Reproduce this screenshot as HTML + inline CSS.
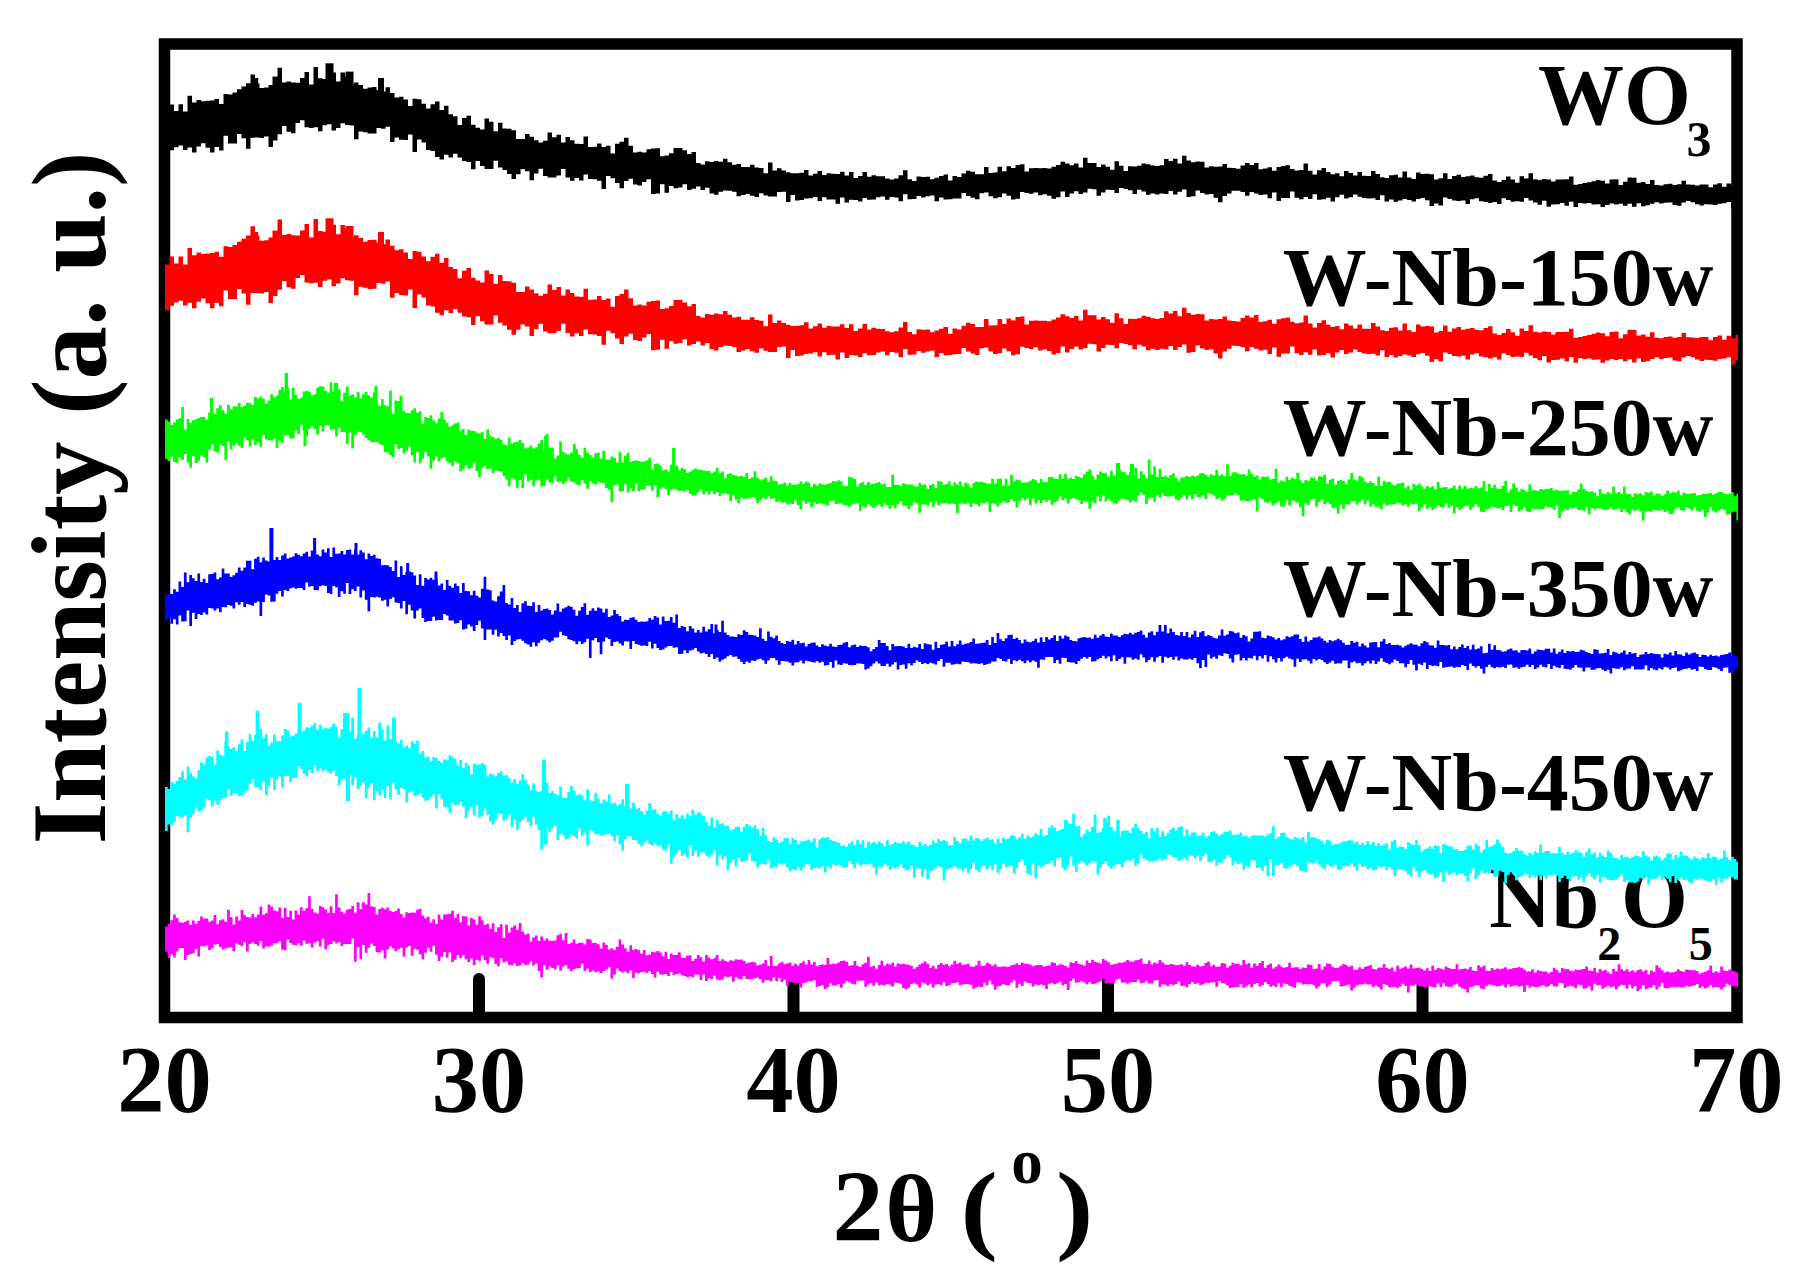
<!DOCTYPE html>
<html lang="en"><head><meta charset="utf-8"><title>XRD patterns</title>
<style>html,body{margin:0;padding:0;background:#fff}body{width:1805px;height:1286px;overflow:hidden}</style></head>
<body>
<svg width="1805" height="1286" viewBox="0 0 1805 1286" style="display:block">
<rect width="1805" height="1286" fill="#fff"/>
<rect x="164.5" y="44" width="1572.5" height="973.5" fill="none" stroke="#000" stroke-width="11.5"/>
<path d="M473.0 1012 V979 a6 6 0 0 1 12 0 V1012Z" fill="#000"/>
<path d="M787.5 1012 V979 a6 6 0 0 1 12 0 V1012Z" fill="#000"/>
<path d="M1102.0 1012 V979 a6 6 0 0 1 12 0 V1012Z" fill="#000"/>
<path d="M1416.5 1012 V979 a6 6 0 0 1 12 0 V1012Z" fill="#000"/>
<g style="font-family:'Liberation Serif',serif;font-weight:bold" fill="#000">
<text x="1538" y="124" font-size="86">WO</text>
<text x="1686.6" y="156.2" font-size="50">3</text>
<text x="1282.8" y="305.2" font-size="83.5" textLength="430.6" lengthAdjust="spacingAndGlyphs">W-Nb-150w</text>
<text x="1282.8" y="455.4" font-size="83.5" textLength="430.6" lengthAdjust="spacingAndGlyphs">W-Nb-250w</text>
<text x="1282.8" y="615.8" font-size="83.5" textLength="430.6" lengthAdjust="spacingAndGlyphs">W-Nb-350w</text>
<text x="1282.8" y="810.2" font-size="83.5" textLength="430.6" lengthAdjust="spacingAndGlyphs">W-Nb-450w</text>
<text x="1489.3" y="927" font-size="86">Nb</text>
<text x="1597.3" y="960" font-size="48">2</text>
<text x="1621" y="927" font-size="86">O</text>
<text x="1688.8" y="960" font-size="48">5</text>
<text x="164.4" y="1112.2" font-size="94.5" text-anchor="middle">20</text>
<text x="479.0" y="1112.2" font-size="94.5" text-anchor="middle">30</text>
<text x="793.5" y="1112.2" font-size="94.5" text-anchor="middle">40</text>
<text x="1108.0" y="1112.2" font-size="94.5" text-anchor="middle">50</text>
<text x="1422.5" y="1112.2" font-size="94.5" text-anchor="middle">60</text>
<text x="1736.2" y="1112.2" font-size="94.5" text-anchor="middle">70</text>
<text x="832.5" y="1240.8" font-size="102">2</text>
<text transform="translate(885.3 1240.7) scale(1.05 1)" font-size="95">θ</text>
<text transform="translate(960.5 1241) scale(1.12 1)" font-size="100">(</text>
<text x="1011.3" y="1182.8" font-size="63">o</text>
<text transform="translate(1056 1241) scale(1.12 1)" font-size="100">)</text>
<text transform="translate(104.7 844.3) rotate(-90)" font-size="106.6">Intensity (a. u.)</text>
</g>
<path fill="#000000" d="M165.0 111.9 L169.5 111.9 L169.5 104.5 L174.0 104.5 L174.0 110.9 L178.5 110.9 L178.5 104.2 L183.0 104.2 L183.0 111.5 L187.5 111.5 L187.5 95.7 L192.0 95.7 L192.0 102.6 L196.5 102.6 L196.5 100.1 L201.0 100.1 L201.0 101.2 L205.5 101.2 L205.5 100.7 L210.0 100.7 L210.0 100.4 L214.5 100.4 L214.5 99.1 L219.0 99.1 L219.0 103.9 L223.5 103.9 L223.5 93.9 L228.0 93.9 L228.0 94.4 L232.5 94.4 L232.5 92.4 L237.0 92.4 L237.0 89.3 L241.5 89.3 L241.5 86.5 L246.0 86.5 L246.0 83.3 L250.5 83.3 L250.5 74.4 L255.0 74.4 L255.0 83.5 L259.5 83.5 L259.5 88.0 L264.0 88.0 L264.0 87.5 L268.5 87.5 L268.5 85.0 L273.0 85.0 L273.0 78.8 L277.5 78.8 L277.5 67.7 L282.0 67.7 L282.0 82.4 L286.5 82.4 L286.5 81.6 L291.0 81.6 L291.0 82.6 L295.5 82.6 L295.5 82.8 L300.0 82.8 L300.0 77.9 L304.5 77.9 L304.5 71.9 L309.0 71.9 L309.0 84.4 L313.5 84.4 L313.5 67.1 L318.0 67.1 L318.0 78.3 L322.5 78.3 L322.5 78.9 L327.0 78.9 L327.0 76.9 L331.5 76.9 L331.5 72.4 L336.0 72.4 L336.0 81.4 L340.5 81.4 L340.5 72.6 L345.0 72.6 L345.0 76.4 L349.5 76.4 L349.5 84.1 L354.0 84.1 L354.0 82.6 L358.5 82.6 L358.5 84.9 L363.0 84.9 L363.0 88.8 L367.5 88.8 L367.5 87.4 L372.0 87.4 L372.0 87.0 L376.5 87.0 L376.5 89.9 L381.0 89.9 L381.0 91.5 L385.5 91.5 L385.5 87.2 L390.0 87.2 L390.0 93.0 L394.5 93.0 L394.5 97.4 L399.0 97.4 L399.0 96.7 L403.5 96.7 L403.5 99.6 L408.0 99.6 L408.0 106.0 L412.5 106.0 L412.5 98.7 L417.0 98.7 L417.0 99.3 L421.5 99.3 L421.5 103.8 L426.0 103.8 L426.0 108.5 L430.5 108.5 L430.5 104.3 L435.0 104.3 L435.0 101.5 L439.5 101.5 L439.5 110.1 L444.0 110.1 L444.0 105.8 L448.5 105.8 L448.5 114.2 L453.0 114.2 L453.0 116.3 L457.5 116.3 L457.5 125.0 L462.0 125.0 L462.0 118.1 L466.5 118.1 L466.5 115.8 L471.0 115.8 L471.0 124.8 L475.5 124.8 L475.5 127.7 L480.0 127.7 L480.0 129.5 L484.5 129.5 L484.5 118.4 L489.0 118.4 L489.0 121.8 L493.5 121.8 L493.5 131.2 L498.0 131.2 L498.0 122.8 L502.5 122.8 L502.5 128.6 L507.0 128.6 L507.0 128.7 L511.5 128.7 L511.5 130.2 L516.0 130.2 L516.0 138.9 L520.5 138.9 L520.5 139.1 L525.0 139.1 L525.0 134.0 L529.5 134.0 L529.5 136.8 L534.0 136.8 L534.0 140.3 L538.5 140.3 L538.5 142.6 L543.0 142.6 L543.0 140.8 L547.5 140.8 L547.5 132.4 L552.0 132.4 L552.0 137.3 L556.5 137.3 L556.5 134.7 L561.0 134.7 L561.0 142.6 L565.5 142.6 L565.5 137.0 L570.0 137.0 L570.0 140.3 L574.5 140.3 L574.5 143.8 L579.0 143.8 L579.0 144.1 L583.5 144.1 L583.5 136.6 L588.0 136.6 L588.0 147.0 L592.5 147.0 L592.5 146.8 L597.0 146.8 L597.0 143.5 L601.5 143.5 L601.5 147.1 L606.0 147.1 L606.0 145.8 L610.5 145.8 L610.5 153.5 L615.0 153.5 L615.0 143.7 L619.5 143.7 L619.5 141.8 L624.0 141.8 L624.0 137.7 L628.5 137.7 L628.5 145.8 L633.0 145.8 L633.0 152.6 L637.5 152.6 L637.5 151.7 L642.0 151.7 L642.0 152.6 L646.5 152.6 L646.5 149.2 L651.0 149.2 L651.0 148.6 L655.5 148.6 L655.5 148.2 L660.0 148.2 L660.0 156.2 L664.5 156.2 L664.5 155.5 L669.0 155.5 L669.0 153.3 L673.5 153.3 L673.5 148.0 L678.0 148.0 L678.0 148.0 L682.5 148.0 L682.5 150.2 L687.0 150.2 L687.0 153.9 L691.5 153.9 L691.5 151.9 L696.0 151.9 L696.0 163.1 L700.5 163.1 L700.5 164.5 L705.0 164.5 L705.0 161.2 L709.5 161.2 L709.5 162.0 L714.0 162.0 L714.0 161.0 L718.5 161.0 L718.5 161.7 L723.0 161.7 L723.0 158.7 L727.5 158.7 L727.5 162.3 L732.0 162.3 L732.0 164.7 L736.5 164.7 L736.5 164.1 L741.0 164.1 L741.0 166.9 L745.5 166.9 L745.5 167.0 L750.0 167.0 L750.0 164.8 L754.5 164.8 L754.5 167.4 L759.0 167.4 L759.0 168.0 L763.5 168.0 L763.5 173.2 L768.0 173.2 L768.0 162.5 L772.5 162.5 L772.5 170.4 L777.0 170.4 L777.0 168.2 L781.5 168.2 L781.5 170.6 L786.0 170.6 L786.0 172.2 L790.5 172.2 L790.5 173.3 L795.0 173.3 L795.0 173.2 L799.5 173.2 L799.5 172.7 L804.0 172.7 L804.0 170.1 L808.5 170.1 L808.5 175.6 L813.0 175.6 L813.0 173.7 L817.5 173.7 L817.5 171.1 L822.0 171.1 L822.0 174.9 L826.5 174.9 L826.5 173.3 L831.0 173.3 L831.0 173.7 L835.5 173.7 L835.5 173.9 L840.0 173.9 L840.0 171.8 L844.5 171.8 L844.5 175.4 L849.0 175.4 L849.0 171.9 L853.5 171.9 L853.5 178.0 L858.0 178.0 L858.0 175.9 L862.5 175.9 L862.5 171.9 L867.0 171.9 L867.0 176.8 L871.5 176.8 L871.5 175.2 L876.0 175.2 L876.0 176.2 L880.5 176.2 L880.5 176.3 L885.0 176.3 L885.0 178.5 L889.5 178.5 L889.5 179.4 L894.0 179.4 L894.0 178.4 L898.5 178.4 L898.5 175.2 L903.0 175.2 L903.0 170.2 L907.5 170.2 L907.5 179.2 L912.0 179.2 L912.0 181.0 L916.5 181.0 L916.5 176.6 L921.0 176.6 L921.0 177.1 L925.5 177.1 L925.5 176.8 L930.0 176.8 L930.0 179.2 L934.5 179.2 L934.5 177.8 L939.0 177.8 L939.0 176.1 L943.5 176.1 L943.5 174.6 L948.0 174.6 L948.0 180.4 L952.5 180.4 L952.5 175.9 L957.0 175.9 L957.0 176.9 L961.5 176.9 L961.5 173.5 L966.0 173.5 L966.0 170.7 L970.5 170.7 L970.5 171.7 L975.0 171.7 L975.0 174.3 L979.5 174.3 L979.5 174.3 L984.0 174.3 L984.0 167.1 L988.5 167.1 L988.5 172.9 L993.0 172.9 L993.0 172.5 L997.5 172.5 L997.5 166.7 L1002.0 166.7 L1002.0 171.2 L1006.5 171.2 L1006.5 166.2 L1011.0 166.2 L1011.0 168.1 L1015.5 168.1 L1015.5 165.0 L1020.0 165.0 L1020.0 164.3 L1024.5 164.3 L1024.5 171.6 L1029.0 171.6 L1029.0 168.2 L1033.5 168.2 L1033.5 168.0 L1038.0 168.0 L1038.0 168.2 L1042.5 168.2 L1042.5 168.0 L1047.0 168.0 L1047.0 168.4 L1051.5 168.4 L1051.5 166.8 L1056.0 166.8 L1056.0 164.9 L1060.5 164.9 L1060.5 161.8 L1065.0 161.8 L1065.0 163.6 L1069.5 163.6 L1069.5 165.3 L1074.0 165.3 L1074.0 163.5 L1078.5 163.5 L1078.5 167.6 L1083.0 167.6 L1083.0 157.8 L1087.5 157.8 L1087.5 163.0 L1092.0 163.0 L1092.0 163.0 L1096.5 163.0 L1096.5 166.9 L1101.0 166.9 L1101.0 164.5 L1105.5 164.5 L1105.5 166.7 L1110.0 166.7 L1110.0 169.8 L1114.5 169.8 L1114.5 161.2 L1119.0 161.2 L1119.0 165.7 L1123.5 165.7 L1123.5 171.1 L1128.0 171.1 L1128.0 166.3 L1132.5 166.3 L1132.5 166.6 L1137.0 166.6 L1137.0 165.8 L1141.5 165.8 L1141.5 163.4 L1146.0 163.4 L1146.0 164.2 L1150.5 164.2 L1150.5 165.6 L1155.0 165.6 L1155.0 166.1 L1159.5 166.1 L1159.5 165.2 L1164.0 165.2 L1164.0 159.0 L1168.5 159.0 L1168.5 160.9 L1173.0 160.9 L1173.0 158.7 L1177.5 158.7 L1177.5 163.6 L1182.0 163.6 L1182.0 155.7 L1186.5 155.7 L1186.5 160.6 L1191.0 160.6 L1191.0 162.2 L1195.5 162.2 L1195.5 161.5 L1200.0 161.5 L1200.0 161.8 L1204.5 161.8 L1204.5 167.5 L1209.0 167.5 L1209.0 166.3 L1213.5 166.3 L1213.5 166.7 L1218.0 166.7 L1218.0 166.4 L1222.5 166.4 L1222.5 163.9 L1227.0 163.9 L1227.0 167.8 L1231.5 167.8 L1231.5 168.1 L1236.0 168.1 L1236.0 168.8 L1240.5 168.8 L1240.5 165.5 L1245.0 165.5 L1245.0 163.1 L1249.5 163.1 L1249.5 165.1 L1254.0 165.1 L1254.0 162.9 L1258.5 162.9 L1258.5 169.3 L1263.0 169.3 L1263.0 168.5 L1267.5 168.5 L1267.5 167.2 L1272.0 167.2 L1272.0 170.8 L1276.5 170.8 L1276.5 166.9 L1281.0 166.9 L1281.0 165.9 L1285.5 165.9 L1285.5 165.3 L1290.0 165.3 L1290.0 169.1 L1294.5 169.1 L1294.5 170.6 L1299.0 170.6 L1299.0 169.9 L1303.5 169.9 L1303.5 163.4 L1308.0 163.4 L1308.0 170.8 L1312.5 170.8 L1312.5 174.4 L1317.0 174.4 L1317.0 170.3 L1321.5 170.3 L1321.5 168.0 L1326.0 168.0 L1326.0 172.1 L1330.5 172.1 L1330.5 174.2 L1335.0 174.2 L1335.0 173.2 L1339.5 173.2 L1339.5 176.2 L1344.0 176.2 L1344.0 171.0 L1348.5 171.0 L1348.5 172.9 L1353.0 172.9 L1353.0 175.5 L1357.5 175.5 L1357.5 171.9 L1362.0 171.9 L1362.0 175.8 L1366.5 175.8 L1366.5 175.9 L1371.0 175.9 L1371.0 170.9 L1375.5 170.9 L1375.5 174.0 L1380.0 174.0 L1380.0 177.3 L1384.5 177.3 L1384.5 177.9 L1389.0 177.9 L1389.0 175.2 L1393.5 175.2 L1393.5 174.7 L1398.0 174.7 L1398.0 177.6 L1402.5 177.6 L1402.5 171.4 L1407.0 171.4 L1407.0 177.4 L1411.5 177.4 L1411.5 179.1 L1416.0 179.1 L1416.0 172.4 L1420.5 172.4 L1420.5 174.1 L1425.0 174.1 L1425.0 173.7 L1429.5 173.7 L1429.5 174.2 L1434.0 174.2 L1434.0 179.4 L1438.5 179.4 L1438.5 178.2 L1443.0 178.2 L1443.0 173.2 L1447.5 173.2 L1447.5 178.9 L1452.0 178.9 L1452.0 175.9 L1456.5 175.9 L1456.5 174.8 L1461.0 174.8 L1461.0 177.1 L1465.5 177.1 L1465.5 176.3 L1470.0 176.3 L1470.0 175.6 L1474.5 175.6 L1474.5 177.2 L1479.0 177.2 L1479.0 177.7 L1483.5 177.7 L1483.5 175.8 L1488.0 175.8 L1488.0 174.1 L1492.5 174.1 L1492.5 180.6 L1497.0 180.6 L1497.0 182.1 L1501.5 182.1 L1501.5 180.1 L1506.0 180.1 L1506.0 176.5 L1510.5 176.5 L1510.5 179.6 L1515.0 179.6 L1515.0 182.7 L1519.5 182.7 L1519.5 176.3 L1524.0 176.3 L1524.0 178.4 L1528.5 178.4 L1528.5 173.3 L1533.0 173.3 L1533.0 179.2 L1537.5 179.2 L1537.5 180.0 L1542.0 180.0 L1542.0 179.0 L1546.5 179.0 L1546.5 179.5 L1551.0 179.5 L1551.0 181.6 L1555.5 181.6 L1555.5 179.5 L1560.0 179.5 L1560.0 179.4 L1564.5 179.4 L1564.5 179.2 L1569.0 179.2 L1569.0 176.5 L1573.5 176.5 L1573.5 184.7 L1578.0 184.7 L1578.0 184.1 L1582.5 184.1 L1582.5 183.0 L1587.0 183.0 L1587.0 182.3 L1591.5 182.3 L1591.5 181.2 L1596.0 181.2 L1596.0 180.1 L1600.5 180.1 L1600.5 180.8 L1605.0 180.8 L1605.0 183.4 L1609.5 183.4 L1609.5 179.6 L1614.0 179.6 L1614.0 179.3 L1618.5 179.3 L1618.5 185.1 L1623.0 185.1 L1623.0 181.7 L1627.5 181.7 L1627.5 177.6 L1632.0 177.6 L1632.0 177.8 L1636.5 177.8 L1636.5 182.7 L1641.0 182.7 L1641.0 182.0 L1645.5 182.0 L1645.5 183.9 L1650.0 183.9 L1650.0 180.1 L1654.5 180.1 L1654.5 185.0 L1659.0 185.0 L1659.0 185.4 L1663.5 185.4 L1663.5 184.2 L1668.0 184.2 L1668.0 183.8 L1672.5 183.8 L1672.5 184.9 L1677.0 184.9 L1677.0 184.3 L1681.5 184.3 L1681.5 180.7 L1686.0 180.7 L1686.0 184.6 L1690.5 184.6 L1690.5 184.7 L1695.0 184.7 L1695.0 185.4 L1699.5 185.4 L1699.5 184.5 L1704.0 184.5 L1704.0 184.6 L1708.5 184.6 L1708.5 187.2 L1713.0 187.2 L1713.0 184.5 L1717.5 184.5 L1717.5 183.2 L1722.0 183.2 L1722.0 186.8 L1726.5 186.8 L1726.5 183.4 L1731.0 183.4 L1731.0 185.5 L1735.5 185.5 L1735.5 182.5 L1738.0 182.5 L1738.0 204.6 L1735.5 204.6 L1735.5 208.6 L1731.0 208.6 L1731.0 202.1 L1726.5 202.1 L1726.5 203.2 L1722.0 203.2 L1722.0 203.7 L1717.5 203.7 L1717.5 205.1 L1713.0 205.1 L1713.0 204.6 L1708.5 204.6 L1708.5 204.3 L1704.0 204.3 L1704.0 205.6 L1699.5 205.6 L1699.5 204.2 L1695.0 204.2 L1695.0 202.2 L1690.5 202.2 L1690.5 201.0 L1686.0 201.0 L1686.0 202.4 L1681.5 202.4 L1681.5 205.7 L1677.0 205.7 L1677.0 205.0 L1672.5 205.0 L1672.5 202.4 L1668.0 202.4 L1668.0 202.8 L1663.5 202.8 L1663.5 203.6 L1659.0 203.6 L1659.0 202.2 L1654.5 202.2 L1654.5 203.7 L1650.0 203.7 L1650.0 205.3 L1645.5 205.3 L1645.5 206.2 L1641.0 206.2 L1641.0 203.2 L1636.5 203.2 L1636.5 206.7 L1632.0 206.7 L1632.0 203.8 L1627.5 203.8 L1627.5 205.7 L1623.0 205.7 L1623.0 203.7 L1618.5 203.7 L1618.5 204.6 L1614.0 204.6 L1614.0 203.6 L1609.5 203.6 L1609.5 204.9 L1605.0 204.9 L1605.0 207.1 L1600.5 207.1 L1600.5 204.2 L1596.0 204.2 L1596.0 204.4 L1591.5 204.4 L1591.5 202.9 L1587.0 202.9 L1587.0 203.6 L1582.5 203.6 L1582.5 203.0 L1578.0 203.0 L1578.0 206.9 L1573.5 206.9 L1573.5 201.8 L1569.0 201.8 L1569.0 205.7 L1564.5 205.7 L1564.5 203.0 L1560.0 203.0 L1560.0 204.2 L1555.5 204.2 L1555.5 204.6 L1551.0 204.6 L1551.0 206.7 L1546.5 206.7 L1546.5 200.8 L1542.0 200.8 L1542.0 204.8 L1537.5 204.8 L1537.5 202.6 L1533.0 202.6 L1533.0 200.4 L1528.5 200.4 L1528.5 198.0 L1524.0 198.0 L1524.0 201.7 L1519.5 201.7 L1519.5 201.3 L1515.0 201.3 L1515.0 201.7 L1510.5 201.7 L1510.5 200.0 L1506.0 200.0 L1506.0 198.3 L1501.5 198.3 L1501.5 204.0 L1497.0 204.0 L1497.0 202.0 L1492.5 202.0 L1492.5 203.0 L1488.0 203.0 L1488.0 201.9 L1483.5 201.9 L1483.5 201.2 L1479.0 201.2 L1479.0 198.3 L1474.5 198.3 L1474.5 199.3 L1470.0 199.3 L1470.0 204.0 L1465.5 204.0 L1465.5 200.5 L1461.0 200.5 L1461.0 201.1 L1456.5 201.1 L1456.5 200.6 L1452.0 200.6 L1452.0 199.0 L1447.5 199.0 L1447.5 197.6 L1443.0 197.6 L1443.0 205.4 L1438.5 205.4 L1438.5 203.5 L1434.0 203.5 L1434.0 205.9 L1429.5 205.9 L1429.5 200.3 L1425.0 200.3 L1425.0 197.9 L1420.5 197.9 L1420.5 199.0 L1416.0 199.0 L1416.0 201.4 L1411.5 201.4 L1411.5 200.0 L1407.0 200.0 L1407.0 199.1 L1402.5 199.1 L1402.5 200.6 L1398.0 200.6 L1398.0 201.8 L1393.5 201.8 L1393.5 199.5 L1389.0 199.5 L1389.0 201.4 L1384.5 201.4 L1384.5 195.2 L1380.0 195.2 L1380.0 199.9 L1375.5 199.9 L1375.5 198.3 L1371.0 198.3 L1371.0 198.4 L1366.5 198.4 L1366.5 198.0 L1362.0 198.0 L1362.0 196.7 L1357.5 196.7 L1357.5 194.5 L1353.0 194.5 L1353.0 197.2 L1348.5 197.2 L1348.5 198.6 L1344.0 198.6 L1344.0 194.8 L1339.5 194.8 L1339.5 197.2 L1335.0 197.2 L1335.0 201.5 L1330.5 201.5 L1330.5 197.7 L1326.0 197.7 L1326.0 199.3 L1321.5 199.3 L1321.5 199.7 L1317.0 199.7 L1317.0 194.3 L1312.5 194.3 L1312.5 199.1 L1308.0 199.1 L1308.0 196.9 L1303.5 196.9 L1303.5 199.3 L1299.0 199.3 L1299.0 197.8 L1294.5 197.8 L1294.5 191.5 L1290.0 191.5 L1290.0 198.0 L1285.5 198.0 L1285.5 197.9 L1281.0 197.9 L1281.0 200.9 L1276.5 200.9 L1276.5 192.4 L1272.0 192.4 L1272.0 198.2 L1267.5 198.2 L1267.5 194.5 L1263.0 194.5 L1263.0 195.0 L1258.5 195.0 L1258.5 193.5 L1254.0 193.5 L1254.0 191.9 L1249.5 191.9 L1249.5 195.7 L1245.0 195.7 L1245.0 192.0 L1240.5 192.0 L1240.5 190.8 L1236.0 190.8 L1236.0 190.7 L1231.5 190.7 L1231.5 193.4 L1227.0 193.4 L1227.0 196.0 L1222.5 196.0 L1222.5 202.2 L1218.0 202.2 L1218.0 197.8 L1213.5 197.8 L1213.5 193.9 L1209.0 193.9 L1209.0 194.4 L1204.5 194.4 L1204.5 192.9 L1200.0 192.9 L1200.0 190.5 L1195.5 190.5 L1195.5 196.2 L1191.0 196.2 L1191.0 197.1 L1186.5 197.1 L1186.5 189.5 L1182.0 189.5 L1182.0 191.7 L1177.5 191.7 L1177.5 194.6 L1173.0 194.6 L1173.0 190.9 L1168.5 190.9 L1168.5 193.9 L1164.0 193.9 L1164.0 193.4 L1159.5 193.4 L1159.5 194.5 L1155.0 194.5 L1155.0 193.4 L1150.5 193.4 L1150.5 194.8 L1146.0 194.8 L1146.0 191.5 L1141.5 191.5 L1141.5 189.8 L1137.0 189.8 L1137.0 193.9 L1132.5 193.9 L1132.5 190.3 L1128.0 190.3 L1128.0 189.0 L1123.5 189.0 L1123.5 188.1 L1119.0 188.1 L1119.0 192.9 L1114.5 192.9 L1114.5 190.0 L1110.0 190.0 L1110.0 189.7 L1105.5 189.7 L1105.5 192.6 L1101.0 192.6 L1101.0 195.8 L1096.5 195.8 L1096.5 189.2 L1092.0 189.2 L1092.0 188.8 L1087.5 188.8 L1087.5 192.5 L1083.0 192.5 L1083.0 193.9 L1078.5 193.9 L1078.5 191.2 L1074.0 191.2 L1074.0 193.5 L1069.5 193.5 L1069.5 196.9 L1065.0 196.9 L1065.0 191.5 L1060.5 191.5 L1060.5 197.3 L1056.0 197.3 L1056.0 198.7 L1051.5 198.7 L1051.5 195.7 L1047.0 195.7 L1047.0 194.2 L1042.5 194.2 L1042.5 195.3 L1038.0 195.3 L1038.0 192.4 L1033.5 192.4 L1033.5 193.8 L1029.0 193.8 L1029.0 192.9 L1024.5 192.9 L1024.5 191.9 L1020.0 191.9 L1020.0 198.7 L1015.5 198.7 L1015.5 199.6 L1011.0 199.6 L1011.0 195.8 L1006.5 195.8 L1006.5 193.4 L1002.0 193.4 L1002.0 197.3 L997.5 197.3 L997.5 198.2 L993.0 198.2 L993.0 196.2 L988.5 196.2 L988.5 192.5 L984.0 192.5 L984.0 193.3 L979.5 193.3 L979.5 199.3 L975.0 199.3 L975.0 197.8 L970.5 197.8 L970.5 196.0 L966.0 196.0 L966.0 193.1 L961.5 193.1 L961.5 198.4 L957.0 198.4 L957.0 198.6 L952.5 198.6 L952.5 199.3 L948.0 199.3 L948.0 199.5 L943.5 199.5 L943.5 197.4 L939.0 197.4 L939.0 201.2 L934.5 201.2 L934.5 195.5 L930.0 195.5 L930.0 196.3 L925.5 196.3 L925.5 197.4 L921.0 197.4 L921.0 195.9 L916.5 195.9 L916.5 199.0 L912.0 199.0 L912.0 199.2 L907.5 199.2 L907.5 194.2 L903.0 194.2 L903.0 201.3 L898.5 201.3 L898.5 197.5 L894.0 197.5 L894.0 197.0 L889.5 197.0 L889.5 199.8 L885.0 199.8 L885.0 196.5 L880.5 196.5 L880.5 197.3 L876.0 197.3 L876.0 199.5 L871.5 199.5 L871.5 199.8 L867.0 199.8 L867.0 197.9 L862.5 197.9 L862.5 201.4 L858.0 201.4 L858.0 199.9 L853.5 199.9 L853.5 199.7 L849.0 199.7 L849.0 202.4 L844.5 202.4 L844.5 197.4 L840.0 197.4 L840.0 203.7 L835.5 203.7 L835.5 199.5 L831.0 199.5 L831.0 199.5 L826.5 199.5 L826.5 197.2 L822.0 197.2 L822.0 201.1 L817.5 201.1 L817.5 197.0 L813.0 197.0 L813.0 198.2 L808.5 198.2 L808.5 198.6 L804.0 198.6 L804.0 200.1 L799.5 200.1 L799.5 200.5 L795.0 200.5 L795.0 195.0 L790.5 195.0 L790.5 202.1 L786.0 202.1 L786.0 191.7 L781.5 191.7 L781.5 192.0 L777.0 192.0 L777.0 196.5 L772.5 196.5 L772.5 196.6 L768.0 196.6 L768.0 195.4 L763.5 195.4 L763.5 193.3 L759.0 193.3 L759.0 197.1 L754.5 197.1 L754.5 195.7 L750.0 195.7 L750.0 193.9 L745.5 193.9 L745.5 195.1 L741.0 195.1 L741.0 196.3 L736.5 196.3 L736.5 191.8 L732.0 191.8 L732.0 190.8 L727.5 190.8 L727.5 190.5 L723.0 190.5 L723.0 191.7 L718.5 191.7 L718.5 194.8 L714.0 194.8 L714.0 193.6 L709.5 193.6 L709.5 187.7 L705.0 187.7 L705.0 190.1 L700.5 190.1 L700.5 186.4 L696.0 186.4 L696.0 188.8 L691.5 188.8 L691.5 190.0 L687.0 190.0 L687.0 184.3 L682.5 184.3 L682.5 187.6 L678.0 187.6 L678.0 188.3 L673.5 188.3 L673.5 185.9 L669.0 185.9 L669.0 192.8 L664.5 192.8 L664.5 184.3 L660.0 184.3 L660.0 193.6 L655.5 193.6 L655.5 194.0 L651.0 194.0 L651.0 179.2 L646.5 179.2 L646.5 182.1 L642.0 182.1 L642.0 185.5 L637.5 185.5 L637.5 184.6 L633.0 184.6 L633.0 178.8 L628.5 178.8 L628.5 181.1 L624.0 181.1 L624.0 188.3 L619.5 188.3 L619.5 183.0 L615.0 183.0 L615.0 178.2 L610.5 178.2 L610.5 175.9 L606.0 175.9 L606.0 188.9 L601.5 188.9 L601.5 180.7 L597.0 180.7 L597.0 179.2 L592.5 179.2 L592.5 179.1 L588.0 179.1 L588.0 174.6 L583.5 174.6 L583.5 180.6 L579.0 180.6 L579.0 177.9 L574.5 177.9 L574.5 180.7 L570.0 180.7 L570.0 177.5 L565.5 177.5 L565.5 168.9 L561.0 168.9 L561.0 175.4 L556.5 175.4 L556.5 177.6 L552.0 177.6 L552.0 177.5 L547.5 177.5 L547.5 176.0 L543.0 176.0 L543.0 168.8 L538.5 168.8 L538.5 173.6 L534.0 173.6 L534.0 180.2 L529.5 180.2 L529.5 171.2 L525.0 171.2 L525.0 169.3 L520.5 169.3 L520.5 174.2 L516.0 174.2 L516.0 178.9 L511.5 178.9 L511.5 174.1 L507.0 174.1 L507.0 170.0 L502.5 170.0 L502.5 167.6 L498.0 167.6 L498.0 160.8 L493.5 160.8 L493.5 169.1 L489.0 169.1 L489.0 169.0 L484.5 169.0 L484.5 166.0 L480.0 166.0 L480.0 160.9 L475.5 160.9 L475.5 169.3 L471.0 169.3 L471.0 161.9 L466.5 161.9 L466.5 161.0 L462.0 161.0 L462.0 157.4 L457.5 157.4 L457.5 153.7 L453.0 153.7 L453.0 157.5 L448.5 157.5 L448.5 154.8 L444.0 154.8 L444.0 159.5 L439.5 159.5 L439.5 157.1 L435.0 157.1 L435.0 151.0 L430.5 151.0 L430.5 149.9 L426.0 149.9 L426.0 142.6 L421.5 142.6 L421.5 139.5 L417.0 139.5 L417.0 152.0 L412.5 152.0 L412.5 134.6 L408.0 134.6 L408.0 140.1 L403.5 140.1 L403.5 139.7 L399.0 139.7 L399.0 137.6 L394.5 137.6 L394.5 142.0 L390.0 142.0 L390.0 126.7 L385.5 126.7 L385.5 128.8 L381.0 128.8 L381.0 128.0 L376.5 128.0 L376.5 133.4 L372.0 133.4 L372.0 133.6 L367.5 133.6 L367.5 132.2 L363.0 132.2 L363.0 131.4 L358.5 131.4 L358.5 139.2 L354.0 139.2 L354.0 125.5 L349.5 125.5 L349.5 125.0 L345.0 125.0 L345.0 123.2 L340.5 123.2 L340.5 128.0 L336.0 128.0 L336.0 130.6 L331.5 130.6 L331.5 124.2 L327.0 124.2 L327.0 125.3 L322.5 125.3 L322.5 131.2 L318.0 131.2 L318.0 127.3 L313.5 127.3 L313.5 127.9 L309.0 127.9 L309.0 127.3 L304.5 127.3 L304.5 120.2 L300.0 120.2 L300.0 123.0 L295.5 123.0 L295.5 133.3 L291.0 133.3 L291.0 131.8 L286.5 131.8 L286.5 126.0 L282.0 126.0 L282.0 134.2 L277.5 134.2 L277.5 140.4 L273.0 140.4 L273.0 146.9 L268.5 146.9 L268.5 136.5 L264.0 136.5 L264.0 137.9 L259.5 137.9 L259.5 137.5 L255.0 137.5 L255.0 137.7 L250.5 137.7 L250.5 148.8 L246.0 148.8 L246.0 138.2 L241.5 138.2 L241.5 133.9 L237.0 133.9 L237.0 143.6 L232.5 143.6 L232.5 143.5 L228.0 143.5 L228.0 135.7 L223.5 135.7 L223.5 150.5 L219.0 150.5 L219.0 147.1 L214.5 147.1 L214.5 152.4 L210.0 152.4 L210.0 147.8 L205.5 147.8 L205.5 143.3 L201.0 143.3 L201.0 146.4 L196.5 146.4 L196.5 152.5 L192.0 152.5 L192.0 147.4 L187.5 147.4 L187.5 150.0 L183.0 150.0 L183.0 145.6 L178.5 145.6 L178.5 147.3 L174.0 147.3 L174.0 150.3 L169.5 150.3 L169.5 154.6 L165.0 154.6Z"/>
<path fill="#ff0000" d="M165.0 264.4 L169.5 264.4 L169.5 256.6 L174.0 256.6 L174.0 263.6 L178.5 263.6 L178.5 256.6 L183.0 256.6 L183.0 264.5 L187.5 264.5 L187.5 247.9 L192.0 247.9 L192.0 255.3 L196.5 255.3 L196.5 252.6 L201.0 252.6 L201.0 253.9 L205.5 253.9 L205.5 253.4 L210.0 253.4 L210.0 253.1 L214.5 253.1 L214.5 251.7 L219.0 251.7 L219.0 256.8 L223.5 256.8 L223.5 246.3 L228.0 246.3 L228.0 246.9 L232.5 246.9 L232.5 245.0 L237.0 245.0 L237.0 241.7 L241.5 241.7 L241.5 238.8 L246.0 238.8 L246.0 235.6 L250.5 235.6 L250.5 226.3 L255.0 226.3 L255.0 235.9 L259.5 235.9 L259.5 240.8 L264.0 240.8 L264.0 240.2 L268.5 240.2 L268.5 237.6 L273.0 237.6 L273.0 231.1 L277.5 231.1 L277.5 219.4 L282.0 219.4 L282.0 234.9 L286.5 234.9 L286.5 234.1 L291.0 234.1 L291.0 235.2 L295.5 235.2 L295.5 235.4 L300.0 235.4 L300.0 230.4 L304.5 230.4 L304.5 224.1 L309.0 224.1 L309.0 237.4 L313.5 237.4 L313.5 219.1 L318.0 219.1 L318.0 231.0 L322.5 231.0 L322.5 231.7 L327.0 231.7 L327.0 229.6 L331.5 229.6 L331.5 224.8 L336.0 224.8 L336.0 234.2 L340.5 234.2 L340.5 224.9 L345.0 224.9 L345.0 228.8 L349.5 228.8 L349.5 236.9 L354.0 236.9 L354.0 235.3 L358.5 235.3 L358.5 237.7 L363.0 237.7 L363.0 241.7 L367.5 241.7 L367.5 240.1 L372.0 240.1 L372.0 239.7 L376.5 239.7 L376.5 242.6 L381.0 242.6 L381.0 244.2 L385.5 244.2 L385.5 239.6 L390.0 239.6 L390.0 245.7 L394.5 245.7 L394.5 250.2 L399.0 250.2 L399.0 249.3 L403.5 249.3 L403.5 252.4 L408.0 252.4 L408.0 259.0 L412.5 259.0 L412.5 251.1 L417.0 251.1 L417.0 251.7 L421.5 251.7 L421.5 256.4 L426.0 256.4 L426.0 261.3 L430.5 261.3 L430.5 256.8 L435.0 256.8 L435.0 253.7 L439.5 253.7 L439.5 262.7 L444.0 262.7 L444.0 258.0 L448.5 258.0 L448.5 266.9 L453.0 266.9 L453.0 268.9 L457.5 268.9 L457.5 278.2 L462.0 278.2 L462.0 270.7 L466.5 270.7 L466.5 268.1 L471.0 268.1 L471.0 277.7 L475.5 277.7 L475.5 280.6 L480.0 280.6 L480.0 282.5 L484.5 282.5 L484.5 270.6 L489.0 270.6 L489.0 274.1 L493.5 274.1 L493.5 284.1 L498.0 284.1 L498.0 275.0 L502.5 275.0 L502.5 281.1 L507.0 281.1 L507.0 281.2 L511.5 281.2 L511.5 282.7 L516.0 282.7 L516.0 291.9 L520.5 291.9 L520.5 292.1 L525.0 292.1 L525.0 286.6 L529.5 286.6 L529.5 289.6 L534.0 289.6 L534.0 293.3 L538.5 293.3 L538.5 295.7 L543.0 295.7 L543.0 293.7 L547.5 293.7 L547.5 284.6 L552.0 284.6 L552.0 289.9 L556.5 289.9 L556.5 287.1 L561.0 287.1 L561.0 295.5 L565.5 295.5 L565.5 289.4 L570.0 289.4 L570.0 292.9 L574.5 292.9 L574.5 296.6 L579.0 296.6 L579.0 296.8 L583.5 296.8 L583.5 288.7 L588.0 288.7 L588.0 299.8 L592.5 299.8 L592.5 299.6 L597.0 299.6 L597.0 296.0 L601.5 296.0 L601.5 299.9 L606.0 299.9 L606.0 298.5 L610.5 298.5 L610.5 306.7 L615.0 306.7 L615.0 296.1 L619.5 296.1 L619.5 294.1 L624.0 294.1 L624.0 289.6 L628.5 289.6 L628.5 298.3 L633.0 298.3 L633.0 305.6 L637.5 305.6 L637.5 304.6 L642.0 304.6 L642.0 305.5 L646.5 305.5 L646.5 301.8 L651.0 301.8 L651.0 301.1 L655.5 301.1 L655.5 300.6 L660.0 300.6 L660.0 309.1 L664.5 309.1 L664.5 308.3 L669.0 308.3 L669.0 305.9 L673.5 305.9 L673.5 300.0 L678.0 300.0 L678.0 300.0 L682.5 300.0 L682.5 302.4 L687.0 302.4 L687.0 306.2 L691.5 306.2 L691.5 304.0 L696.0 304.0 L696.0 316.1 L700.5 316.1 L700.5 317.6 L705.0 317.6 L705.0 314.0 L709.5 314.0 L709.5 314.8 L714.0 314.8 L714.0 313.6 L718.5 313.6 L718.5 314.3 L723.0 314.3 L723.0 311.0 L727.5 311.0 L727.5 314.8 L732.0 314.8 L732.0 317.4 L736.5 317.4 L736.5 316.7 L741.0 316.7 L741.0 319.8 L745.5 319.8 L745.5 319.8 L750.0 319.8 L750.0 317.3 L754.5 317.3 L754.5 320.1 L759.0 320.1 L759.0 320.7 L763.5 320.7 L763.5 326.3 L768.0 326.3 L768.0 314.5 L772.5 314.5 L772.5 323.0 L777.0 323.0 L777.0 320.6 L781.5 320.6 L781.5 323.1 L786.0 323.1 L786.0 324.8 L790.5 324.8 L790.5 325.9 L795.0 325.9 L795.0 325.7 L799.5 325.7 L799.5 325.2 L804.0 325.2 L804.0 322.3 L808.5 322.3 L808.5 328.4 L813.0 328.4 L813.0 326.3 L817.5 326.3 L817.5 323.5 L822.0 323.5 L822.0 327.7 L826.5 327.7 L826.5 325.9 L831.0 325.9 L831.0 326.4 L835.5 326.4 L835.5 326.6 L840.0 326.6 L840.0 324.2 L844.5 324.2 L844.5 328.1 L849.0 328.1 L849.0 324.2 L853.5 324.2 L853.5 331.0 L858.0 331.0 L858.0 328.6 L862.5 328.6 L862.5 324.1 L867.0 324.1 L867.0 329.5 L871.5 329.5 L871.5 327.7 L876.0 327.7 L876.0 328.7 L880.5 328.7 L880.5 328.9 L885.0 328.9 L885.0 331.3 L889.5 331.3 L889.5 332.3 L894.0 332.3 L894.0 331.2 L898.5 331.2 L898.5 327.6 L903.0 327.6 L903.0 322.0 L907.5 322.0 L907.5 332.1 L912.0 332.1 L912.0 334.2 L916.5 334.2 L916.5 329.2 L921.0 329.2 L921.0 329.8 L925.5 329.8 L925.5 329.5 L930.0 329.5 L930.0 332.3 L934.5 332.3 L934.5 330.6 L939.0 330.6 L939.0 328.7 L943.5 328.7 L943.5 327.1 L948.0 327.1 L948.0 333.7 L952.5 333.7 L952.5 328.5 L957.0 328.5 L957.0 329.6 L961.5 329.6 L961.5 325.8 L966.0 325.8 L966.0 322.7 L970.5 322.7 L970.5 323.9 L975.0 323.9 L975.0 326.9 L979.5 326.9 L979.5 327.0 L984.0 327.0 L984.0 319.0 L988.5 319.0 L988.5 325.6 L993.0 325.6 L993.0 325.3 L997.5 325.3 L997.5 318.9 L1002.0 318.9 L1002.0 323.9 L1006.5 323.9 L1006.5 318.4 L1011.0 318.4 L1011.0 320.5 L1015.5 320.5 L1015.5 317.1 L1020.0 317.1 L1020.0 316.4 L1024.5 316.4 L1024.5 324.4 L1029.0 324.4 L1029.0 320.7 L1033.5 320.7 L1033.5 320.5 L1038.0 320.5 L1038.0 320.8 L1042.5 320.8 L1042.5 320.7 L1047.0 320.7 L1047.0 321.2 L1051.5 321.2 L1051.5 319.5 L1056.0 319.5 L1056.0 317.4 L1060.5 317.4 L1060.5 314.2 L1065.0 314.2 L1065.0 316.2 L1069.5 316.2 L1069.5 318.0 L1074.0 318.0 L1074.0 316.0 L1078.5 316.0 L1078.5 320.5 L1083.0 320.5 L1083.0 309.7 L1087.5 309.7 L1087.5 315.3 L1092.0 315.3 L1092.0 315.3 L1096.5 315.3 L1096.5 319.6 L1101.0 319.6 L1101.0 316.9 L1105.5 316.9 L1105.5 319.3 L1110.0 319.3 L1110.0 322.8 L1114.5 322.8 L1114.5 313.2 L1119.0 313.2 L1119.0 318.2 L1123.5 318.2 L1123.5 324.1 L1128.0 324.1 L1128.0 318.8 L1132.5 318.8 L1132.5 319.1 L1137.0 319.1 L1137.0 318.3 L1141.5 318.3 L1141.5 315.8 L1146.0 315.8 L1146.0 316.8 L1150.5 316.8 L1150.5 318.3 L1155.0 318.3 L1155.0 318.9 L1159.5 318.9 L1159.5 318.0 L1164.0 318.0 L1164.0 311.2 L1168.5 311.2 L1168.5 313.4 L1173.0 313.4 L1173.0 310.9 L1177.5 310.9 L1177.5 316.3 L1182.0 316.3 L1182.0 307.7 L1186.5 307.7 L1186.5 313.1 L1191.0 313.1 L1191.0 314.7 L1195.5 314.7 L1195.5 314.0 L1200.0 314.0 L1200.0 314.3 L1204.5 314.3 L1204.5 320.5 L1209.0 320.5 L1209.0 319.1 L1213.5 319.1 L1213.5 319.5 L1218.0 319.5 L1218.0 319.1 L1222.5 319.1 L1222.5 316.4 L1227.0 316.4 L1227.0 320.6 L1231.5 320.6 L1231.5 320.9 L1236.0 320.9 L1236.0 321.6 L1240.5 321.6 L1240.5 318.0 L1245.0 318.0 L1245.0 315.4 L1249.5 315.4 L1249.5 317.5 L1254.0 317.5 L1254.0 315.0 L1258.5 315.0 L1258.5 322.1 L1263.0 322.1 L1263.0 321.2 L1267.5 321.2 L1267.5 319.7 L1272.0 319.7 L1272.0 323.7 L1276.5 323.7 L1276.5 319.3 L1281.0 319.3 L1281.0 318.3 L1285.5 318.3 L1285.5 317.5 L1290.0 317.5 L1290.0 321.7 L1294.5 321.7 L1294.5 323.3 L1299.0 323.3 L1299.0 322.5 L1303.5 322.5 L1303.5 315.4 L1308.0 315.4 L1308.0 323.5 L1312.5 323.5 L1312.5 327.5 L1317.0 327.5 L1317.0 322.9 L1321.5 322.9 L1321.5 320.3 L1326.0 320.3 L1326.0 324.8 L1330.5 324.8 L1330.5 327.1 L1335.0 327.1 L1335.0 326.0 L1339.5 326.0 L1339.5 329.2 L1344.0 329.2 L1344.0 323.5 L1348.5 323.5 L1348.5 325.5 L1353.0 325.5 L1353.0 328.5 L1357.5 328.5 L1357.5 324.4 L1362.0 324.4 L1362.0 328.7 L1366.5 328.7 L1366.5 328.7 L1371.0 328.7 L1371.0 323.1 L1375.5 323.1 L1375.5 326.6 L1380.0 326.6 L1380.0 330.2 L1384.5 330.2 L1384.5 330.9 L1389.0 330.9 L1389.0 327.8 L1393.5 327.8 L1393.5 327.3 L1398.0 327.3 L1398.0 330.5 L1402.5 330.5 L1402.5 323.5 L1407.0 323.5 L1407.0 330.2 L1411.5 330.2 L1411.5 332.1 L1416.0 332.1 L1416.0 324.6 L1420.5 324.6 L1420.5 326.5 L1425.0 326.5 L1425.0 326.0 L1429.5 326.0 L1429.5 326.6 L1434.0 326.6 L1434.0 332.4 L1438.5 332.4 L1438.5 331.0 L1443.0 331.0 L1443.0 325.5 L1447.5 325.5 L1447.5 331.7 L1452.0 331.7 L1452.0 328.4 L1456.5 328.4 L1456.5 327.1 L1461.0 327.1 L1461.0 329.7 L1465.5 329.7 L1465.5 328.7 L1470.0 328.7 L1470.0 328.0 L1474.5 328.0 L1474.5 329.8 L1479.0 329.8 L1479.0 330.3 L1483.5 330.3 L1483.5 328.1 L1488.0 328.1 L1488.0 326.2 L1492.5 326.2 L1492.5 333.5 L1497.0 333.5 L1497.0 335.1 L1501.5 335.1 L1501.5 332.9 L1506.0 332.9 L1506.0 328.9 L1510.5 328.9 L1510.5 332.3 L1515.0 332.3 L1515.0 335.7 L1519.5 335.7 L1519.5 328.6 L1524.0 328.6 L1524.0 330.9 L1528.5 330.9 L1528.5 325.2 L1533.0 325.2 L1533.0 331.7 L1537.5 331.7 L1537.5 332.6 L1542.0 332.6 L1542.0 331.6 L1546.5 331.6 L1546.5 332.1 L1551.0 332.1 L1551.0 334.4 L1555.5 334.4 L1555.5 332.0 L1560.0 332.0 L1560.0 331.9 L1564.5 331.9 L1564.5 331.7 L1569.0 331.7 L1569.0 328.7 L1573.5 328.7 L1573.5 337.8 L1578.0 337.8 L1578.0 337.1 L1582.5 337.1 L1582.5 335.9 L1587.0 335.9 L1587.0 335.0 L1591.5 335.0 L1591.5 333.8 L1596.0 333.8 L1596.0 332.6 L1600.5 332.6 L1600.5 333.3 L1605.0 333.3 L1605.0 336.3 L1609.5 336.3 L1609.5 331.9 L1614.0 331.9 L1614.0 331.6 L1618.5 331.6 L1618.5 338.2 L1623.0 338.2 L1623.0 334.2 L1627.5 334.2 L1627.5 329.7 L1632.0 329.7 L1632.0 329.9 L1636.5 329.9 L1636.5 335.4 L1641.0 335.4 L1641.0 334.5 L1645.5 334.5 L1645.5 336.7 L1650.0 336.7 L1650.0 332.3 L1654.5 332.3 L1654.5 337.8 L1659.0 337.8 L1659.0 338.3 L1663.5 338.3 L1663.5 336.9 L1668.0 336.9 L1668.0 336.4 L1672.5 336.4 L1672.5 337.7 L1677.0 337.7 L1677.0 337.0 L1681.5 337.0 L1681.5 332.9 L1686.0 332.9 L1686.0 337.2 L1690.5 337.2 L1690.5 337.4 L1695.0 337.4 L1695.0 338.1 L1699.5 338.1 L1699.5 337.0 L1704.0 337.0 L1704.0 337.1 L1708.5 337.1 L1708.5 340.2 L1713.0 340.2 L1713.0 337.1 L1717.5 337.1 L1717.5 335.6 L1722.0 335.6 L1722.0 339.7 L1726.5 339.7 L1726.5 335.8 L1731.0 335.8 L1731.0 338.2 L1735.5 338.2 L1735.5 334.8 L1738.0 334.8 L1738.0 360.1 L1735.5 360.1 L1735.5 364.6 L1731.0 364.6 L1731.0 357.2 L1726.5 357.2 L1726.5 358.4 L1722.0 358.4 L1722.0 359.1 L1717.5 359.1 L1717.5 360.7 L1713.0 360.7 L1713.0 360.1 L1708.5 360.1 L1708.5 359.7 L1704.0 359.7 L1704.0 361.1 L1699.5 361.1 L1699.5 359.6 L1695.0 359.6 L1695.0 357.3 L1690.5 357.3 L1690.5 356.0 L1686.0 356.0 L1686.0 357.5 L1681.5 357.5 L1681.5 361.3 L1677.0 361.3 L1677.0 360.5 L1672.5 360.5 L1672.5 357.6 L1668.0 357.6 L1668.0 358.0 L1663.5 358.0 L1663.5 358.9 L1659.0 358.9 L1659.0 357.3 L1654.5 357.3 L1654.5 359.0 L1650.0 359.0 L1650.0 360.9 L1645.5 360.9 L1645.5 361.9 L1641.0 361.9 L1641.0 358.5 L1636.5 358.5 L1636.5 362.4 L1632.0 362.4 L1632.0 359.2 L1627.5 359.2 L1627.5 361.3 L1623.0 361.3 L1623.0 359.1 L1618.5 359.1 L1618.5 360.0 L1614.0 360.0 L1614.0 358.9 L1609.5 358.9 L1609.5 360.4 L1605.0 360.4 L1605.0 362.8 L1600.5 362.8 L1600.5 359.6 L1596.0 359.6 L1596.0 359.8 L1591.5 359.8 L1591.5 358.2 L1587.0 358.2 L1587.0 359.0 L1582.5 359.0 L1582.5 358.3 L1578.0 358.3 L1578.0 362.7 L1573.5 362.7 L1573.5 357.0 L1569.0 357.0 L1569.0 361.3 L1564.5 361.3 L1564.5 358.4 L1560.0 358.4 L1560.0 359.7 L1555.5 359.7 L1555.5 360.1 L1551.0 360.1 L1551.0 362.5 L1546.5 362.5 L1546.5 355.9 L1542.0 355.9 L1542.0 360.3 L1537.5 360.3 L1537.5 357.9 L1533.0 357.9 L1533.0 355.5 L1528.5 355.5 L1528.5 352.8 L1524.0 352.8 L1524.0 356.9 L1519.5 356.9 L1519.5 356.4 L1515.0 356.4 L1515.0 356.9 L1510.5 356.9 L1510.5 355.0 L1506.0 355.0 L1506.0 353.2 L1501.5 353.2 L1501.5 359.6 L1497.0 359.6 L1497.0 357.3 L1492.5 357.3 L1492.5 358.5 L1488.0 358.5 L1488.0 357.2 L1483.5 357.2 L1483.5 356.4 L1479.0 356.4 L1479.0 353.3 L1474.5 353.3 L1474.5 354.4 L1470.0 354.4 L1470.0 359.6 L1465.5 359.6 L1465.5 355.8 L1461.0 355.8 L1461.0 356.5 L1456.5 356.5 L1456.5 355.9 L1452.0 355.9 L1452.0 354.1 L1447.5 354.1 L1447.5 352.6 L1443.0 352.6 L1443.0 361.3 L1438.5 361.3 L1438.5 359.3 L1434.0 359.3 L1434.0 361.9 L1429.5 361.9 L1429.5 355.7 L1425.0 355.7 L1425.0 353.0 L1420.5 353.0 L1420.5 354.3 L1416.0 354.3 L1416.0 357.0 L1411.5 357.0 L1411.5 355.5 L1407.0 355.5 L1407.0 354.5 L1402.5 354.5 L1402.5 356.1 L1398.0 356.1 L1398.0 357.6 L1393.5 357.6 L1393.5 355.0 L1389.0 355.0 L1389.0 357.1 L1384.5 357.1 L1384.5 350.2 L1380.0 350.2 L1380.0 355.5 L1375.5 355.5 L1375.5 353.7 L1371.0 353.7 L1371.0 353.9 L1366.5 353.9 L1366.5 353.4 L1362.0 353.4 L1362.0 351.9 L1357.5 351.9 L1357.5 349.5 L1353.0 349.5 L1353.0 352.5 L1348.5 352.5 L1348.5 354.1 L1344.0 354.1 L1344.0 350.0 L1339.5 350.0 L1339.5 352.6 L1335.0 352.6 L1335.0 357.4 L1330.5 357.4 L1330.5 353.2 L1326.0 353.2 L1326.0 354.9 L1321.5 354.9 L1321.5 355.4 L1317.0 355.4 L1317.0 349.5 L1312.5 349.5 L1312.5 354.7 L1308.0 354.7 L1308.0 352.3 L1303.5 352.3 L1303.5 355.0 L1299.0 355.0 L1299.0 353.3 L1294.5 353.3 L1294.5 346.4 L1290.0 346.4 L1290.0 353.6 L1285.5 353.6 L1285.5 353.5 L1281.0 353.5 L1281.0 356.8 L1276.5 356.8 L1276.5 347.5 L1272.0 347.5 L1272.0 353.9 L1267.5 353.9 L1267.5 349.8 L1263.0 349.8 L1263.0 350.4 L1258.5 350.4 L1258.5 348.7 L1254.0 348.7 L1254.0 347.0 L1249.5 347.0 L1249.5 351.2 L1245.0 351.2 L1245.0 347.2 L1240.5 347.2 L1240.5 345.9 L1236.0 345.9 L1236.0 345.8 L1231.5 345.8 L1231.5 348.8 L1227.0 348.8 L1227.0 351.6 L1222.5 351.6 L1222.5 358.4 L1218.0 358.4 L1218.0 353.6 L1213.5 353.6 L1213.5 349.3 L1209.0 349.3 L1209.0 349.9 L1204.5 349.9 L1204.5 348.2 L1200.0 348.2 L1200.0 345.6 L1195.5 345.6 L1195.5 351.9 L1191.0 351.9 L1191.0 352.8 L1186.5 352.8 L1186.5 344.6 L1182.0 344.6 L1182.0 347.0 L1177.5 347.0 L1177.5 350.1 L1173.0 350.1 L1173.0 346.0 L1168.5 346.0 L1168.5 349.3 L1164.0 349.3 L1164.0 348.7 L1159.5 348.7 L1159.5 350.0 L1155.0 350.0 L1155.0 348.8 L1150.5 348.8 L1150.5 350.3 L1146.0 350.3 L1146.0 346.6 L1141.5 346.6 L1141.5 344.8 L1137.0 344.8 L1137.0 349.3 L1132.5 349.3 L1132.5 345.3 L1128.0 345.3 L1128.0 343.9 L1123.5 343.9 L1123.5 342.9 L1119.0 342.9 L1119.0 348.3 L1114.5 348.3 L1114.5 345.1 L1110.0 345.1 L1110.0 344.8 L1105.5 344.8 L1105.5 348.0 L1101.0 348.0 L1101.0 351.6 L1096.5 351.6 L1096.5 344.3 L1092.0 344.3 L1092.0 343.8 L1087.5 343.8 L1087.5 347.9 L1083.0 347.9 L1083.0 349.4 L1078.5 349.4 L1078.5 346.4 L1074.0 346.4 L1074.0 348.9 L1069.5 348.9 L1069.5 352.6 L1065.0 352.6 L1065.0 346.6 L1060.5 346.6 L1060.5 353.0 L1056.0 353.0 L1056.0 354.5 L1051.5 354.5 L1051.5 351.1 L1047.0 351.1 L1047.0 349.4 L1042.5 349.4 L1042.5 350.6 L1038.0 350.6 L1038.0 347.3 L1033.5 347.3 L1033.5 348.9 L1029.0 348.9 L1029.0 347.9 L1024.5 347.9 L1024.5 346.8 L1020.0 346.8 L1020.0 354.3 L1015.5 354.3 L1015.5 355.3 L1011.0 355.3 L1011.0 351.2 L1006.5 351.2 L1006.5 348.5 L1002.0 348.5 L1002.0 352.9 L997.5 352.9 L997.5 353.9 L993.0 353.9 L993.0 351.6 L988.5 351.6 L988.5 347.5 L984.0 347.5 L984.0 348.3 L979.5 348.3 L979.5 355.1 L975.0 355.1 L975.0 353.4 L970.5 353.4 L970.5 351.4 L966.0 351.4 L966.0 348.0 L961.5 348.0 L961.5 354.0 L957.0 354.0 L957.0 354.2 L952.5 354.2 L952.5 355.0 L948.0 355.0 L948.0 355.2 L943.5 355.2 L943.5 352.9 L939.0 352.9 L939.0 357.1 L934.5 357.1 L934.5 350.6 L930.0 350.6 L930.0 351.5 L925.5 351.5 L925.5 352.8 L921.0 352.8 L921.0 351.0 L916.5 351.0 L916.5 354.5 L912.0 354.5 L912.0 354.7 L907.5 354.7 L907.5 349.0 L903.0 349.0 L903.0 357.0 L898.5 357.0 L898.5 352.7 L894.0 352.7 L894.0 352.1 L889.5 352.1 L889.5 355.3 L885.0 355.3 L885.0 351.6 L880.5 351.6 L880.5 352.5 L876.0 352.5 L876.0 354.9 L871.5 354.9 L871.5 355.3 L867.0 355.3 L867.0 353.2 L862.5 353.2 L862.5 357.1 L858.0 357.1 L858.0 355.4 L853.5 355.4 L853.5 355.1 L849.0 355.1 L849.0 358.0 L844.5 358.0 L844.5 352.6 L840.0 352.6 L840.0 359.5 L835.5 359.5 L835.5 354.8 L831.0 354.8 L831.0 354.9 L826.5 354.9 L826.5 352.3 L822.0 352.3 L822.0 356.6 L817.5 356.6 L817.5 352.2 L813.0 352.2 L813.0 353.5 L808.5 353.5 L808.5 353.9 L804.0 353.9 L804.0 355.6 L799.5 355.6 L799.5 356.1 L795.0 356.1 L795.0 350.1 L790.5 350.1 L790.5 358.0 L786.0 358.0 L786.0 346.5 L781.5 346.5 L781.5 346.9 L777.0 346.9 L777.0 351.9 L772.5 351.9 L772.5 352.0 L768.0 352.0 L768.0 350.8 L763.5 350.8 L763.5 348.5 L759.0 348.5 L759.0 352.7 L754.5 352.7 L754.5 351.2 L750.0 351.2 L750.0 349.2 L745.5 349.2 L745.5 350.6 L741.0 350.6 L741.0 352.0 L736.5 352.0 L736.5 347.1 L732.0 347.1 L732.0 346.0 L727.5 346.0 L727.5 345.7 L723.0 345.7 L723.0 347.1 L718.5 347.1 L718.5 350.5 L714.0 350.5 L714.0 349.3 L709.5 349.3 L709.5 342.9 L705.0 342.9 L705.0 345.5 L700.5 345.5 L700.5 341.4 L696.0 341.4 L696.0 344.1 L691.5 344.1 L691.5 345.4 L687.0 345.4 L687.0 339.3 L682.5 339.3 L682.5 343.0 L678.0 343.0 L678.0 343.7 L673.5 343.7 L673.5 341.2 L669.0 341.2 L669.0 348.8 L664.5 348.8 L664.5 339.7 L660.0 339.7 L660.0 349.7 L655.5 349.7 L655.5 350.2 L651.0 350.2 L651.0 334.1 L646.5 334.1 L646.5 337.4 L642.0 337.4 L642.0 341.0 L637.5 341.0 L637.5 340.1 L633.0 340.1 L633.0 333.8 L628.5 333.8 L628.5 336.4 L624.0 336.4 L624.0 344.1 L619.5 344.1 L619.5 338.4 L615.0 338.4 L615.0 333.3 L610.5 333.3 L610.5 330.8 L606.0 330.8 L606.0 344.8 L601.5 344.8 L601.5 336.0 L597.0 336.0 L597.0 334.4 L592.5 334.4 L592.5 334.3 L588.0 334.3 L588.0 329.6 L583.5 329.6 L583.5 336.0 L579.0 336.0 L579.0 333.3 L574.5 333.3 L574.5 336.4 L570.0 336.4 L570.0 333.0 L565.5 333.0 L565.5 323.8 L561.0 323.8 L561.0 330.8 L556.5 330.8 L556.5 333.3 L552.0 333.3 L552.0 333.2 L547.5 333.2 L547.5 331.6 L543.0 331.6 L543.0 323.8 L538.5 323.8 L538.5 328.9 L534.0 328.9 L534.0 336.1 L529.5 336.1 L529.5 326.5 L525.0 326.5 L525.0 324.4 L520.5 324.4 L520.5 329.7 L516.0 329.7 L516.0 334.7 L511.5 334.7 L511.5 329.7 L507.0 329.7 L507.0 325.4 L502.5 325.4 L502.5 322.8 L498.0 322.8 L498.0 315.6 L493.5 315.6 L493.5 324.5 L489.0 324.5 L489.0 324.5 L484.5 324.5 L484.5 321.3 L480.0 321.3 L480.0 316.1 L475.5 316.1 L475.5 325.1 L471.0 325.1 L471.0 317.3 L466.5 317.3 L466.5 316.5 L462.0 316.5 L462.0 312.7 L457.5 312.7 L457.5 308.9 L453.0 308.9 L453.0 313.0 L448.5 313.0 L448.5 310.2 L444.0 310.2 L444.0 315.3 L439.5 315.3 L439.5 312.8 L435.0 312.8 L435.0 306.4 L430.5 306.4 L430.5 305.4 L426.0 305.4 L426.0 297.6 L421.5 297.6 L421.5 294.5 L417.0 294.5 L417.0 307.9 L412.5 307.9 L412.5 289.5 L408.0 289.5 L408.0 295.5 L403.5 295.5 L403.5 295.1 L399.0 295.1 L399.0 293.0 L394.5 293.0 L394.5 297.7 L390.0 297.7 L390.0 281.5 L385.5 281.5 L385.5 283.8 L381.0 283.8 L381.0 283.1 L376.5 283.1 L376.5 288.8 L372.0 288.8 L372.0 289.1 L367.5 289.1 L367.5 287.7 L363.0 287.7 L363.0 286.8 L358.5 286.8 L358.5 295.2 L354.0 295.2 L354.0 280.7 L349.5 280.7 L349.5 280.2 L345.0 280.2 L345.0 278.3 L340.5 278.3 L340.5 283.5 L336.0 283.5 L336.0 286.3 L331.5 286.3 L331.5 279.6 L327.0 279.6 L327.0 280.7 L322.5 280.7 L322.5 286.9 L318.0 286.9 L318.0 282.8 L313.5 282.8 L313.5 283.3 L309.0 283.3 L309.0 282.6 L304.5 282.6 L304.5 275.1 L300.0 275.1 L300.0 278.0 L295.5 278.0 L295.5 288.8 L291.0 288.8 L291.0 287.2 L286.5 287.2 L286.5 281.0 L282.0 281.0 L282.0 289.7 L277.5 289.7 L277.5 296.1 L273.0 296.1 L273.0 303.0 L268.5 303.0 L268.5 292.0 L264.0 292.0 L264.0 293.5 L259.5 293.5 L259.5 293.0 L255.0 293.0 L255.0 293.1 L250.5 293.1 L250.5 304.8 L246.0 304.8 L246.0 293.5 L241.5 293.5 L241.5 288.9 L237.0 288.9 L237.0 299.1 L232.5 299.1 L232.5 298.9 L228.0 298.9 L228.0 290.6 L223.5 290.6 L223.5 306.3 L219.0 306.3 L219.0 302.7 L214.5 302.7 L214.5 308.2 L210.0 308.2 L210.0 303.3 L205.5 303.3 L205.5 298.5 L201.0 298.5 L201.0 301.7 L196.5 301.7 L196.5 308.2 L192.0 308.2 L192.0 302.7 L187.5 302.7 L187.5 305.4 L183.0 305.4 L183.0 300.7 L178.5 300.7 L178.5 302.5 L174.0 302.5 L174.0 305.7 L169.5 305.7 L169.5 310.3 L165.0 310.3Z"/>
<path fill="#00ff00" d="M165.0 419.5 L167.7 419.5 L167.7 421.5 L170.4 421.5 L170.4 425.0 L173.1 425.0 L173.1 422.6 L175.8 422.6 L175.8 419.6 L178.5 419.6 L178.5 418.3 L181.2 418.3 L181.2 406.9 L183.9 406.9 L183.9 429.7 L186.6 429.7 L186.6 419.1 L189.3 419.1 L189.3 422.9 L192.0 422.9 L192.0 420.2 L194.7 420.2 L194.7 419.3 L197.4 419.3 L197.4 417.9 L200.1 417.9 L200.1 417.1 L202.8 417.1 L202.8 416.9 L205.5 416.9 L205.5 420.0 L208.2 420.0 L208.2 412.6 L210.9 412.6 L210.9 412.4 L213.6 412.4 L213.6 413.9 L216.3 413.9 L216.3 408.2 L219.0 408.2 L219.0 405.3 L221.7 405.3 L221.7 410.2 L224.4 410.2 L224.4 414.1 L227.1 414.1 L227.1 404.8 L229.8 404.8 L229.8 409.5 L232.5 409.5 L232.5 406.4 L235.2 406.4 L235.2 406.5 L237.9 406.5 L237.9 402.9 L240.6 402.9 L240.6 407.1 L243.3 407.1 L243.3 405.4 L246.0 405.4 L246.0 402.7 L248.7 402.7 L248.7 403.2 L251.4 403.2 L251.4 404.9 L254.1 404.9 L254.1 397.1 L256.8 397.1 L256.8 398.5 L259.5 398.5 L259.5 396.4 L262.2 396.4 L262.2 398.8 L264.9 398.8 L264.9 403.8 L267.6 403.8 L267.6 400.6 L270.3 400.6 L270.3 394.2 L273.0 394.2 L273.0 397.6 L275.7 397.6 L275.7 395.8 L278.4 395.8 L278.4 389.9 L281.1 389.9 L281.1 387.0 L283.8 387.0 L283.8 392.7 L286.5 392.7 L286.5 388.0 L289.2 388.0 L289.2 399.4 L291.9 399.4 L291.9 387.6 L294.6 387.6 L294.6 394.9 L297.3 394.9 L297.3 399.1 L300.0 399.1 L300.0 398.1 L302.7 398.1 L302.7 391.4 L305.4 391.4 L305.4 390.8 L308.1 390.8 L308.1 392.0 L310.8 392.0 L310.8 395.5 L313.5 395.5 L313.5 394.3 L316.2 394.3 L316.2 387.8 L318.9 387.8 L318.9 386.3 L321.6 386.3 L321.6 386.5 L324.3 386.5 L324.3 390.8 L327.0 390.8 L327.0 392.5 L329.7 392.5 L329.7 382.3 L332.4 382.3 L332.4 391.7 L335.1 391.7 L335.1 384.1 L337.8 384.1 L337.8 389.2 L340.5 389.2 L340.5 401.2 L343.2 401.2 L343.2 392.8 L345.9 392.8 L345.9 386.5 L348.6 386.5 L348.6 395.4 L351.3 395.4 L351.3 394.3 L354.0 394.3 L354.0 397.5 L356.7 397.5 L356.7 391.8 L359.4 391.8 L359.4 398.3 L362.1 398.3 L362.1 394.3 L364.8 394.3 L364.8 392.0 L367.5 392.0 L367.5 395.3 L370.2 395.3 L370.2 397.6 L372.9 397.6 L372.9 392.2 L375.6 392.2 L375.6 402.8 L378.3 402.8 L378.3 405.7 L381.0 405.7 L381.0 398.9 L383.7 398.9 L383.7 405.3 L386.4 405.3 L386.4 406.2 L389.1 406.2 L389.1 390.4 L391.8 390.4 L391.8 413.8 L394.5 413.8 L394.5 400.6 L397.2 400.6 L397.2 400.9 L399.9 400.9 L399.9 412.3 L402.6 412.3 L402.6 410.8 L405.3 410.8 L405.3 413.0 L408.0 413.0 L408.0 413.3 L410.7 413.3 L410.7 410.2 L413.4 410.2 L413.4 408.3 L416.1 408.3 L416.1 412.7 L418.8 412.7 L418.8 411.2 L421.5 411.2 L421.5 423.5 L424.2 423.5 L424.2 417.0 L426.9 417.0 L426.9 417.9 L429.6 417.9 L429.6 415.2 L432.3 415.2 L432.3 420.5 L435.0 420.5 L435.0 423.2 L437.7 423.2 L437.7 418.4 L440.4 418.4 L440.4 411.9 L443.1 411.9 L443.1 419.4 L445.8 419.4 L445.8 422.8 L448.5 422.8 L448.5 426.8 L451.2 426.8 L451.2 425.3 L453.9 425.3 L453.9 423.6 L456.6 423.6 L456.6 422.5 L459.3 422.5 L459.3 430.4 L462.0 430.4 L462.0 429.1 L464.7 429.1 L464.7 435.0 L467.4 435.0 L467.4 429.5 L470.1 429.5 L470.1 430.9 L472.8 430.9 L472.8 431.0 L475.5 431.0 L475.5 432.4 L478.2 432.4 L478.2 433.5 L480.9 433.5 L480.9 432.0 L483.6 432.0 L483.6 439.0 L486.3 439.0 L486.3 429.6 L489.0 429.6 L489.0 436.0 L491.7 436.0 L491.7 437.2 L494.4 437.2 L494.4 438.7 L497.1 438.7 L497.1 437.8 L499.8 437.8 L499.8 439.7 L502.5 439.7 L502.5 444.3 L505.2 444.3 L505.2 445.3 L507.9 445.3 L507.9 437.5 L510.6 437.5 L510.6 443.6 L513.3 443.6 L513.3 442.3 L516.0 442.3 L516.0 441.9 L518.7 441.9 L518.7 440.1 L521.4 440.1 L521.4 442.9 L524.1 442.9 L524.1 448.4 L526.8 448.4 L526.8 447.4 L529.5 447.4 L529.5 445.5 L532.2 445.5 L532.2 448.4 L534.9 448.4 L534.9 447.2 L537.6 447.2 L537.6 443.8 L540.3 443.8 L540.3 439.8 L543.0 439.8 L543.0 450.4 L545.7 450.4 L545.7 434.0 L548.4 434.0 L548.4 447.4 L551.1 447.4 L551.1 447.5 L553.8 447.5 L553.8 458.6 L556.5 458.6 L556.5 455.5 L559.2 455.5 L559.2 441.5 L561.9 441.5 L561.9 451.9 L564.6 451.9 L564.6 454.1 L567.3 454.1 L567.3 454.8 L570.0 454.8 L570.0 452.7 L572.7 452.7 L572.7 443.9 L575.4 443.9 L575.4 449.3 L578.1 449.3 L578.1 455.1 L580.8 455.1 L580.8 457.7 L583.5 457.7 L583.5 447.8 L586.2 447.8 L586.2 452.8 L588.9 452.8 L588.9 454.9 L591.6 454.9 L591.6 457.7 L594.3 457.7 L594.3 453.3 L597.0 453.3 L597.0 452.5 L599.7 452.5 L599.7 458.7 L602.4 458.7 L602.4 450.8 L605.1 450.8 L605.1 459.6 L607.8 459.6 L607.8 459.7 L610.5 459.7 L610.5 456.4 L613.2 456.4 L613.2 457.9 L615.9 457.9 L615.9 462.4 L618.6 462.4 L618.6 452.0 L621.3 452.0 L621.3 462.2 L624.0 462.2 L624.0 455.8 L626.7 455.8 L626.7 452.8 L629.4 452.8 L629.4 461.9 L632.1 461.9 L632.1 461.0 L634.8 461.0 L634.8 460.3 L637.5 460.3 L637.5 461.0 L640.2 461.0 L640.2 462.0 L642.9 462.0 L642.9 461.3 L645.6 461.3 L645.6 460.5 L648.3 460.5 L648.3 457.7 L651.0 457.7 L651.0 469.4 L653.7 469.4 L653.7 464.1 L656.4 464.1 L656.4 463.4 L659.1 463.4 L659.1 465.5 L661.8 465.5 L661.8 470.5 L664.5 470.5 L664.5 469.2 L667.2 469.2 L667.2 471.6 L669.9 471.6 L669.9 464.8 L672.6 464.8 L672.6 468.4 L675.3 468.4 L675.3 465.4 L678.0 465.4 L678.0 470.3 L680.7 470.3 L680.7 467.7 L683.4 467.7 L683.4 469.3 L686.1 469.3 L686.1 472.7 L688.8 472.7 L688.8 471.7 L691.5 471.7 L691.5 469.7 L694.2 469.7 L694.2 468.4 L696.9 468.4 L696.9 469.5 L699.6 469.5 L699.6 469.9 L702.3 469.9 L702.3 470.4 L705.0 470.4 L705.0 470.9 L707.7 470.9 L707.7 470.8 L710.4 470.8 L710.4 473.2 L713.1 473.2 L713.1 471.5 L715.8 471.5 L715.8 467.8 L718.5 467.8 L718.5 473.2 L721.2 473.2 L721.2 471.6 L723.9 471.6 L723.9 478.2 L726.6 478.2 L726.6 473.9 L729.3 473.9 L729.3 473.2 L732.0 473.2 L732.0 474.9 L734.7 474.9 L734.7 475.6 L737.4 475.6 L737.4 476.4 L740.1 476.4 L740.1 476.1 L742.8 476.1 L742.8 477.1 L745.5 477.1 L745.5 473.1 L748.2 473.1 L748.2 479.1 L750.9 479.1 L750.9 477.3 L753.6 477.3 L753.6 471.2 L756.3 471.2 L756.3 477.7 L759.0 477.7 L759.0 480.5 L761.7 480.5 L761.7 479.2 L764.4 479.2 L764.4 477.5 L767.1 477.5 L767.1 482.1 L769.8 482.1 L769.8 476.2 L772.5 476.2 L772.5 480.7 L775.2 480.7 L775.2 481.3 L777.9 481.3 L777.9 484.6 L780.6 484.6 L780.6 484.1 L783.3 484.1 L783.3 482.4 L786.0 482.4 L786.0 485.4 L788.7 485.4 L788.7 482.7 L791.4 482.7 L791.4 484.7 L794.1 484.7 L794.1 484.6 L796.8 484.6 L796.8 484.3 L799.5 484.3 L799.5 481.3 L802.2 481.3 L802.2 483.6 L804.9 483.6 L804.9 481.6 L807.6 481.6 L807.6 482.5 L810.3 482.5 L810.3 487.3 L813.0 487.3 L813.0 483.9 L815.7 483.9 L815.7 485.7 L818.4 485.7 L818.4 483.3 L821.1 483.3 L821.1 484.2 L823.8 484.2 L823.8 484.8 L826.5 484.8 L826.5 483.7 L829.2 483.7 L829.2 483.1 L831.9 483.1 L831.9 481.0 L834.6 481.0 L834.6 481.5 L837.3 481.5 L837.3 480.3 L840.0 480.3 L840.0 481.3 L842.7 481.3 L842.7 485.8 L845.4 485.8 L845.4 485.9 L848.1 485.9 L848.1 476.7 L850.8 476.7 L850.8 477.5 L853.5 477.5 L853.5 479.1 L856.2 479.1 L856.2 486.5 L858.9 486.5 L858.9 483.2 L861.6 483.2 L861.6 482.1 L864.3 482.1 L864.3 485.0 L867.0 485.0 L867.0 482.1 L869.7 482.1 L869.7 484.3 L872.4 484.3 L872.4 483.8 L875.1 483.8 L875.1 483.0 L877.8 483.0 L877.8 482.0 L880.5 482.0 L880.5 484.4 L883.2 484.4 L883.2 483.5 L885.9 483.5 L885.9 487.1 L888.6 487.1 L888.6 487.1 L891.3 487.1 L891.3 474.7 L894.0 474.7 L894.0 484.7 L896.7 484.7 L896.7 484.8 L899.4 484.8 L899.4 485.7 L902.1 485.7 L902.1 483.3 L904.8 483.3 L904.8 484.3 L907.5 484.3 L907.5 484.5 L910.2 484.5 L910.2 484.5 L912.9 484.5 L912.9 485.8 L915.6 485.8 L915.6 486.7 L918.3 486.7 L918.3 483.0 L921.0 483.0 L921.0 484.8 L923.7 484.8 L923.7 484.6 L926.4 484.6 L926.4 489.0 L929.1 489.0 L929.1 485.1 L931.8 485.1 L931.8 483.9 L934.5 483.9 L934.5 487.9 L937.2 487.9 L937.2 480.9 L939.9 480.9 L939.9 481.5 L942.6 481.5 L942.6 484.9 L945.3 484.9 L945.3 483.9 L948.0 483.9 L948.0 481.6 L950.7 481.6 L950.7 485.8 L953.4 485.8 L953.4 482.2 L956.1 482.2 L956.1 484.7 L958.8 484.7 L958.8 481.5 L961.5 481.5 L961.5 486.4 L964.2 486.4 L964.2 482.4 L966.9 482.4 L966.9 484.2 L969.6 484.2 L969.6 487.7 L972.3 487.7 L972.3 483.0 L975.0 483.0 L975.0 481.4 L977.7 481.4 L977.7 482.3 L980.4 482.3 L980.4 481.7 L983.1 481.7 L983.1 482.4 L985.8 482.4 L985.8 483.4 L988.5 483.4 L988.5 483.8 L991.2 483.8 L991.2 478.8 L993.9 478.8 L993.9 483.9 L996.6 483.9 L996.6 479.0 L999.3 479.0 L999.3 478.5 L1002.0 478.5 L1002.0 485.4 L1004.7 485.4 L1004.7 478.7 L1007.4 478.7 L1007.4 485.4 L1010.1 485.4 L1010.1 474.7 L1012.8 474.7 L1012.8 481.5 L1015.5 481.5 L1015.5 479.5 L1018.2 479.5 L1018.2 480.3 L1020.9 480.3 L1020.9 482.5 L1023.6 482.5 L1023.6 482.4 L1026.3 482.4 L1026.3 482.3 L1029.0 482.3 L1029.0 480.8 L1031.7 480.8 L1031.7 479.1 L1034.4 479.1 L1034.4 480.3 L1037.1 480.3 L1037.1 482.9 L1039.8 482.9 L1039.8 478.7 L1042.5 478.7 L1042.5 481.9 L1045.2 481.9 L1045.2 482.2 L1047.9 482.2 L1047.9 477.1 L1050.6 477.1 L1050.6 477.0 L1053.3 477.0 L1053.3 478.6 L1056.0 478.6 L1056.0 478.8 L1058.7 478.8 L1058.7 474.2 L1061.4 474.2 L1061.4 478.7 L1064.1 478.7 L1064.1 473.7 L1066.8 473.7 L1066.8 479.1 L1069.5 479.1 L1069.5 477.7 L1072.2 477.7 L1072.2 479.1 L1074.9 479.1 L1074.9 476.0 L1077.6 476.0 L1077.6 476.9 L1080.3 476.9 L1080.3 477.9 L1083.0 477.9 L1083.0 474.3 L1085.7 474.3 L1085.7 471.5 L1088.4 471.5 L1088.4 469.3 L1091.1 469.3 L1091.1 475.6 L1093.8 475.6 L1093.8 479.6 L1096.5 479.6 L1096.5 474.6 L1099.2 474.6 L1099.2 471.5 L1101.9 471.5 L1101.9 472.9 L1104.6 472.9 L1104.6 473.2 L1107.3 473.2 L1107.3 476.5 L1110.0 476.5 L1110.0 470.7 L1112.7 470.7 L1112.7 475.5 L1115.4 475.5 L1115.4 474.7 L1118.1 474.7 L1118.1 469.0 L1120.8 469.0 L1120.8 471.9 L1123.5 471.9 L1123.5 472.3 L1126.2 472.3 L1126.2 475.2 L1128.9 475.2 L1128.9 472.3 L1131.6 472.3 L1131.6 475.2 L1134.3 475.2 L1134.3 468.0 L1137.0 468.0 L1137.0 478.4 L1139.7 478.4 L1139.7 471.3 L1142.4 471.3 L1142.4 474.2 L1145.1 474.2 L1145.1 478.5 L1147.8 478.5 L1147.8 459.5 L1150.5 459.5 L1150.5 474.6 L1153.2 474.6 L1153.2 466.3 L1155.9 466.3 L1155.9 477.0 L1158.6 477.0 L1158.6 468.7 L1161.3 468.7 L1161.3 476.9 L1164.0 476.9 L1164.0 476.1 L1166.7 476.1 L1166.7 477.9 L1169.4 477.9 L1169.4 475.0 L1172.1 475.0 L1172.1 473.3 L1174.8 473.3 L1174.8 477.9 L1177.5 477.9 L1177.5 481.5 L1180.2 481.5 L1180.2 477.6 L1182.9 477.6 L1182.9 477.3 L1185.6 477.3 L1185.6 476.0 L1188.3 476.0 L1188.3 477.0 L1191.0 477.0 L1191.0 475.6 L1193.7 475.6 L1193.7 476.5 L1196.4 476.5 L1196.4 475.7 L1199.1 475.7 L1199.1 473.5 L1201.8 473.5 L1201.8 473.1 L1204.5 473.1 L1204.5 474.7 L1207.2 474.7 L1207.2 476.7 L1209.9 476.7 L1209.9 474.3 L1212.6 474.3 L1212.6 475.5 L1215.3 475.5 L1215.3 470.0 L1218.0 470.0 L1218.0 476.0 L1220.7 476.0 L1220.7 474.2 L1223.4 474.2 L1223.4 476.3 L1226.1 476.3 L1226.1 464.3 L1228.8 464.3 L1228.8 475.7 L1231.5 475.7 L1231.5 472.5 L1234.2 472.5 L1234.2 472.3 L1236.9 472.3 L1236.9 473.4 L1239.6 473.4 L1239.6 475.1 L1242.3 475.1 L1242.3 474.1 L1245.0 474.1 L1245.0 476.1 L1247.7 476.1 L1247.7 469.4 L1250.4 469.4 L1250.4 473.8 L1253.1 473.8 L1253.1 476.6 L1255.8 476.6 L1255.8 475.4 L1258.5 475.4 L1258.5 479.4 L1261.2 479.4 L1261.2 476.6 L1263.9 476.6 L1263.9 476.7 L1266.6 476.7 L1266.6 476.7 L1269.3 476.7 L1269.3 479.6 L1272.0 479.6 L1272.0 478.8 L1274.7 478.8 L1274.7 468.6 L1277.4 468.6 L1277.4 482.6 L1280.1 482.6 L1280.1 480.4 L1282.8 480.4 L1282.8 481.4 L1285.5 481.4 L1285.5 476.7 L1288.2 476.7 L1288.2 480.1 L1290.9 480.1 L1290.9 477.5 L1293.6 477.5 L1293.6 479.0 L1296.3 479.0 L1296.3 472.7 L1299.0 472.7 L1299.0 480.2 L1301.7 480.2 L1301.7 483.1 L1304.4 483.1 L1304.4 480.0 L1307.1 480.0 L1307.1 481.1 L1309.8 481.1 L1309.8 477.4 L1312.5 477.4 L1312.5 477.8 L1315.2 477.8 L1315.2 480.4 L1317.9 480.4 L1317.9 476.2 L1320.6 476.2 L1320.6 476.7 L1323.3 476.7 L1323.3 474.4 L1326.0 474.4 L1326.0 483.7 L1328.7 483.7 L1328.7 479.7 L1331.4 479.7 L1331.4 478.5 L1334.1 478.5 L1334.1 484.7 L1336.8 484.7 L1336.8 481.0 L1339.5 481.0 L1339.5 480.0 L1342.2 480.0 L1342.2 481.1 L1344.9 481.1 L1344.9 484.2 L1347.6 484.2 L1347.6 479.5 L1350.3 479.5 L1350.3 473.0 L1353.0 473.0 L1353.0 479.8 L1355.7 479.8 L1355.7 480.5 L1358.4 480.5 L1358.4 475.9 L1361.1 475.9 L1361.1 477.2 L1363.8 477.2 L1363.8 481.5 L1366.5 481.5 L1366.5 482.9 L1369.2 482.9 L1369.2 481.3 L1371.9 481.3 L1371.9 483.1 L1374.6 483.1 L1374.6 485.8 L1377.3 485.8 L1377.3 476.6 L1380.0 476.6 L1380.0 486.1 L1382.7 486.1 L1382.7 480.9 L1385.4 480.9 L1385.4 482.3 L1388.1 482.3 L1388.1 481.7 L1390.8 481.7 L1390.8 484.4 L1393.5 484.4 L1393.5 485.6 L1396.2 485.6 L1396.2 483.7 L1398.9 483.7 L1398.9 483.3 L1401.6 483.3 L1401.6 482.4 L1404.3 482.4 L1404.3 488.2 L1407.0 488.2 L1407.0 485.9 L1409.7 485.9 L1409.7 489.9 L1412.4 489.9 L1412.4 483.9 L1415.1 483.9 L1415.1 485.4 L1417.8 485.4 L1417.8 483.4 L1420.5 483.4 L1420.5 486.3 L1423.2 486.3 L1423.2 488.8 L1425.9 488.8 L1425.9 486.0 L1428.6 486.0 L1428.6 487.4 L1431.3 487.4 L1431.3 486.2 L1434.0 486.2 L1434.0 489.3 L1436.7 489.3 L1436.7 482.1 L1439.4 482.1 L1439.4 487.9 L1442.1 487.9 L1442.1 487.2 L1444.8 487.2 L1444.8 486.7 L1447.5 486.7 L1447.5 489.0 L1450.2 489.0 L1450.2 488.1 L1452.9 488.1 L1452.9 485.6 L1455.6 485.6 L1455.6 489.6 L1458.3 489.6 L1458.3 485.6 L1461.0 485.6 L1461.0 488.6 L1463.7 488.6 L1463.7 485.7 L1466.4 485.7 L1466.4 488.5 L1469.1 488.5 L1469.1 487.8 L1471.8 487.8 L1471.8 488.2 L1474.5 488.2 L1474.5 486.0 L1477.2 486.0 L1477.2 488.2 L1479.9 488.2 L1479.9 487.4 L1482.6 487.4 L1482.6 480.7 L1485.3 480.7 L1485.3 491.2 L1488.0 491.2 L1488.0 484.1 L1490.7 484.1 L1490.7 488.1 L1493.4 488.1 L1493.4 484.8 L1496.1 484.8 L1496.1 488.4 L1498.8 488.4 L1498.8 489.0 L1501.5 489.0 L1501.5 486.1 L1504.2 486.1 L1504.2 480.8 L1506.9 480.8 L1506.9 492.5 L1509.6 492.5 L1509.6 489.6 L1512.3 489.6 L1512.3 483.2 L1515.0 483.2 L1515.0 488.1 L1517.7 488.1 L1517.7 491.6 L1520.4 491.6 L1520.4 488.8 L1523.1 488.8 L1523.1 489.9 L1525.8 489.9 L1525.8 491.8 L1528.5 491.8 L1528.5 484.3 L1531.2 484.3 L1531.2 490.3 L1533.9 490.3 L1533.9 490.3 L1536.6 490.3 L1536.6 491.1 L1539.3 491.1 L1539.3 488.9 L1542.0 488.9 L1542.0 489.5 L1544.7 489.5 L1544.7 489.3 L1547.4 489.3 L1547.4 488.9 L1550.1 488.9 L1550.1 487.9 L1552.8 487.9 L1552.8 490.6 L1555.5 490.6 L1555.5 489.7 L1558.2 489.7 L1558.2 490.8 L1560.9 490.8 L1560.9 490.7 L1563.6 490.7 L1563.6 490.4 L1566.3 490.4 L1566.3 490.3 L1569.0 490.3 L1569.0 494.5 L1571.7 494.5 L1571.7 492.1 L1574.4 492.1 L1574.4 491.9 L1577.1 491.9 L1577.1 489.4 L1579.8 489.4 L1579.8 483.4 L1582.5 483.4 L1582.5 488.9 L1585.2 488.9 L1585.2 491.1 L1587.9 491.1 L1587.9 492.1 L1590.6 492.1 L1590.6 491.3 L1593.3 491.3 L1593.3 492.8 L1596.0 492.8 L1596.0 496.2 L1598.7 496.2 L1598.7 489.2 L1601.4 489.2 L1601.4 493.9 L1604.1 493.9 L1604.1 493.9 L1606.8 493.9 L1606.8 491.8 L1609.5 491.8 L1609.5 493.5 L1612.2 493.5 L1612.2 486.5 L1614.9 486.5 L1614.9 493.3 L1617.6 493.3 L1617.6 491.8 L1620.3 491.8 L1620.3 493.8 L1623.0 493.8 L1623.0 486.6 L1625.7 486.6 L1625.7 494.0 L1628.4 494.0 L1628.4 493.9 L1631.1 493.9 L1631.1 497.1 L1633.8 497.1 L1633.8 493.2 L1636.5 493.2 L1636.5 494.3 L1639.2 494.3 L1639.2 493.3 L1641.9 493.3 L1641.9 495.3 L1644.6 495.3 L1644.6 492.1 L1647.3 492.1 L1647.3 492.8 L1650.0 492.8 L1650.0 491.6 L1652.7 491.6 L1652.7 495.4 L1655.4 495.4 L1655.4 493.5 L1658.1 493.5 L1658.1 493.9 L1660.8 493.9 L1660.8 495.9 L1663.5 495.9 L1663.5 494.3 L1666.2 494.3 L1666.2 490.5 L1668.9 490.5 L1668.9 493.6 L1671.6 493.6 L1671.6 492.1 L1674.3 492.1 L1674.3 492.5 L1677.0 492.5 L1677.0 490.5 L1679.7 490.5 L1679.7 495.2 L1682.4 495.2 L1682.4 492.6 L1685.1 492.6 L1685.1 494.0 L1687.8 494.0 L1687.8 493.8 L1690.5 493.8 L1690.5 493.3 L1693.2 493.3 L1693.2 493.1 L1695.9 493.1 L1695.9 495.5 L1698.6 495.5 L1698.6 494.9 L1701.3 494.9 L1701.3 493.7 L1704.0 493.7 L1704.0 493.8 L1706.7 493.8 L1706.7 493.4 L1709.4 493.4 L1709.4 493.0 L1712.1 493.0 L1712.1 494.4 L1714.8 494.4 L1714.8 493.2 L1717.5 493.2 L1717.5 492.1 L1720.2 492.1 L1720.2 492.1 L1722.9 492.1 L1722.9 493.4 L1725.6 493.4 L1725.6 494.2 L1728.3 494.2 L1728.3 493.7 L1731.0 493.7 L1731.0 492.0 L1733.7 492.0 L1733.7 496.2 L1736.4 496.2 L1736.4 494.0 L1738.0 494.0 L1738.0 520.6 L1736.4 520.6 L1736.4 511.6 L1733.7 511.6 L1733.7 512.1 L1731.0 512.1 L1731.0 514.0 L1728.3 514.0 L1728.3 514.5 L1725.6 514.5 L1725.6 510.1 L1722.9 510.1 L1722.9 509.1 L1720.2 509.1 L1720.2 510.5 L1717.5 510.5 L1717.5 512.4 L1714.8 512.4 L1714.8 510.9 L1712.1 510.9 L1712.1 507.0 L1709.4 507.0 L1709.4 512.4 L1706.7 512.4 L1706.7 517.1 L1704.0 517.1 L1704.0 509.8 L1701.3 509.8 L1701.3 511.7 L1698.6 511.7 L1698.6 510.8 L1695.9 510.8 L1695.9 507.2 L1693.2 507.2 L1693.2 510.4 L1690.5 510.4 L1690.5 508.2 L1687.8 508.2 L1687.8 507.0 L1685.1 507.0 L1685.1 510.7 L1682.4 510.7 L1682.4 510.1 L1679.7 510.1 L1679.7 507.1 L1677.0 507.1 L1677.0 508.8 L1674.3 508.8 L1674.3 513.6 L1671.6 513.6 L1671.6 514.0 L1668.9 514.0 L1668.9 510.8 L1666.2 510.8 L1666.2 512.0 L1663.5 512.0 L1663.5 509.7 L1660.8 509.7 L1660.8 510.8 L1658.1 510.8 L1658.1 510.2 L1655.4 510.2 L1655.4 509.7 L1652.7 509.7 L1652.7 511.8 L1650.0 511.8 L1650.0 511.0 L1647.3 511.0 L1647.3 511.5 L1644.6 511.5 L1644.6 520.6 L1641.9 520.6 L1641.9 511.6 L1639.2 511.6 L1639.2 509.5 L1636.5 509.5 L1636.5 510.7 L1633.8 510.7 L1633.8 509.3 L1631.1 509.3 L1631.1 514.3 L1628.4 514.3 L1628.4 512.2 L1625.7 512.2 L1625.7 508.9 L1623.0 508.9 L1623.0 512.0 L1620.3 512.0 L1620.3 508.4 L1617.6 508.4 L1617.6 509.2 L1614.9 509.2 L1614.9 509.8 L1612.2 509.8 L1612.2 507.0 L1609.5 507.0 L1609.5 509.4 L1606.8 509.4 L1606.8 510.1 L1604.1 510.1 L1604.1 509.3 L1601.4 509.3 L1601.4 508.4 L1598.7 508.4 L1598.7 508.5 L1596.0 508.5 L1596.0 509.5 L1593.3 509.5 L1593.3 507.9 L1590.6 507.9 L1590.6 514.3 L1587.9 514.3 L1587.9 507.1 L1585.2 507.1 L1585.2 510.7 L1582.5 510.7 L1582.5 509.7 L1579.8 509.7 L1579.8 510.1 L1577.1 510.1 L1577.1 507.2 L1574.4 507.2 L1574.4 508.3 L1571.7 508.3 L1571.7 507.8 L1569.0 507.8 L1569.0 509.9 L1566.3 509.9 L1566.3 509.0 L1563.6 509.0 L1563.6 510.9 L1560.9 510.9 L1560.9 517.9 L1558.2 517.9 L1558.2 504.9 L1555.5 504.9 L1555.5 509.8 L1552.8 509.8 L1552.8 507.3 L1550.1 507.3 L1550.1 507.4 L1547.4 507.4 L1547.4 506.0 L1544.7 506.0 L1544.7 509.0 L1542.0 509.0 L1542.0 509.3 L1539.3 509.3 L1539.3 508.8 L1536.6 508.8 L1536.6 509.4 L1533.9 509.4 L1533.9 508.6 L1531.2 508.6 L1531.2 512.1 L1528.5 512.1 L1528.5 511.4 L1525.8 511.4 L1525.8 507.4 L1523.1 507.4 L1523.1 509.7 L1520.4 509.7 L1520.4 511.1 L1517.7 511.1 L1517.7 506.3 L1515.0 506.3 L1515.0 504.5 L1512.3 504.5 L1512.3 512.0 L1509.6 512.0 L1509.6 505.8 L1506.9 505.8 L1506.9 506.3 L1504.2 506.3 L1504.2 510.0 L1501.5 510.0 L1501.5 507.8 L1498.8 507.8 L1498.8 508.3 L1496.1 508.3 L1496.1 507.1 L1493.4 507.1 L1493.4 506.6 L1490.7 506.6 L1490.7 508.7 L1488.0 508.7 L1488.0 509.6 L1485.3 509.6 L1485.3 511.9 L1482.6 511.9 L1482.6 511.8 L1479.9 511.8 L1479.9 506.8 L1477.2 506.8 L1477.2 504.0 L1474.5 504.0 L1474.5 507.1 L1471.8 507.1 L1471.8 509.7 L1469.1 509.7 L1469.1 505.7 L1466.4 505.7 L1466.4 506.3 L1463.7 506.3 L1463.7 507.9 L1461.0 507.9 L1461.0 509.9 L1458.3 509.9 L1458.3 507.1 L1455.6 507.1 L1455.6 513.6 L1452.9 513.6 L1452.9 505.8 L1450.2 505.8 L1450.2 507.8 L1447.5 507.8 L1447.5 503.3 L1444.8 503.3 L1444.8 506.9 L1442.1 506.9 L1442.1 507.0 L1439.4 507.0 L1439.4 505.3 L1436.7 505.3 L1436.7 508.3 L1434.0 508.3 L1434.0 509.9 L1431.3 509.9 L1431.3 506.5 L1428.6 506.5 L1428.6 508.7 L1425.9 508.7 L1425.9 504.2 L1423.2 504.2 L1423.2 507.4 L1420.5 507.4 L1420.5 511.2 L1417.8 511.2 L1417.8 503.6 L1415.1 503.6 L1415.1 504.4 L1412.4 504.4 L1412.4 503.7 L1409.7 503.7 L1409.7 506.8 L1407.0 506.8 L1407.0 504.3 L1404.3 504.3 L1404.3 505.5 L1401.6 505.5 L1401.6 503.0 L1398.9 503.0 L1398.9 502.7 L1396.2 502.7 L1396.2 504.2 L1393.5 504.2 L1393.5 504.5 L1390.8 504.5 L1390.8 504.8 L1388.1 504.8 L1388.1 505.7 L1385.4 505.7 L1385.4 503.3 L1382.7 503.3 L1382.7 509.1 L1380.0 509.1 L1380.0 506.4 L1377.3 506.4 L1377.3 506.7 L1374.6 506.7 L1374.6 504.6 L1371.9 504.6 L1371.9 506.4 L1369.2 506.4 L1369.2 500.3 L1366.5 500.3 L1366.5 504.6 L1363.8 504.6 L1363.8 499.4 L1361.1 499.4 L1361.1 502.1 L1358.4 502.1 L1358.4 504.7 L1355.7 504.7 L1355.7 501.1 L1353.0 501.1 L1353.0 501.8 L1350.3 501.8 L1350.3 504.5 L1347.6 504.5 L1347.6 504.1 L1344.9 504.1 L1344.9 509.0 L1342.2 509.0 L1342.2 504.5 L1339.5 504.5 L1339.5 513.6 L1336.8 513.6 L1336.8 507.6 L1334.1 507.6 L1334.1 508.1 L1331.4 508.1 L1331.4 504.2 L1328.7 504.2 L1328.7 502.3 L1326.0 502.3 L1326.0 504.3 L1323.3 504.3 L1323.3 499.3 L1320.6 499.3 L1320.6 501.9 L1317.9 501.9 L1317.9 506.8 L1315.2 506.8 L1315.2 499.0 L1312.5 499.0 L1312.5 499.7 L1309.8 499.7 L1309.8 505.2 L1307.1 505.2 L1307.1 503.4 L1304.4 503.4 L1304.4 516.2 L1301.7 516.2 L1301.7 507.3 L1299.0 507.3 L1299.0 502.7 L1296.3 502.7 L1296.3 501.3 L1293.6 501.3 L1293.6 500.3 L1290.9 500.3 L1290.9 505.4 L1288.2 505.4 L1288.2 500.0 L1285.5 500.0 L1285.5 506.6 L1282.8 506.6 L1282.8 506.4 L1280.1 506.4 L1280.1 501.1 L1277.4 501.1 L1277.4 502.9 L1274.7 502.9 L1274.7 505.5 L1272.0 505.5 L1272.0 501.6 L1269.3 501.6 L1269.3 502.9 L1266.6 502.9 L1266.6 502.1 L1263.9 502.1 L1263.9 499.0 L1261.2 499.0 L1261.2 497.8 L1258.5 497.8 L1258.5 511.5 L1255.8 511.5 L1255.8 499.2 L1253.1 499.2 L1253.1 499.7 L1250.4 499.7 L1250.4 501.3 L1247.7 501.3 L1247.7 500.9 L1245.0 500.9 L1245.0 500.3 L1242.3 500.3 L1242.3 500.7 L1239.6 500.7 L1239.6 494.9 L1236.9 494.9 L1236.9 493.5 L1234.2 493.5 L1234.2 495.4 L1231.5 495.4 L1231.5 495.2 L1228.8 495.2 L1228.8 495.3 L1226.1 495.3 L1226.1 499.1 L1223.4 499.1 L1223.4 500.7 L1220.7 500.7 L1220.7 497.8 L1218.0 497.8 L1218.0 499.1 L1215.3 499.1 L1215.3 495.4 L1212.6 495.4 L1212.6 494.2 L1209.9 494.2 L1209.9 493.1 L1207.2 493.1 L1207.2 498.9 L1204.5 498.9 L1204.5 495.0 L1201.8 495.0 L1201.8 497.1 L1199.1 497.1 L1199.1 497.3 L1196.4 497.3 L1196.4 493.9 L1193.7 493.9 L1193.7 499.4 L1191.0 499.4 L1191.0 495.5 L1188.3 495.5 L1188.3 499.3 L1185.6 499.3 L1185.6 494.9 L1182.9 494.9 L1182.9 497.8 L1180.2 497.8 L1180.2 500.5 L1177.5 500.5 L1177.5 499.4 L1174.8 499.4 L1174.8 495.4 L1172.1 495.4 L1172.1 496.5 L1169.4 496.5 L1169.4 496.6 L1166.7 496.6 L1166.7 496.2 L1164.0 496.2 L1164.0 492.9 L1161.3 492.9 L1161.3 497.7 L1158.6 497.7 L1158.6 494.9 L1155.9 494.9 L1155.9 501.7 L1153.2 501.7 L1153.2 497.7 L1150.5 497.7 L1150.5 498.5 L1147.8 498.5 L1147.8 504.1 L1145.1 504.1 L1145.1 494.7 L1142.4 494.7 L1142.4 492.7 L1139.7 492.7 L1139.7 495.8 L1137.0 495.8 L1137.0 501.8 L1134.3 501.8 L1134.3 500.3 L1131.6 500.3 L1131.6 502.4 L1128.9 502.4 L1128.9 499.9 L1126.2 499.9 L1126.2 499.4 L1123.5 499.4 L1123.5 498.4 L1120.8 498.4 L1120.8 500.5 L1118.1 500.5 L1118.1 503.6 L1115.4 503.6 L1115.4 503.6 L1112.7 503.6 L1112.7 501.0 L1110.0 501.0 L1110.0 498.9 L1107.3 498.9 L1107.3 501.6 L1104.6 501.6 L1104.6 495.4 L1101.9 495.4 L1101.9 501.4 L1099.2 501.4 L1099.2 496.6 L1096.5 496.6 L1096.5 503.5 L1093.8 503.5 L1093.8 501.7 L1091.1 501.7 L1091.1 508.7 L1088.4 508.7 L1088.4 501.3 L1085.7 501.3 L1085.7 500.8 L1083.0 500.8 L1083.0 504.0 L1080.3 504.0 L1080.3 500.6 L1077.6 500.6 L1077.6 499.1 L1074.9 499.1 L1074.9 498.1 L1072.2 498.1 L1072.2 498.8 L1069.5 498.8 L1069.5 503.4 L1066.8 503.4 L1066.8 498.4 L1064.1 498.4 L1064.1 500.1 L1061.4 500.1 L1061.4 496.6 L1058.7 496.6 L1058.7 501.1 L1056.0 501.1 L1056.0 502.2 L1053.3 502.2 L1053.3 504.8 L1050.6 504.8 L1050.6 499.9 L1047.9 499.9 L1047.9 501.8 L1045.2 501.8 L1045.2 499.9 L1042.5 499.9 L1042.5 502.9 L1039.8 502.9 L1039.8 500.0 L1037.1 500.0 L1037.1 503.6 L1034.4 503.6 L1034.4 498.6 L1031.7 498.6 L1031.7 504.9 L1029.0 504.9 L1029.0 498.3 L1026.3 498.3 L1026.3 500.4 L1023.6 500.4 L1023.6 498.1 L1020.9 498.1 L1020.9 501.1 L1018.2 501.1 L1018.2 507.6 L1015.5 507.6 L1015.5 501.2 L1012.8 501.2 L1012.8 499.0 L1010.1 499.0 L1010.1 502.3 L1007.4 502.3 L1007.4 502.7 L1004.7 502.7 L1004.7 501.1 L1002.0 501.1 L1002.0 503.1 L999.3 503.1 L999.3 506.6 L996.6 506.6 L996.6 503.7 L993.9 503.7 L993.9 503.6 L991.2 503.6 L991.2 511.7 L988.5 511.7 L988.5 501.9 L985.8 501.9 L985.8 503.6 L983.1 503.6 L983.1 502.8 L980.4 502.8 L980.4 506.4 L977.7 506.4 L977.7 504.0 L975.0 504.0 L975.0 502.9 L972.3 502.9 L972.3 506.9 L969.6 506.9 L969.6 502.5 L966.9 502.5 L966.9 504.3 L964.2 504.3 L964.2 503.4 L961.5 503.4 L961.5 503.3 L958.8 503.3 L958.8 513.0 L956.1 513.0 L956.1 504.1 L953.4 504.1 L953.4 503.3 L950.7 503.3 L950.7 504.2 L948.0 504.2 L948.0 502.7 L945.3 502.7 L945.3 502.9 L942.6 502.9 L942.6 503.2 L939.9 503.2 L939.9 504.9 L937.2 504.9 L937.2 501.2 L934.5 501.2 L934.5 506.9 L931.8 506.9 L931.8 502.0 L929.1 502.0 L929.1 504.9 L926.4 504.9 L926.4 504.6 L923.7 504.6 L923.7 504.2 L921.0 504.2 L921.0 512.7 L918.3 512.7 L918.3 503.5 L915.6 503.5 L915.6 501.9 L912.9 501.9 L912.9 506.1 L910.2 506.1 L910.2 508.9 L907.5 508.9 L907.5 506.1 L904.8 506.1 L904.8 505.6 L902.1 505.6 L902.1 501.3 L899.4 501.3 L899.4 503.9 L896.7 503.9 L896.7 508.2 L894.0 508.2 L894.0 505.3 L891.3 505.3 L891.3 508.7 L888.6 508.7 L888.6 505.2 L885.9 505.2 L885.9 503.3 L883.2 503.3 L883.2 507.0 L880.5 507.0 L880.5 504.6 L877.8 504.6 L877.8 505.8 L875.1 505.8 L875.1 508.1 L872.4 508.1 L872.4 506.4 L869.7 506.4 L869.7 503.8 L867.0 503.8 L867.0 507.5 L864.3 507.5 L864.3 506.4 L861.6 506.4 L861.6 510.7 L858.9 510.7 L858.9 503.2 L856.2 503.2 L856.2 503.4 L853.5 503.4 L853.5 504.8 L850.8 504.8 L850.8 506.4 L848.1 506.4 L848.1 505.1 L845.4 505.1 L845.4 505.1 L842.7 505.1 L842.7 502.9 L840.0 502.9 L840.0 503.5 L837.3 503.5 L837.3 503.9 L834.6 503.9 L834.6 500.4 L831.9 500.4 L831.9 501.0 L829.2 501.0 L829.2 505.1 L826.5 505.1 L826.5 504.6 L823.8 504.6 L823.8 503.8 L821.1 503.8 L821.1 503.0 L818.4 503.0 L818.4 504.1 L815.7 504.1 L815.7 502.5 L813.0 502.5 L813.0 507.1 L810.3 507.1 L810.3 502.3 L807.6 502.3 L807.6 503.7 L804.9 503.7 L804.9 500.8 L802.2 500.8 L802.2 509.4 L799.5 509.4 L799.5 505.2 L796.8 505.2 L796.8 500.2 L794.1 500.2 L794.1 503.9 L791.4 503.9 L791.4 503.6 L788.7 503.6 L788.7 504.5 L786.0 504.5 L786.0 502.2 L783.3 502.2 L783.3 502.7 L780.6 502.7 L780.6 501.1 L777.9 501.1 L777.9 502.1 L775.2 502.1 L775.2 498.0 L772.5 498.0 L772.5 499.0 L769.8 499.0 L769.8 496.0 L767.1 496.0 L767.1 498.9 L764.4 498.9 L764.4 497.8 L761.7 497.8 L761.7 500.5 L759.0 500.5 L759.0 503.3 L756.3 503.3 L756.3 497.7 L753.6 497.7 L753.6 496.9 L750.9 496.9 L750.9 498.2 L748.2 498.2 L748.2 498.7 L745.5 498.7 L745.5 498.8 L742.8 498.8 L742.8 497.7 L740.1 497.7 L740.1 503.5 L737.4 503.5 L737.4 499.7 L734.7 499.7 L734.7 495.0 L732.0 495.0 L732.0 501.2 L729.3 501.2 L729.3 494.2 L726.6 494.2 L726.6 493.6 L723.9 493.6 L723.9 493.6 L721.2 493.6 L721.2 496.1 L718.5 496.1 L718.5 491.9 L715.8 491.9 L715.8 494.1 L713.1 494.1 L713.1 491.0 L710.4 491.0 L710.4 494.5 L707.7 494.5 L707.7 491.5 L705.0 491.5 L705.0 494.3 L702.3 494.3 L702.3 489.4 L699.6 489.4 L699.6 492.0 L696.9 492.0 L696.9 494.9 L694.2 494.9 L694.2 495.6 L691.5 495.6 L691.5 493.7 L688.8 493.7 L688.8 489.7 L686.1 489.7 L686.1 491.8 L683.4 491.8 L683.4 490.7 L680.7 490.7 L680.7 490.9 L678.0 490.9 L678.0 489.8 L675.3 489.8 L675.3 488.8 L672.6 488.8 L672.6 490.5 L669.9 490.5 L669.9 495.2 L667.2 495.2 L667.2 489.1 L664.5 489.1 L664.5 487.2 L661.8 487.2 L661.8 489.1 L659.1 489.1 L659.1 497.3 L656.4 497.3 L656.4 485.1 L653.7 485.1 L653.7 490.7 L651.0 490.7 L651.0 485.8 L648.3 485.8 L648.3 485.8 L645.6 485.8 L645.6 489.3 L642.9 489.3 L642.9 489.4 L640.2 489.4 L640.2 491.0 L637.5 491.0 L637.5 483.6 L634.8 483.6 L634.8 491.3 L632.1 491.3 L632.1 488.2 L629.4 488.2 L629.4 492.6 L626.7 492.6 L626.7 484.2 L624.0 484.2 L624.0 491.3 L621.3 491.3 L621.3 491.1 L618.6 491.1 L618.6 484.6 L615.9 484.6 L615.9 484.9 L613.2 484.9 L613.2 501.9 L610.5 501.9 L610.5 489.7 L607.8 489.7 L607.8 488.1 L605.1 488.1 L605.1 483.3 L602.4 483.3 L602.4 482.7 L599.7 482.7 L599.7 481.8 L597.0 481.8 L597.0 484.4 L594.3 484.4 L594.3 483.2 L591.6 483.2 L591.6 480.9 L588.9 480.9 L588.9 488.7 L586.2 488.7 L586.2 483.4 L583.5 483.4 L583.5 480.0 L580.8 480.0 L580.8 485.0 L578.1 485.0 L578.1 484.2 L575.4 484.2 L575.4 482.5 L572.7 482.5 L572.7 481.6 L570.0 481.6 L570.0 477.6 L567.3 477.6 L567.3 481.4 L564.6 481.4 L564.6 484.2 L561.9 484.2 L561.9 481.5 L559.2 481.5 L559.2 482.1 L556.5 482.1 L556.5 476.6 L553.8 476.6 L553.8 483.3 L551.1 483.3 L551.1 482.6 L548.4 482.6 L548.4 479.3 L545.7 479.3 L545.7 486.0 L543.0 486.0 L543.0 486.4 L540.3 486.4 L540.3 479.6 L537.6 479.6 L537.6 480.4 L534.9 480.4 L534.9 486.1 L532.2 486.1 L532.2 479.8 L529.5 479.8 L529.5 481.5 L526.8 481.5 L526.8 474.4 L524.1 474.4 L524.1 487.9 L521.4 487.9 L521.4 480.1 L518.7 480.1 L518.7 487.8 L516.0 487.8 L516.0 479.4 L513.3 479.4 L513.3 478.3 L510.6 478.3 L510.6 486.2 L507.9 486.2 L507.9 479.6 L505.2 479.6 L505.2 476.1 L502.5 476.1 L502.5 471.5 L499.8 471.5 L499.8 471.1 L497.1 471.1 L497.1 470.3 L494.4 470.3 L494.4 473.2 L491.7 473.2 L491.7 468.6 L489.0 468.6 L489.0 468.9 L486.3 468.9 L486.3 466.6 L483.6 466.6 L483.6 468.3 L480.9 468.3 L480.9 476.9 L478.2 476.9 L478.2 470.9 L475.5 470.9 L475.5 462.3 L472.8 462.3 L472.8 468.1 L470.1 468.1 L470.1 468.8 L467.4 468.8 L467.4 465.3 L464.7 465.3 L464.7 469.6 L462.0 469.6 L462.0 471.2 L459.3 471.2 L459.3 463.3 L456.6 463.3 L456.6 461.5 L453.9 461.5 L453.9 466.3 L451.2 466.3 L451.2 463.3 L448.5 463.3 L448.5 461.2 L445.8 461.2 L445.8 457.2 L443.1 457.2 L443.1 458.1 L440.4 458.1 L440.4 461.5 L437.7 461.5 L437.7 456.6 L435.0 456.6 L435.0 460.4 L432.3 460.4 L432.3 468.7 L429.6 468.7 L429.6 456.6 L426.9 456.6 L426.9 451.9 L424.2 451.9 L424.2 458.6 L421.5 458.6 L421.5 463.2 L418.8 463.2 L418.8 452.0 L416.1 452.0 L416.1 462.4 L413.4 462.4 L413.4 455.2 L410.7 455.2 L410.7 446.5 L408.0 446.5 L408.0 450.8 L405.3 450.8 L405.3 453.4 L402.6 453.4 L402.6 447.9 L399.9 447.9 L399.9 448.9 L397.2 448.9 L397.2 444.3 L394.5 444.3 L394.5 457.0 L391.8 457.0 L391.8 454.9 L389.1 454.9 L389.1 452.8 L386.4 452.8 L386.4 452.0 L383.7 452.0 L383.7 445.2 L381.0 445.2 L381.0 444.1 L378.3 444.1 L378.3 442.0 L375.6 442.0 L375.6 442.3 L372.9 442.3 L372.9 441.9 L370.2 441.9 L370.2 440.3 L367.5 440.3 L367.5 437.9 L364.8 437.9 L364.8 434.5 L362.1 434.5 L362.1 432.2 L359.4 432.2 L359.4 431.8 L356.7 431.8 L356.7 434.9 L354.0 434.9 L354.0 448.4 L351.3 448.4 L351.3 432.6 L348.6 432.6 L348.6 443.9 L345.9 443.9 L345.9 432.0 L343.2 432.0 L343.2 432.1 L340.5 432.1 L340.5 428.1 L337.8 428.1 L337.8 436.4 L335.1 436.4 L335.1 429.0 L332.4 429.0 L332.4 429.8 L329.7 429.8 L329.7 424.9 L327.0 424.9 L327.0 424.9 L324.3 424.9 L324.3 431.6 L321.6 431.6 L321.6 426.0 L318.9 426.0 L318.9 434.4 L316.2 434.4 L316.2 428.9 L313.5 428.9 L313.5 426.2 L310.8 426.2 L310.8 428.7 L308.1 428.7 L308.1 436.3 L305.4 436.3 L305.4 431.0 L302.7 431.0 L302.7 424.8 L300.0 424.8 L300.0 434.3 L297.3 434.3 L297.3 430.4 L294.6 430.4 L294.6 438.4 L291.9 438.4 L291.9 438.5 L289.2 438.5 L289.2 435.2 L286.5 435.2 L286.5 435.5 L283.8 435.5 L283.8 442.8 L281.1 442.8 L281.1 440.8 L278.4 440.8 L278.4 448.0 L275.7 448.0 L275.7 438.8 L273.0 438.8 L273.0 440.5 L270.3 440.5 L270.3 440.2 L267.6 440.2 L267.6 439.5 L264.9 439.5 L264.9 435.1 L262.2 435.1 L262.2 446.7 L259.5 446.7 L259.5 442.0 L256.8 442.0 L256.8 445.3 L254.1 445.3 L254.1 439.6 L251.4 439.6 L251.4 446.6 L248.7 446.6 L248.7 440.2 L246.0 440.2 L246.0 437.6 L243.3 437.6 L243.3 448.0 L240.6 448.0 L240.6 445.8 L237.9 445.8 L237.9 442.8 L235.2 442.8 L235.2 445.3 L232.5 445.3 L232.5 449.4 L229.8 449.4 L229.8 441.4 L227.1 441.4 L227.1 460.1 L224.4 460.1 L224.4 446.0 L221.7 446.0 L221.7 444.3 L219.0 444.3 L219.0 452.6 L216.3 452.6 L216.3 451.2 L213.6 451.2 L213.6 444.5 L210.9 444.5 L210.9 449.8 L208.2 449.8 L208.2 462.6 L205.5 462.6 L205.5 457.4 L202.8 457.4 L202.8 455.3 L200.1 455.3 L200.1 460.7 L197.4 460.7 L197.4 463.0 L194.7 463.0 L194.7 455.9 L192.0 455.9 L192.0 467.8 L189.3 467.8 L189.3 462.5 L186.6 462.5 L186.6 454.1 L183.9 454.1 L183.9 459.9 L181.2 459.9 L181.2 457.3 L178.5 457.3 L178.5 462.7 L175.8 462.7 L175.8 462.0 L173.1 462.0 L173.1 456.4 L170.4 456.4 L170.4 461.0 L167.7 461.0 L167.7 459.0 L165.0 459.0Z"/>
<path fill="#0000ff" d="M165.0 594.7 L167.7 594.7 L167.7 593.2 L170.4 593.2 L170.4 593.9 L173.1 593.9 L173.1 589.3 L175.8 589.3 L175.8 591.7 L178.5 591.7 L178.5 581.6 L181.2 581.6 L181.2 586.9 L183.9 586.9 L183.9 572.5 L186.6 572.5 L186.6 582.2 L189.3 582.2 L189.3 575.0 L192.0 575.0 L192.0 578.3 L194.7 578.3 L194.7 581.1 L197.4 581.1 L197.4 573.6 L200.1 573.6 L200.1 582.0 L202.8 582.0 L202.8 578.7 L205.5 578.7 L205.5 583.0 L208.2 583.0 L208.2 574.3 L210.9 574.3 L210.9 573.9 L213.6 573.9 L213.6 572.4 L216.3 572.4 L216.3 579.2 L219.0 579.2 L219.0 577.4 L221.7 577.4 L221.7 568.4 L224.4 568.4 L224.4 573.6 L227.1 573.6 L227.1 573.6 L229.8 573.6 L229.8 577.0 L232.5 577.0 L232.5 575.2 L235.2 575.2 L235.2 572.8 L237.9 572.8 L237.9 567.5 L240.6 567.5 L240.6 570.8 L243.3 570.8 L243.3 567.4 L246.0 567.4 L246.0 560.8 L248.7 560.8 L248.7 560.7 L251.4 560.7 L251.4 569.2 L254.1 569.2 L254.1 558.8 L256.8 558.8 L256.8 556.8 L259.5 556.8 L259.5 562.3 L262.2 562.3 L262.2 557.6 L264.9 557.6 L264.9 560.6 L267.6 560.6 L267.6 561.4 L270.3 561.4 L270.3 561.3 L273.0 561.3 L273.0 560.1 L275.7 560.1 L275.7 556.9 L278.4 556.9 L278.4 560.0 L281.1 560.0 L281.1 555.6 L283.8 555.6 L283.8 553.4 L286.5 553.4 L286.5 558.4 L289.2 558.4 L289.2 557.5 L291.9 557.5 L291.9 556.4 L294.6 556.4 L294.6 553.3 L297.3 553.3 L297.3 554.7 L300.0 554.7 L300.0 556.3 L302.7 556.3 L302.7 553.5 L305.4 553.5 L305.4 551.8 L308.1 551.8 L308.1 556.5 L310.8 556.5 L310.8 550.4 L313.5 550.4 L313.5 550.1 L316.2 550.1 L316.2 554.4 L318.9 554.4 L318.9 556.2 L321.6 556.2 L321.6 549.6 L324.3 549.6 L324.3 552.6 L327.0 552.6 L327.0 548.2 L329.7 548.2 L329.7 557.1 L332.4 557.1 L332.4 547.5 L335.1 547.5 L335.1 553.8 L337.8 553.8 L337.8 553.4 L340.5 553.4 L340.5 550.9 L343.2 550.9 L343.2 554.4 L345.9 554.4 L345.9 550.1 L348.6 550.1 L348.6 549.6 L351.3 549.6 L351.3 554.5 L354.0 554.5 L354.0 549.5 L356.7 549.5 L356.7 554.4 L359.4 554.4 L359.4 550.2 L362.1 550.2 L362.1 552.5 L364.8 552.5 L364.8 559.2 L367.5 559.2 L367.5 553.5 L370.2 553.5 L370.2 555.9 L372.9 555.9 L372.9 554.8 L375.6 554.8 L375.6 558.3 L378.3 558.3 L378.3 558.8 L381.0 558.8 L381.0 565.3 L383.7 565.3 L383.7 565.1 L386.4 565.1 L386.4 565.2 L389.1 565.2 L389.1 567.0 L391.8 567.0 L391.8 571.1 L394.5 571.1 L394.5 560.6 L397.2 560.6 L397.2 577.1 L399.9 577.1 L399.9 566.3 L402.6 566.3 L402.6 574.9 L405.3 574.9 L405.3 571.7 L408.0 571.7 L408.0 571.5 L410.7 571.5 L410.7 572.3 L413.4 572.3 L413.4 575.6 L416.1 575.6 L416.1 584.9 L418.8 584.9 L418.8 574.3 L421.5 574.3 L421.5 585.8 L424.2 585.8 L424.2 578.1 L426.9 578.1 L426.9 579.6 L429.6 579.6 L429.6 577.8 L432.3 577.8 L432.3 579.8 L435.0 579.8 L435.0 578.0 L437.7 578.0 L437.7 585.4 L440.4 585.4 L440.4 583.6 L443.1 583.6 L443.1 589.9 L445.8 589.9 L445.8 580.1 L448.5 580.1 L448.5 585.7 L451.2 585.7 L451.2 587.8 L453.9 587.8 L453.9 583.5 L456.6 583.5 L456.6 585.9 L459.3 585.9 L459.3 592.9 L462.0 592.9 L462.0 582.9 L464.7 582.9 L464.7 591.1 L467.4 591.1 L467.4 591.2 L470.1 591.2 L470.1 595.2 L472.8 595.2 L472.8 590.7 L475.5 590.7 L475.5 595.7 L478.2 595.7 L478.2 597.4 L480.9 597.4 L480.9 588.8 L483.6 588.8 L483.6 576.8 L486.3 576.8 L486.3 589.4 L489.0 589.4 L489.0 590.3 L491.7 590.3 L491.7 600.6 L494.4 600.6 L494.4 601.6 L497.1 601.6 L497.1 596.2 L499.8 596.2 L499.8 591.6 L502.5 591.6 L502.5 585.1 L505.2 585.1 L505.2 602.9 L507.9 602.9 L507.9 604.6 L510.6 604.6 L510.6 598.1 L513.3 598.1 L513.3 607.9 L516.0 607.9 L516.0 604.9 L518.7 604.9 L518.7 611.9 L521.4 611.9 L521.4 603.3 L524.1 603.3 L524.1 601.2 L526.8 601.2 L526.8 605.8 L529.5 605.8 L529.5 606.0 L532.2 606.0 L532.2 602.2 L534.9 602.2 L534.9 612.1 L537.6 612.1 L537.6 605.0 L540.3 605.0 L540.3 610.4 L543.0 610.4 L543.0 609.0 L545.7 609.0 L545.7 608.6 L548.4 608.6 L548.4 610.0 L551.1 610.0 L551.1 614.5 L553.8 614.5 L553.8 610.4 L556.5 610.4 L556.5 603.5 L559.2 603.5 L559.2 611.7 L561.9 611.7 L561.9 608.5 L564.6 608.5 L564.6 607.2 L567.3 607.2 L567.3 605.7 L570.0 605.7 L570.0 606.7 L572.7 606.7 L572.7 609.8 L575.4 609.8 L575.4 615.7 L578.1 615.7 L578.1 610.7 L580.8 610.7 L580.8 607.0 L583.5 607.0 L583.5 603.2 L586.2 603.2 L586.2 614.7 L588.9 614.7 L588.9 610.7 L591.6 610.7 L591.6 608.2 L594.3 608.2 L594.3 610.7 L597.0 610.7 L597.0 607.6 L599.7 607.6 L599.7 608.6 L602.4 608.6 L602.4 612.4 L605.1 612.4 L605.1 608.7 L607.8 608.7 L607.8 617.0 L610.5 617.0 L610.5 615.5 L613.2 615.5 L613.2 610.1 L615.9 610.1 L615.9 613.9 L618.6 613.9 L618.6 615.9 L621.3 615.9 L621.3 621.6 L624.0 621.6 L624.0 619.8 L626.7 619.8 L626.7 620.1 L629.4 620.1 L629.4 617.7 L632.1 617.7 L632.1 617.3 L634.8 617.3 L634.8 619.7 L637.5 619.7 L637.5 621.9 L640.2 621.9 L640.2 621.6 L642.9 621.6 L642.9 621.8 L645.6 621.8 L645.6 621.2 L648.3 621.2 L648.3 617.9 L651.0 617.9 L651.0 619.8 L653.7 619.8 L653.7 616.1 L656.4 616.1 L656.4 617.6 L659.1 617.6 L659.1 624.4 L661.8 624.4 L661.8 616.5 L664.5 616.5 L664.5 621.1 L667.2 621.1 L667.2 620.7 L669.9 620.7 L669.9 617.0 L672.6 617.0 L672.6 622.7 L675.3 622.7 L675.3 614.6 L678.0 614.6 L678.0 627.9 L680.7 627.9 L680.7 626.0 L683.4 626.0 L683.4 627.0 L686.1 627.0 L686.1 631.3 L688.8 631.3 L688.8 625.9 L691.5 625.9 L691.5 628.5 L694.2 628.5 L694.2 632.4 L696.9 632.4 L696.9 630.0 L699.6 630.0 L699.6 632.4 L702.3 632.4 L702.3 626.7 L705.0 626.7 L705.0 631.4 L707.7 631.4 L707.7 629.2 L710.4 629.2 L710.4 624.1 L713.1 624.1 L713.1 633.2 L715.8 633.2 L715.8 629.9 L718.5 629.9 L718.5 631.9 L721.2 631.9 L721.2 620.8 L723.9 620.8 L723.9 632.4 L726.6 632.4 L726.6 634.9 L729.3 634.9 L729.3 636.4 L732.0 636.4 L732.0 636.6 L734.7 636.6 L734.7 637.0 L737.4 637.0 L737.4 634.2 L740.1 634.2 L740.1 635.1 L742.8 635.1 L742.8 630.2 L745.5 630.2 L745.5 632.1 L748.2 632.1 L748.2 634.7 L750.9 634.7 L750.9 634.9 L753.6 634.9 L753.6 635.6 L756.3 635.6 L756.3 636.9 L759.0 636.9 L759.0 628.2 L761.7 628.2 L761.7 638.8 L764.4 638.8 L764.4 641.1 L767.1 641.1 L767.1 631.4 L769.8 631.4 L769.8 636.8 L772.5 636.8 L772.5 638.3 L775.2 638.3 L775.2 635.4 L777.9 635.4 L777.9 640.9 L780.6 640.9 L780.6 643.0 L783.3 643.0 L783.3 643.9 L786.0 643.9 L786.0 641.0 L788.7 641.0 L788.7 641.7 L791.4 641.7 L791.4 639.8 L794.1 639.8 L794.1 644.6 L796.8 644.6 L796.8 641.1 L799.5 641.1 L799.5 643.2 L802.2 643.2 L802.2 642.8 L804.9 642.8 L804.9 646.5 L807.6 646.5 L807.6 643.9 L810.3 643.9 L810.3 642.7 L813.0 642.7 L813.0 642.4 L815.7 642.4 L815.7 645.5 L818.4 645.5 L818.4 647.1 L821.1 647.1 L821.1 644.2 L823.8 644.2 L823.8 645.4 L826.5 645.4 L826.5 646.3 L829.2 646.3 L829.2 643.8 L831.9 643.8 L831.9 646.4 L834.6 646.4 L834.6 647.0 L837.3 647.0 L837.3 644.9 L840.0 644.9 L840.0 644.8 L842.7 644.8 L842.7 642.8 L845.4 642.8 L845.4 641.9 L848.1 641.9 L848.1 647.2 L850.8 647.2 L850.8 645.3 L853.5 645.3 L853.5 644.6 L856.2 644.6 L856.2 646.9 L858.9 646.9 L858.9 645.5 L861.6 645.5 L861.6 646.0 L864.3 646.0 L864.3 646.0 L867.0 646.0 L867.0 647.2 L869.7 647.2 L869.7 651.2 L872.4 651.2 L872.4 649.1 L875.1 649.1 L875.1 647.0 L877.8 647.0 L877.8 640.0 L880.5 640.0 L880.5 643.0 L883.2 643.0 L883.2 643.1 L885.9 643.1 L885.9 646.0 L888.6 646.0 L888.6 650.3 L891.3 650.3 L891.3 644.1 L894.0 644.1 L894.0 646.2 L896.7 646.2 L896.7 645.9 L899.4 645.9 L899.4 646.0 L902.1 646.0 L902.1 646.5 L904.8 646.5 L904.8 648.0 L907.5 648.0 L907.5 643.7 L910.2 643.7 L910.2 648.1 L912.9 648.1 L912.9 646.7 L915.6 646.7 L915.6 647.5 L918.3 647.5 L918.3 643.9 L921.0 643.9 L921.0 648.9 L923.7 648.9 L923.7 643.2 L926.4 643.2 L926.4 644.3 L929.1 644.3 L929.1 644.5 L931.8 644.5 L931.8 649.8 L934.5 649.8 L934.5 641.8 L937.2 641.8 L937.2 648.0 L939.9 648.0 L939.9 644.8 L942.6 644.8 L942.6 644.3 L945.3 644.3 L945.3 641.8 L948.0 641.8 L948.0 646.5 L950.7 646.5 L950.7 640.9 L953.4 640.9 L953.4 646.3 L956.1 646.3 L956.1 644.3 L958.8 644.3 L958.8 640.4 L961.5 640.4 L961.5 644.7 L964.2 644.7 L964.2 643.7 L966.9 643.7 L966.9 643.2 L969.6 643.2 L969.6 642.0 L972.3 642.0 L972.3 638.6 L975.0 638.6 L975.0 643.8 L977.7 643.8 L977.7 643.5 L980.4 643.5 L980.4 643.0 L983.1 643.0 L983.1 642.4 L985.8 642.4 L985.8 640.1 L988.5 640.1 L988.5 645.1 L991.2 645.1 L991.2 637.0 L993.9 637.0 L993.9 643.1 L996.6 643.1 L996.6 633.1 L999.3 633.1 L999.3 639.2 L1002.0 639.2 L1002.0 641.0 L1004.7 641.0 L1004.7 638.3 L1007.4 638.3 L1007.4 635.0 L1010.1 635.0 L1010.1 634.8 L1012.8 634.8 L1012.8 639.1 L1015.5 639.1 L1015.5 637.8 L1018.2 637.8 L1018.2 640.0 L1020.9 640.0 L1020.9 643.2 L1023.6 643.2 L1023.6 639.4 L1026.3 639.4 L1026.3 641.7 L1029.0 641.7 L1029.0 642.3 L1031.7 642.3 L1031.7 641.1 L1034.4 641.1 L1034.4 638.8 L1037.1 638.8 L1037.1 642.6 L1039.8 642.6 L1039.8 637.3 L1042.5 637.3 L1042.5 642.1 L1045.2 642.1 L1045.2 637.1 L1047.9 637.1 L1047.9 639.5 L1050.6 639.5 L1050.6 638.0 L1053.3 638.0 L1053.3 635.2 L1056.0 635.2 L1056.0 641.0 L1058.7 641.0 L1058.7 635.7 L1061.4 635.7 L1061.4 638.5 L1064.1 638.5 L1064.1 635.5 L1066.8 635.5 L1066.8 636.8 L1069.5 636.8 L1069.5 640.1 L1072.2 640.1 L1072.2 641.1 L1074.9 641.1 L1074.9 641.2 L1077.6 641.2 L1077.6 638.2 L1080.3 638.2 L1080.3 637.6 L1083.0 637.6 L1083.0 637.0 L1085.7 637.0 L1085.7 637.8 L1088.4 637.8 L1088.4 637.5 L1091.1 637.5 L1091.1 638.7 L1093.8 638.7 L1093.8 634.8 L1096.5 634.8 L1096.5 637.8 L1099.2 637.8 L1099.2 635.5 L1101.9 635.5 L1101.9 634.0 L1104.6 634.0 L1104.6 636.6 L1107.3 636.6 L1107.3 637.0 L1110.0 637.0 L1110.0 633.4 L1112.7 633.4 L1112.7 635.6 L1115.4 635.6 L1115.4 635.6 L1118.1 635.6 L1118.1 637.0 L1120.8 637.0 L1120.8 635.2 L1123.5 635.2 L1123.5 633.7 L1126.2 633.7 L1126.2 634.3 L1128.9 634.3 L1128.9 632.8 L1131.6 632.8 L1131.6 634.6 L1134.3 634.6 L1134.3 632.8 L1137.0 632.8 L1137.0 632.0 L1139.7 632.0 L1139.7 630.6 L1142.4 630.6 L1142.4 634.7 L1145.1 634.7 L1145.1 637.8 L1147.8 637.8 L1147.8 632.4 L1150.5 632.4 L1150.5 631.3 L1153.2 631.3 L1153.2 635.2 L1155.9 635.2 L1155.9 631.7 L1158.6 631.7 L1158.6 624.9 L1161.3 624.9 L1161.3 631.4 L1164.0 631.4 L1164.0 625.1 L1166.7 625.1 L1166.7 633.3 L1169.4 633.3 L1169.4 628.6 L1172.1 628.6 L1172.1 631.9 L1174.8 631.9 L1174.8 634.9 L1177.5 634.9 L1177.5 635.6 L1180.2 635.6 L1180.2 632.0 L1182.9 632.0 L1182.9 636.0 L1185.6 636.0 L1185.6 631.9 L1188.3 631.9 L1188.3 637.4 L1191.0 637.4 L1191.0 634.5 L1193.7 634.5 L1193.7 630.8 L1196.4 630.8 L1196.4 637.0 L1199.1 637.0 L1199.1 632.3 L1201.8 632.3 L1201.8 630.9 L1204.5 630.9 L1204.5 636.2 L1207.2 636.2 L1207.2 635.1 L1209.9 635.1 L1209.9 635.9 L1212.6 635.9 L1212.6 637.7 L1215.3 637.7 L1215.3 638.6 L1218.0 638.6 L1218.0 635.5 L1220.7 635.5 L1220.7 629.5 L1223.4 629.5 L1223.4 635.8 L1226.1 635.8 L1226.1 634.4 L1228.8 634.4 L1228.8 631.0 L1231.5 631.0 L1231.5 631.4 L1234.2 631.4 L1234.2 633.2 L1236.9 633.2 L1236.9 632.4 L1239.6 632.4 L1239.6 637.8 L1242.3 637.8 L1242.3 635.1 L1245.0 635.1 L1245.0 636.2 L1247.7 636.2 L1247.7 641.6 L1250.4 641.6 L1250.4 638.4 L1253.1 638.4 L1253.1 631.7 L1255.8 631.7 L1255.8 631.7 L1258.5 631.7 L1258.5 631.3 L1261.2 631.3 L1261.2 637.8 L1263.9 637.8 L1263.9 638.2 L1266.6 638.2 L1266.6 635.4 L1269.3 635.4 L1269.3 636.3 L1272.0 636.3 L1272.0 637.3 L1274.7 637.3 L1274.7 639.5 L1277.4 639.5 L1277.4 638.1 L1280.1 638.1 L1280.1 640.2 L1282.8 640.2 L1282.8 639.3 L1285.5 639.3 L1285.5 636.2 L1288.2 636.2 L1288.2 637.2 L1290.9 637.2 L1290.9 636.3 L1293.6 636.3 L1293.6 634.4 L1296.3 634.4 L1296.3 634.6 L1299.0 634.6 L1299.0 639.1 L1301.7 639.1 L1301.7 642.0 L1304.4 642.0 L1304.4 636.5 L1307.1 636.5 L1307.1 641.6 L1309.8 641.6 L1309.8 640.0 L1312.5 640.0 L1312.5 637.6 L1315.2 637.6 L1315.2 637.4 L1317.9 637.4 L1317.9 636.6 L1320.6 636.6 L1320.6 638.5 L1323.3 638.5 L1323.3 640.7 L1326.0 640.7 L1326.0 642.5 L1328.7 642.5 L1328.7 639.9 L1331.4 639.9 L1331.4 641.2 L1334.1 641.2 L1334.1 640.2 L1336.8 640.2 L1336.8 638.7 L1339.5 638.7 L1339.5 640.2 L1342.2 640.2 L1342.2 642.7 L1344.9 642.7 L1344.9 645.1 L1347.6 645.1 L1347.6 644.8 L1350.3 644.8 L1350.3 640.9 L1353.0 640.9 L1353.0 642.8 L1355.7 642.8 L1355.7 641.8 L1358.4 641.8 L1358.4 646.5 L1361.1 646.5 L1361.1 643.4 L1363.8 643.4 L1363.8 645.4 L1366.5 645.4 L1366.5 647.5 L1369.2 647.5 L1369.2 642.6 L1371.9 642.6 L1371.9 642.2 L1374.6 642.2 L1374.6 641.9 L1377.3 641.9 L1377.3 647.3 L1380.0 647.3 L1380.0 641.6 L1382.7 641.6 L1382.7 639.0 L1385.4 639.0 L1385.4 643.9 L1388.1 643.9 L1388.1 643.1 L1390.8 643.1 L1390.8 644.9 L1393.5 644.9 L1393.5 645.1 L1396.2 645.1 L1396.2 644.7 L1398.9 644.7 L1398.9 645.4 L1401.6 645.4 L1401.6 647.5 L1404.3 647.5 L1404.3 645.8 L1407.0 645.8 L1407.0 644.4 L1409.7 644.4 L1409.7 643.3 L1412.4 643.3 L1412.4 644.4 L1415.1 644.4 L1415.1 644.8 L1417.8 644.8 L1417.8 646.2 L1420.5 646.2 L1420.5 643.2 L1423.2 643.2 L1423.2 641.0 L1425.9 641.0 L1425.9 642.3 L1428.6 642.3 L1428.6 645.2 L1431.3 645.2 L1431.3 645.4 L1434.0 645.4 L1434.0 647.8 L1436.7 647.8 L1436.7 640.5 L1439.4 640.5 L1439.4 645.1 L1442.1 645.1 L1442.1 645.0 L1444.8 645.0 L1444.8 645.6 L1447.5 645.6 L1447.5 645.0 L1450.2 645.0 L1450.2 649.2 L1452.9 649.2 L1452.9 646.6 L1455.6 646.6 L1455.6 649.3 L1458.3 649.3 L1458.3 647.0 L1461.0 647.0 L1461.0 644.4 L1463.7 644.4 L1463.7 648.1 L1466.4 648.1 L1466.4 646.1 L1469.1 646.1 L1469.1 649.6 L1471.8 649.6 L1471.8 644.7 L1474.5 644.7 L1474.5 649.3 L1477.2 649.3 L1477.2 648.5 L1479.9 648.5 L1479.9 646.2 L1482.6 646.2 L1482.6 653.2 L1485.3 653.2 L1485.3 652.7 L1488.0 652.7 L1488.0 643.7 L1490.7 643.7 L1490.7 649.8 L1493.4 649.8 L1493.4 645.2 L1496.1 645.2 L1496.1 650.1 L1498.8 650.1 L1498.8 650.3 L1501.5 650.3 L1501.5 651.8 L1504.2 651.8 L1504.2 651.3 L1506.9 651.3 L1506.9 649.4 L1509.6 649.4 L1509.6 648.5 L1512.3 648.5 L1512.3 650.4 L1515.0 650.4 L1515.0 650.3 L1517.7 650.3 L1517.7 652.4 L1520.4 652.4 L1520.4 649.9 L1523.1 649.9 L1523.1 650.0 L1525.8 650.0 L1525.8 650.4 L1528.5 650.4 L1528.5 648.4 L1531.2 648.4 L1531.2 653.7 L1533.9 653.7 L1533.9 651.5 L1536.6 651.5 L1536.6 649.5 L1539.3 649.5 L1539.3 650.1 L1542.0 650.1 L1542.0 650.3 L1544.7 650.3 L1544.7 648.8 L1547.4 648.8 L1547.4 648.8 L1550.1 648.8 L1550.1 652.5 L1552.8 652.5 L1552.8 648.5 L1555.5 648.5 L1555.5 653.7 L1558.2 653.7 L1558.2 651.7 L1560.9 651.7 L1560.9 649.6 L1563.6 649.6 L1563.6 653.1 L1566.3 653.1 L1566.3 651.1 L1569.0 651.1 L1569.0 651.5 L1571.7 651.5 L1571.7 650.9 L1574.4 650.9 L1574.4 652.1 L1577.1 652.1 L1577.1 651.7 L1579.8 651.7 L1579.8 649.7 L1582.5 649.7 L1582.5 650.6 L1585.2 650.6 L1585.2 652.0 L1587.9 652.0 L1587.9 653.0 L1590.6 653.0 L1590.6 654.0 L1593.3 654.0 L1593.3 649.3 L1596.0 649.3 L1596.0 649.8 L1598.7 649.8 L1598.7 653.4 L1601.4 653.4 L1601.4 653.3 L1604.1 653.3 L1604.1 652.7 L1606.8 652.7 L1606.8 649.1 L1609.5 649.1 L1609.5 654.9 L1612.2 654.9 L1612.2 651.8 L1614.9 651.8 L1614.9 652.4 L1617.6 652.4 L1617.6 653.7 L1620.3 653.7 L1620.3 652.4 L1623.0 652.4 L1623.0 650.5 L1625.7 650.5 L1625.7 654.5 L1628.4 654.5 L1628.4 652.1 L1631.1 652.1 L1631.1 653.4 L1633.8 653.4 L1633.8 652.9 L1636.5 652.9 L1636.5 656.9 L1639.2 656.9 L1639.2 654.8 L1641.9 654.8 L1641.9 654.3 L1644.6 654.3 L1644.6 652.1 L1647.3 652.1 L1647.3 654.1 L1650.0 654.1 L1650.0 653.1 L1652.7 653.1 L1652.7 653.8 L1655.4 653.8 L1655.4 654.0 L1658.1 654.0 L1658.1 654.2 L1660.8 654.2 L1660.8 657.4 L1663.5 657.4 L1663.5 653.8 L1666.2 653.8 L1666.2 654.5 L1668.9 654.5 L1668.9 652.6 L1671.6 652.6 L1671.6 655.4 L1674.3 655.4 L1674.3 651.0 L1677.0 651.0 L1677.0 654.2 L1679.7 654.2 L1679.7 654.4 L1682.4 654.4 L1682.4 655.9 L1685.1 655.9 L1685.1 652.4 L1687.8 652.4 L1687.8 654.5 L1690.5 654.5 L1690.5 653.3 L1693.2 653.3 L1693.2 652.6 L1695.9 652.6 L1695.9 654.0 L1698.6 654.0 L1698.6 657.1 L1701.3 657.1 L1701.3 654.8 L1704.0 654.8 L1704.0 655.1 L1706.7 655.1 L1706.7 656.4 L1709.4 656.4 L1709.4 654.7 L1712.1 654.7 L1712.1 655.9 L1714.8 655.9 L1714.8 655.6 L1717.5 655.6 L1717.5 656.6 L1720.2 656.6 L1720.2 654.9 L1722.9 654.9 L1722.9 654.5 L1725.6 654.5 L1725.6 654.0 L1728.3 654.0 L1728.3 652.6 L1731.0 652.6 L1731.0 656.0 L1733.7 656.0 L1733.7 655.8 L1736.4 655.8 L1736.4 656.9 L1738.0 656.9 L1738.0 668.5 L1736.4 668.5 L1736.4 668.7 L1733.7 668.7 L1733.7 674.0 L1731.0 674.0 L1731.0 672.8 L1728.3 672.8 L1728.3 667.4 L1725.6 667.4 L1725.6 667.7 L1722.9 667.7 L1722.9 671.0 L1720.2 671.0 L1720.2 669.2 L1717.5 669.2 L1717.5 667.8 L1714.8 667.8 L1714.8 667.0 L1712.1 667.0 L1712.1 670.1 L1709.4 670.1 L1709.4 669.9 L1706.7 669.9 L1706.7 669.0 L1704.0 669.0 L1704.0 667.1 L1701.3 667.1 L1701.3 666.4 L1698.6 666.4 L1698.6 671.0 L1695.9 671.0 L1695.9 669.1 L1693.2 669.1 L1693.2 669.8 L1690.5 669.8 L1690.5 667.9 L1687.8 667.9 L1687.8 668.8 L1685.1 668.8 L1685.1 669.1 L1682.4 669.1 L1682.4 670.3 L1679.7 670.3 L1679.7 671.3 L1677.0 671.3 L1677.0 667.6 L1674.3 667.6 L1674.3 668.0 L1671.6 668.0 L1671.6 669.5 L1668.9 669.5 L1668.9 667.6 L1666.2 667.6 L1666.2 667.1 L1663.5 667.1 L1663.5 669.5 L1660.8 669.5 L1660.8 668.3 L1658.1 668.3 L1658.1 670.3 L1655.4 670.3 L1655.4 669.6 L1652.7 669.6 L1652.7 667.9 L1650.0 667.9 L1650.0 670.6 L1647.3 670.6 L1647.3 665.4 L1644.6 665.4 L1644.6 669.2 L1641.9 669.2 L1641.9 669.4 L1639.2 669.4 L1639.2 669.3 L1636.5 669.3 L1636.5 669.5 L1633.8 669.5 L1633.8 666.2 L1631.1 666.2 L1631.1 668.6 L1628.4 668.6 L1628.4 668.8 L1625.7 668.8 L1625.7 670.2 L1623.0 670.2 L1623.0 667.3 L1620.3 667.3 L1620.3 668.8 L1617.6 668.8 L1617.6 668.8 L1614.9 668.8 L1614.9 668.0 L1612.2 668.0 L1612.2 673.5 L1609.5 673.5 L1609.5 669.7 L1606.8 669.7 L1606.8 671.0 L1604.1 671.0 L1604.1 669.8 L1601.4 669.8 L1601.4 668.1 L1598.7 668.1 L1598.7 668.3 L1596.0 668.3 L1596.0 669.6 L1593.3 669.6 L1593.3 670.0 L1590.6 670.0 L1590.6 667.6 L1587.9 667.6 L1587.9 667.5 L1585.2 667.5 L1585.2 671.4 L1582.5 671.4 L1582.5 667.8 L1579.8 667.8 L1579.8 667.5 L1577.1 667.5 L1577.1 665.0 L1574.4 665.0 L1574.4 667.8 L1571.7 667.8 L1571.7 669.7 L1569.0 669.7 L1569.0 668.9 L1566.3 668.9 L1566.3 668.8 L1563.6 668.8 L1563.6 665.1 L1560.9 665.1 L1560.9 668.1 L1558.2 668.1 L1558.2 667.2 L1555.5 667.2 L1555.5 665.7 L1552.8 665.7 L1552.8 669.0 L1550.1 669.0 L1550.1 663.9 L1547.4 663.9 L1547.4 667.5 L1544.7 667.5 L1544.7 666.8 L1542.0 666.8 L1542.0 664.7 L1539.3 664.7 L1539.3 667.6 L1536.6 667.6 L1536.6 669.0 L1533.9 669.0 L1533.9 665.1 L1531.2 665.1 L1531.2 667.0 L1528.5 667.0 L1528.5 664.8 L1525.8 664.8 L1525.8 666.8 L1523.1 666.8 L1523.1 667.3 L1520.4 667.3 L1520.4 668.7 L1517.7 668.7 L1517.7 667.2 L1515.0 667.2 L1515.0 667.7 L1512.3 667.7 L1512.3 664.6 L1509.6 664.6 L1509.6 664.8 L1506.9 664.8 L1506.9 668.1 L1504.2 668.1 L1504.2 666.7 L1501.5 666.7 L1501.5 667.5 L1498.8 667.5 L1498.8 667.0 L1496.1 667.0 L1496.1 668.3 L1493.4 668.3 L1493.4 667.3 L1490.7 667.3 L1490.7 664.7 L1488.0 664.7 L1488.0 667.1 L1485.3 667.1 L1485.3 673.4 L1482.6 673.4 L1482.6 668.7 L1479.9 668.7 L1479.9 666.1 L1477.2 666.1 L1477.2 667.4 L1474.5 667.4 L1474.5 666.0 L1471.8 666.0 L1471.8 663.4 L1469.1 663.4 L1469.1 670.0 L1466.4 670.0 L1466.4 666.1 L1463.7 666.1 L1463.7 664.9 L1461.0 664.9 L1461.0 667.1 L1458.3 667.1 L1458.3 667.1 L1455.6 667.1 L1455.6 667.7 L1452.9 667.7 L1452.9 666.5 L1450.2 666.5 L1450.2 666.8 L1447.5 666.8 L1447.5 667.0 L1444.8 667.0 L1444.8 667.7 L1442.1 667.7 L1442.1 662.1 L1439.4 662.1 L1439.4 666.3 L1436.7 666.3 L1436.7 665.5 L1434.0 665.5 L1434.0 666.0 L1431.3 666.0 L1431.3 665.1 L1428.6 665.1 L1428.6 668.9 L1425.9 668.9 L1425.9 662.6 L1423.2 662.6 L1423.2 665.1 L1420.5 665.1 L1420.5 663.7 L1417.8 663.7 L1417.8 670.5 L1415.1 670.5 L1415.1 664.8 L1412.4 664.8 L1412.4 660.0 L1409.7 660.0 L1409.7 664.1 L1407.0 664.1 L1407.0 667.3 L1404.3 667.3 L1404.3 663.3 L1401.6 663.3 L1401.6 663.2 L1398.9 663.2 L1398.9 661.0 L1396.2 661.0 L1396.2 659.6 L1393.5 659.6 L1393.5 662.5 L1390.8 662.5 L1390.8 664.2 L1388.1 664.2 L1388.1 663.1 L1385.4 663.1 L1385.4 661.8 L1382.7 661.8 L1382.7 658.2 L1380.0 658.2 L1380.0 661.5 L1377.3 661.5 L1377.3 663.9 L1374.6 663.9 L1374.6 660.5 L1371.9 660.5 L1371.9 663.4 L1369.2 663.4 L1369.2 661.2 L1366.5 661.2 L1366.5 663.2 L1363.8 663.2 L1363.8 665.5 L1361.1 665.5 L1361.1 662.8 L1358.4 662.8 L1358.4 663.3 L1355.7 663.3 L1355.7 661.6 L1353.0 661.6 L1353.0 662.6 L1350.3 662.6 L1350.3 668.3 L1347.6 668.3 L1347.6 660.4 L1344.9 660.4 L1344.9 660.4 L1342.2 660.4 L1342.2 663.5 L1339.5 663.5 L1339.5 663.2 L1336.8 663.2 L1336.8 663.7 L1334.1 663.7 L1334.1 660.8 L1331.4 660.8 L1331.4 662.4 L1328.7 662.4 L1328.7 664.1 L1326.0 664.1 L1326.0 662.2 L1323.3 662.2 L1323.3 660.0 L1320.6 660.0 L1320.6 659.0 L1317.9 659.0 L1317.9 660.5 L1315.2 660.5 L1315.2 659.0 L1312.5 659.0 L1312.5 663.4 L1309.8 663.4 L1309.8 660.7 L1307.1 660.7 L1307.1 659.3 L1304.4 659.3 L1304.4 659.5 L1301.7 659.5 L1301.7 662.0 L1299.0 662.0 L1299.0 658.7 L1296.3 658.7 L1296.3 666.7 L1293.6 666.7 L1293.6 659.4 L1290.9 659.4 L1290.9 658.5 L1288.2 658.5 L1288.2 656.7 L1285.5 656.7 L1285.5 658.3 L1282.8 658.3 L1282.8 661.5 L1280.1 661.5 L1280.1 658.1 L1277.4 658.1 L1277.4 662.4 L1274.7 662.4 L1274.7 659.2 L1272.0 659.2 L1272.0 656.3 L1269.3 656.3 L1269.3 661.8 L1266.6 661.8 L1266.6 655.0 L1263.9 655.0 L1263.9 658.5 L1261.2 658.5 L1261.2 656.2 L1258.5 656.2 L1258.5 660.3 L1255.8 660.3 L1255.8 655.8 L1253.1 655.8 L1253.1 658.6 L1250.4 658.6 L1250.4 657.9 L1247.7 657.9 L1247.7 660.5 L1245.0 660.5 L1245.0 658.1 L1242.3 658.1 L1242.3 660.6 L1239.6 660.6 L1239.6 654.3 L1236.9 654.3 L1236.9 654.7 L1234.2 654.7 L1234.2 662.6 L1231.5 662.6 L1231.5 658.6 L1228.8 658.6 L1228.8 653.9 L1226.1 653.9 L1226.1 653.3 L1223.4 653.3 L1223.4 655.9 L1220.7 655.9 L1220.7 655.2 L1218.0 655.2 L1218.0 658.8 L1215.3 658.8 L1215.3 656.7 L1212.6 656.7 L1212.6 658.4 L1209.9 658.4 L1209.9 654.4 L1207.2 654.4 L1207.2 667.0 L1204.5 667.0 L1204.5 660.0 L1201.8 660.0 L1201.8 668.2 L1199.1 668.2 L1199.1 663.3 L1196.4 663.3 L1196.4 658.0 L1193.7 658.0 L1193.7 659.8 L1191.0 659.8 L1191.0 658.7 L1188.3 658.7 L1188.3 659.6 L1185.6 659.6 L1185.6 659.4 L1182.9 659.4 L1182.9 658.4 L1180.2 658.4 L1180.2 660.5 L1177.5 660.5 L1177.5 656.6 L1174.8 656.6 L1174.8 659.7 L1172.1 659.7 L1172.1 657.1 L1169.4 657.1 L1169.4 657.9 L1166.7 657.9 L1166.7 656.7 L1164.0 656.7 L1164.0 662.7 L1161.3 662.7 L1161.3 656.1 L1158.6 656.1 L1158.6 657.6 L1155.9 657.6 L1155.9 661.7 L1153.2 661.7 L1153.2 657.2 L1150.5 657.2 L1150.5 660.1 L1147.8 660.1 L1147.8 662.2 L1145.1 662.2 L1145.1 657.4 L1142.4 657.4 L1142.4 654.3 L1139.7 654.3 L1139.7 659.8 L1137.0 659.8 L1137.0 658.5 L1134.3 658.5 L1134.3 659.8 L1131.6 659.8 L1131.6 657.4 L1128.9 657.4 L1128.9 657.3 L1126.2 657.3 L1126.2 663.7 L1123.5 663.7 L1123.5 657.3 L1120.8 657.3 L1120.8 659.1 L1118.1 659.1 L1118.1 661.0 L1115.4 661.0 L1115.4 655.2 L1112.7 655.2 L1112.7 661.2 L1110.0 661.2 L1110.0 656.6 L1107.3 656.6 L1107.3 658.5 L1104.6 658.5 L1104.6 655.7 L1101.9 655.7 L1101.9 658.1 L1099.2 658.1 L1099.2 659.2 L1096.5 659.2 L1096.5 661.2 L1093.8 661.2 L1093.8 661.4 L1091.1 661.4 L1091.1 657.0 L1088.4 657.0 L1088.4 658.5 L1085.7 658.5 L1085.7 656.9 L1083.0 656.9 L1083.0 658.8 L1080.3 658.8 L1080.3 661.1 L1077.6 661.1 L1077.6 664.0 L1074.9 664.0 L1074.9 662.4 L1072.2 662.4 L1072.2 662.4 L1069.5 662.4 L1069.5 662.0 L1066.8 662.0 L1066.8 658.0 L1064.1 658.0 L1064.1 657.8 L1061.4 657.8 L1061.4 663.8 L1058.7 663.8 L1058.7 660.1 L1056.0 660.1 L1056.0 663.0 L1053.3 663.0 L1053.3 657.0 L1050.6 657.0 L1050.6 656.9 L1047.9 656.9 L1047.9 656.9 L1045.2 656.9 L1045.2 659.8 L1042.5 659.8 L1042.5 659.4 L1039.8 659.4 L1039.8 667.8 L1037.1 667.8 L1037.1 661.7 L1034.4 661.7 L1034.4 660.4 L1031.7 660.4 L1031.7 662.3 L1029.0 662.3 L1029.0 660.6 L1026.3 660.6 L1026.3 663.3 L1023.6 663.3 L1023.6 661.2 L1020.9 661.2 L1020.9 659.7 L1018.2 659.7 L1018.2 661.3 L1015.5 661.3 L1015.5 660.3 L1012.8 660.3 L1012.8 663.9 L1010.1 663.9 L1010.1 659.0 L1007.4 659.0 L1007.4 661.6 L1004.7 661.6 L1004.7 661.0 L1002.0 661.0 L1002.0 659.1 L999.3 659.1 L999.3 657.9 L996.6 657.9 L996.6 661.6 L993.9 661.6 L993.9 661.4 L991.2 661.4 L991.2 663.4 L988.5 663.4 L988.5 664.3 L985.8 664.3 L985.8 664.9 L983.1 664.9 L983.1 663.2 L980.4 663.2 L980.4 664.1 L977.7 664.1 L977.7 663.6 L975.0 663.6 L975.0 663.2 L972.3 663.2 L972.3 663.6 L969.6 663.6 L969.6 662.2 L966.9 662.2 L966.9 662.0 L964.2 662.0 L964.2 661.5 L961.5 661.5 L961.5 664.3 L958.8 664.3 L958.8 663.8 L956.1 663.8 L956.1 664.2 L953.4 664.2 L953.4 664.8 L950.7 664.8 L950.7 662.7 L948.0 662.7 L948.0 662.8 L945.3 662.8 L945.3 666.7 L942.6 666.7 L942.6 659.1 L939.9 659.1 L939.9 661.1 L937.2 661.1 L937.2 664.6 L934.5 664.6 L934.5 663.4 L931.8 663.4 L931.8 662.7 L929.1 662.7 L929.1 664.1 L926.4 664.1 L926.4 663.0 L923.7 663.0 L923.7 663.9 L921.0 663.9 L921.0 662.1 L918.3 662.1 L918.3 660.6 L915.6 660.6 L915.6 662.9 L912.9 662.9 L912.9 665.3 L910.2 665.3 L910.2 663.2 L907.5 663.2 L907.5 668.7 L904.8 668.7 L904.8 664.4 L902.1 664.4 L902.1 665.1 L899.4 665.1 L899.4 669.4 L896.7 669.4 L896.7 662.3 L894.0 662.3 L894.0 664.5 L891.3 664.5 L891.3 666.8 L888.6 666.8 L888.6 663.8 L885.9 663.8 L885.9 666.0 L883.2 666.0 L883.2 666.0 L880.5 666.0 L880.5 663.5 L877.8 663.5 L877.8 661.6 L875.1 661.6 L875.1 663.6 L872.4 663.6 L872.4 666.2 L869.7 666.2 L869.7 668.4 L867.0 668.4 L867.0 669.4 L864.3 669.4 L864.3 664.0 L861.6 664.0 L861.6 663.6 L858.9 663.6 L858.9 663.5 L856.2 663.5 L856.2 665.1 L853.5 665.1 L853.5 665.3 L850.8 665.3 L850.8 664.9 L848.1 664.9 L848.1 663.7 L845.4 663.7 L845.4 663.2 L842.7 663.2 L842.7 665.1 L840.0 665.1 L840.0 664.4 L837.3 664.4 L837.3 660.4 L834.6 660.4 L834.6 667.8 L831.9 667.8 L831.9 662.0 L829.2 662.0 L829.2 665.0 L826.5 665.0 L826.5 665.6 L823.8 665.6 L823.8 661.7 L821.1 661.7 L821.1 662.7 L818.4 662.7 L818.4 661.2 L815.7 661.2 L815.7 662.4 L813.0 662.4 L813.0 661.9 L810.3 661.9 L810.3 661.3 L807.6 661.3 L807.6 660.7 L804.9 660.7 L804.9 663.6 L802.2 663.6 L802.2 660.5 L799.5 660.5 L799.5 662.2 L796.8 662.2 L796.8 662.5 L794.1 662.5 L794.1 665.6 L791.4 665.6 L791.4 662.8 L788.7 662.8 L788.7 661.4 L786.0 661.4 L786.0 661.2 L783.3 661.2 L783.3 660.9 L780.6 660.9 L780.6 664.7 L777.9 664.7 L777.9 660.3 L775.2 660.3 L775.2 658.1 L772.5 658.1 L772.5 658.1 L769.8 658.1 L769.8 660.6 L767.1 660.6 L767.1 663.7 L764.4 663.7 L764.4 660.3 L761.7 660.3 L761.7 658.8 L759.0 658.8 L759.0 659.4 L756.3 659.4 L756.3 660.9 L753.6 660.9 L753.6 660.5 L750.9 660.5 L750.9 662.7 L748.2 662.7 L748.2 661.4 L745.5 661.4 L745.5 663.9 L742.8 663.9 L742.8 661.7 L740.1 661.7 L740.1 659.0 L737.4 659.0 L737.4 656.6 L734.7 656.6 L734.7 656.8 L732.0 656.8 L732.0 655.1 L729.3 655.1 L729.3 656.3 L726.6 656.3 L726.6 658.6 L723.9 658.6 L723.9 659.8 L721.2 659.8 L721.2 661.8 L718.5 661.8 L718.5 657.6 L715.8 657.6 L715.8 659.0 L713.1 659.0 L713.1 653.9 L710.4 653.9 L710.4 657.1 L707.7 657.1 L707.7 653.9 L705.0 653.9 L705.0 652.8 L702.3 652.8 L702.3 653.4 L699.6 653.4 L699.6 651.4 L696.9 651.4 L696.9 647.9 L694.2 647.9 L694.2 649.8 L691.5 649.8 L691.5 650.4 L688.8 650.4 L688.8 653.1 L686.1 653.1 L686.1 650.2 L683.4 650.2 L683.4 653.7 L680.7 653.7 L680.7 653.9 L678.0 653.9 L678.0 647.3 L675.3 647.3 L675.3 647.7 L672.6 647.7 L672.6 646.0 L669.9 646.0 L669.9 645.9 L667.2 645.9 L667.2 647.4 L664.5 647.4 L664.5 649.4 L661.8 649.4 L661.8 650.0 L659.1 650.0 L659.1 647.9 L656.4 647.9 L656.4 643.8 L653.7 643.8 L653.7 648.4 L651.0 648.4 L651.0 641.7 L648.3 641.7 L648.3 646.1 L645.6 646.1 L645.6 645.6 L642.9 645.6 L642.9 645.8 L640.2 645.8 L640.2 644.7 L637.5 644.7 L637.5 644.1 L634.8 644.1 L634.8 641.1 L632.1 641.1 L632.1 648.9 L629.4 648.9 L629.4 641.5 L626.7 641.5 L626.7 641.3 L624.0 641.3 L624.0 645.6 L621.3 645.6 L621.3 643.4 L618.6 643.4 L618.6 641.5 L615.9 641.5 L615.9 641.9 L613.2 641.9 L613.2 646.0 L610.5 646.0 L610.5 639.1 L607.8 639.1 L607.8 637.6 L605.1 637.6 L605.1 641.4 L602.4 641.4 L602.4 654.2 L599.7 654.2 L599.7 642.3 L597.0 642.3 L597.0 638.0 L594.3 638.0 L594.3 640.3 L591.6 640.3 L591.6 658.1 L588.9 658.1 L588.9 638.7 L586.2 638.7 L586.2 642.3 L583.5 642.3 L583.5 644.0 L580.8 644.0 L580.8 641.3 L578.1 641.3 L578.1 644.2 L575.4 644.2 L575.4 641.2 L572.7 641.2 L572.7 640.0 L570.0 640.0 L570.0 639.3 L567.3 639.3 L567.3 636.0 L564.6 636.0 L564.6 635.3 L561.9 635.3 L561.9 631.7 L559.2 631.7 L559.2 637.5 L556.5 637.5 L556.5 637.6 L553.8 637.6 L553.8 640.8 L551.1 640.8 L551.1 642.2 L548.4 642.2 L548.4 640.4 L545.7 640.4 L545.7 638.9 L543.0 638.9 L543.0 640.3 L540.3 640.3 L540.3 642.7 L537.6 642.7 L537.6 646.2 L534.9 646.2 L534.9 642.3 L532.2 642.3 L532.2 646.7 L529.5 646.7 L529.5 644.5 L526.8 644.5 L526.8 643.3 L524.1 643.3 L524.1 640.8 L521.4 640.8 L521.4 639.0 L518.7 639.0 L518.7 639.6 L516.0 639.6 L516.0 641.0 L513.3 641.0 L513.3 644.9 L510.6 644.9 L510.6 635.4 L507.9 635.4 L507.9 640.1 L505.2 640.1 L505.2 635.9 L502.5 635.9 L502.5 632.9 L499.8 632.9 L499.8 636.6 L497.1 636.6 L497.1 629.8 L494.4 629.8 L494.4 634.7 L491.7 634.7 L491.7 629.4 L489.0 629.4 L489.0 629.4 L486.3 629.4 L486.3 640.1 L483.6 640.1 L483.6 628.4 L480.9 628.4 L480.9 620.7 L478.2 620.7 L478.2 624.9 L475.5 624.9 L475.5 631.0 L472.8 631.0 L472.8 626.6 L470.1 626.6 L470.1 624.4 L467.4 624.4 L467.4 628.7 L464.7 628.7 L464.7 629.4 L462.0 629.4 L462.0 620.2 L459.3 620.2 L459.3 623.1 L456.6 623.1 L456.6 623.5 L453.9 623.5 L453.9 620.4 L451.2 620.4 L451.2 620.5 L448.5 620.5 L448.5 615.4 L445.8 615.4 L445.8 614.0 L443.1 614.0 L443.1 620.0 L440.4 620.0 L440.4 619.9 L437.7 619.9 L437.7 620.5 L435.0 620.5 L435.0 616.8 L432.3 616.8 L432.3 620.9 L429.6 620.9 L429.6 620.9 L426.9 620.9 L426.9 622.1 L424.2 622.1 L424.2 618.0 L421.5 618.0 L421.5 608.4 L418.8 608.4 L418.8 610.5 L416.1 610.5 L416.1 618.6 L413.4 618.6 L413.4 610.5 L410.7 610.5 L410.7 604.8 L408.0 604.8 L408.0 614.2 L405.3 614.2 L405.3 601.1 L402.6 601.1 L402.6 608.5 L399.9 608.5 L399.9 603.1 L397.2 603.1 L397.2 602.5 L394.5 602.5 L394.5 597.3 L391.8 597.3 L391.8 599.0 L389.1 599.0 L389.1 606.4 L386.4 606.4 L386.4 599.7 L383.7 599.7 L383.7 600.8 L381.0 600.8 L381.0 597.4 L378.3 597.4 L378.3 596.8 L375.6 596.8 L375.6 597.5 L372.9 597.5 L372.9 596.9 L370.2 596.9 L370.2 611.2 L367.5 611.2 L367.5 599.8 L364.8 599.8 L364.8 590.6 L362.1 590.6 L362.1 597.5 L359.4 597.5 L359.4 586.4 L356.7 586.4 L356.7 590.9 L354.0 590.9 L354.0 589.2 L351.3 589.2 L351.3 593.9 L348.6 593.9 L348.6 583.1 L345.9 583.1 L345.9 593.8 L343.2 593.8 L343.2 591.3 L340.5 591.3 L340.5 597.1 L337.8 597.1 L337.8 587.2 L335.1 587.2 L335.1 586.0 L332.4 586.0 L332.4 594.1 L329.7 594.1 L329.7 593.0 L327.0 593.0 L327.0 586.0 L324.3 586.0 L324.3 585.2 L321.6 585.2 L321.6 586.3 L318.9 586.3 L318.9 590.3 L316.2 590.3 L316.2 590.1 L313.5 590.1 L313.5 586.0 L310.8 586.0 L310.8 586.4 L308.1 586.4 L308.1 582.6 L305.4 582.6 L305.4 589.9 L302.7 589.9 L302.7 588.0 L300.0 588.0 L300.0 587.9 L297.3 587.9 L297.3 588.7 L294.6 588.7 L294.6 587.6 L291.9 587.6 L291.9 588.4 L289.2 588.4 L289.2 590.9 L286.5 590.9 L286.5 589.9 L283.8 589.9 L283.8 596.6 L281.1 596.6 L281.1 591.1 L278.4 591.1 L278.4 593.8 L275.7 593.8 L275.7 601.6 L273.0 601.6 L273.0 601.7 L270.3 601.7 L270.3 595.4 L267.6 595.4 L267.6 594.4 L264.9 594.4 L264.9 602.1 L262.2 602.1 L262.2 615.9 L259.5 615.9 L259.5 601.6 L256.8 601.6 L256.8 602.8 L254.1 602.8 L254.1 605.7 L251.4 605.7 L251.4 604.7 L248.7 604.7 L248.7 604.0 L246.0 604.0 L246.0 607.1 L243.3 607.1 L243.3 601.9 L240.6 601.9 L240.6 604.7 L237.9 604.7 L237.9 602.2 L235.2 602.2 L235.2 608.4 L232.5 608.4 L232.5 605.7 L229.8 605.7 L229.8 604.9 L227.1 604.9 L227.1 607.3 L224.4 607.3 L224.4 606.9 L221.7 606.9 L221.7 612.2 L219.0 612.2 L219.0 608.5 L216.3 608.5 L216.3 610.6 L213.6 610.6 L213.6 608.4 L210.9 608.4 L210.9 607.9 L208.2 607.9 L208.2 614.5 L205.5 614.5 L205.5 612.4 L202.8 612.4 L202.8 615.1 L200.1 615.1 L200.1 613.9 L197.4 613.9 L197.4 618.9 L194.7 618.9 L194.7 612.8 L192.0 612.8 L192.0 626.0 L189.3 626.0 L189.3 610.4 L186.6 610.4 L186.6 621.3 L183.9 621.3 L183.9 621.6 L181.2 621.6 L181.2 615.6 L178.5 615.6 L178.5 624.4 L175.8 624.4 L175.8 619.3 L173.1 619.3 L173.1 623.8 L170.4 623.8 L170.4 617.3 L167.7 617.3 L167.7 620.6 L165.0 620.6Z"/>
<path fill="#00ffff" d="M165.0 786.9 L167.7 786.9 L167.7 788.9 L170.4 788.9 L170.4 781.9 L173.1 781.9 L173.1 783.8 L175.8 783.8 L175.8 780.7 L178.5 780.7 L178.5 777.1 L181.2 777.1 L181.2 771.3 L183.9 771.3 L183.9 779.6 L186.6 779.6 L186.6 766.4 L189.3 766.4 L189.3 772.8 L192.0 772.8 L192.0 776.3 L194.7 776.3 L194.7 778.6 L197.4 778.6 L197.4 770.3 L200.1 770.3 L200.1 762.5 L202.8 762.5 L202.8 764.4 L205.5 764.4 L205.5 757.9 L208.2 757.9 L208.2 755.9 L210.9 755.9 L210.9 757.0 L213.6 757.0 L213.6 764.7 L216.3 764.7 L216.3 750.6 L219.0 750.6 L219.0 754.9 L221.7 754.9 L221.7 756.1 L224.4 756.1 L224.4 741.5 L227.1 741.5 L227.1 746.3 L229.8 746.3 L229.8 748.9 L232.5 748.9 L232.5 746.9 L235.2 746.9 L235.2 751.0 L237.9 751.0 L237.9 744.2 L240.6 744.2 L240.6 739.5 L243.3 739.5 L243.3 750.9 L246.0 750.9 L246.0 742.1 L248.7 742.1 L248.7 734.2 L251.4 734.2 L251.4 741.0 L254.1 741.0 L254.1 735.0 L256.8 735.0 L256.8 748.9 L259.5 748.9 L259.5 728.7 L262.2 728.7 L262.2 738.1 L264.9 738.1 L264.9 734.2 L267.6 734.2 L267.6 746.1 L270.3 746.1 L270.3 742.4 L273.0 742.4 L273.0 734.4 L275.7 734.4 L275.7 740.8 L278.4 740.8 L278.4 741.2 L281.1 741.2 L281.1 735.4 L283.8 735.4 L283.8 729.1 L286.5 729.1 L286.5 730.2 L289.2 730.2 L289.2 737.0 L291.9 737.0 L291.9 735.4 L294.6 735.4 L294.6 733.4 L297.3 733.4 L297.3 730.9 L300.0 730.9 L300.0 732.1 L302.7 732.1 L302.7 730.6 L305.4 730.6 L305.4 727.3 L308.1 727.3 L308.1 727.7 L310.8 727.7 L310.8 725.7 L313.5 725.7 L313.5 722.9 L316.2 722.9 L316.2 729.4 L318.9 729.4 L318.9 724.5 L321.6 724.5 L321.6 728.8 L324.3 728.8 L324.3 728.1 L327.0 728.1 L327.0 728.6 L329.7 728.6 L329.7 726.8 L332.4 726.8 L332.4 723.5 L335.1 723.5 L335.1 726.7 L337.8 726.7 L337.8 737.7 L340.5 737.7 L340.5 728.9 L343.2 728.9 L343.2 731.9 L345.9 731.9 L345.9 728.1 L348.6 728.1 L348.6 731.5 L351.3 731.5 L351.3 717.7 L354.0 717.7 L354.0 738.5 L356.7 738.5 L356.7 734.5 L359.4 734.5 L359.4 736.9 L362.1 736.9 L362.1 733.4 L364.8 733.4 L364.8 730.8 L367.5 730.8 L367.5 727.5 L370.2 727.5 L370.2 737.8 L372.9 737.8 L372.9 730.9 L375.6 730.9 L375.6 737.5 L378.3 737.5 L378.3 722.5 L381.0 722.5 L381.0 729.3 L383.7 729.3 L383.7 740.6 L386.4 740.6 L386.4 725.6 L389.1 725.6 L389.1 739.1 L391.8 739.1 L391.8 739.6 L394.5 739.6 L394.5 741.7 L397.2 741.7 L397.2 743.2 L399.9 743.2 L399.9 739.9 L402.6 739.9 L402.6 747.3 L405.3 747.3 L405.3 745.7 L408.0 745.7 L408.0 748.2 L410.7 748.2 L410.7 741.6 L413.4 741.6 L413.4 743.9 L416.1 743.9 L416.1 740.4 L418.8 740.4 L418.8 753.4 L421.5 753.4 L421.5 750.9 L424.2 750.9 L424.2 757.2 L426.9 757.2 L426.9 756.5 L429.6 756.5 L429.6 761.3 L432.3 761.3 L432.3 757.0 L435.0 757.0 L435.0 758.0 L437.7 758.0 L437.7 761.0 L440.4 761.0 L440.4 762.4 L443.1 762.4 L443.1 759.2 L445.8 759.2 L445.8 760.2 L448.5 760.2 L448.5 755.5 L451.2 755.5 L451.2 757.5 L453.9 757.5 L453.9 758.9 L456.6 758.9 L456.6 765.3 L459.3 765.3 L459.3 760.0 L462.0 760.0 L462.0 768.1 L464.7 768.1 L464.7 762.7 L467.4 762.7 L467.4 765.7 L470.1 765.7 L470.1 774.5 L472.8 774.5 L472.8 763.7 L475.5 763.7 L475.5 764.8 L478.2 764.8 L478.2 764.6 L480.9 764.6 L480.9 762.9 L483.6 762.9 L483.6 764.8 L486.3 764.8 L486.3 776.3 L489.0 776.3 L489.0 773.8 L491.7 773.8 L491.7 774.5 L494.4 774.5 L494.4 776.3 L497.1 776.3 L497.1 772.9 L499.8 772.9 L499.8 771.3 L502.5 771.3 L502.5 775.4 L505.2 775.4 L505.2 775.2 L507.9 775.2 L507.9 778.1 L510.6 778.1 L510.6 782.6 L513.3 782.6 L513.3 779.2 L516.0 779.2 L516.0 783.8 L518.7 783.8 L518.7 780.5 L521.4 780.5 L521.4 773.9 L524.1 773.9 L524.1 779.8 L526.8 779.8 L526.8 784.7 L529.5 784.7 L529.5 790.4 L532.2 790.4 L532.2 783.2 L534.9 783.2 L534.9 790.8 L537.6 790.8 L537.6 791.8 L540.3 791.8 L540.3 791.0 L543.0 791.0 L543.0 788.2 L545.7 788.2 L545.7 782.4 L548.4 782.4 L548.4 792.9 L551.1 792.9 L551.1 790.9 L553.8 790.9 L553.8 793.5 L556.5 793.5 L556.5 795.3 L559.2 795.3 L559.2 786.4 L561.9 786.4 L561.9 797.9 L564.6 797.9 L564.6 797.8 L567.3 797.8 L567.3 792.0 L570.0 792.0 L570.0 786.1 L572.7 786.1 L572.7 790.5 L575.4 790.5 L575.4 795.9 L578.1 795.9 L578.1 794.3 L580.8 794.3 L580.8 795.9 L583.5 795.9 L583.5 800.5 L586.2 800.5 L586.2 789.3 L588.9 789.3 L588.9 800.3 L591.6 800.3 L591.6 801.0 L594.3 801.0 L594.3 792.7 L597.0 792.7 L597.0 798.5 L599.7 798.5 L599.7 803.3 L602.4 803.3 L602.4 799.4 L605.1 799.4 L605.1 801.6 L607.8 801.6 L607.8 794.5 L610.5 794.5 L610.5 803.2 L613.2 803.2 L613.2 802.7 L615.9 802.7 L615.9 805.7 L618.6 805.7 L618.6 803.7 L621.3 803.7 L621.3 799.3 L624.0 799.3 L624.0 806.2 L626.7 806.2 L626.7 801.1 L629.4 801.1 L629.4 808.3 L632.1 808.3 L632.1 802.4 L634.8 802.4 L634.8 808.9 L637.5 808.9 L637.5 808.1 L640.2 808.1 L640.2 811.1 L642.9 811.1 L642.9 815.1 L645.6 815.1 L645.6 810.7 L648.3 810.7 L648.3 803.1 L651.0 803.1 L651.0 809.8 L653.7 809.8 L653.7 809.3 L656.4 809.3 L656.4 813.7 L659.1 813.7 L659.1 815.7 L661.8 815.7 L661.8 811.4 L664.5 811.4 L664.5 811.2 L667.2 811.2 L667.2 814.1 L669.9 814.1 L669.9 810.4 L672.6 810.4 L672.6 820.3 L675.3 820.3 L675.3 814.3 L678.0 814.3 L678.0 817.7 L680.7 817.7 L680.7 815.3 L683.4 815.3 L683.4 818.4 L686.1 818.4 L686.1 813.6 L688.8 813.6 L688.8 816.3 L691.5 816.3 L691.5 809.7 L694.2 809.7 L694.2 814.7 L696.9 814.7 L696.9 812.2 L699.6 812.2 L699.6 813.2 L702.3 813.2 L702.3 815.7 L705.0 815.7 L705.0 821.4 L707.7 821.4 L707.7 825.6 L710.4 825.6 L710.4 817.8 L713.1 817.8 L713.1 827.6 L715.8 827.6 L715.8 819.7 L718.5 819.7 L718.5 824.3 L721.2 824.3 L721.2 823.3 L723.9 823.3 L723.9 826.1 L726.6 826.1 L726.6 826.0 L729.3 826.0 L729.3 830.4 L732.0 830.4 L732.0 829.3 L734.7 829.3 L734.7 826.8 L737.4 826.8 L737.4 826.6 L740.1 826.6 L740.1 832.1 L742.8 832.1 L742.8 826.7 L745.5 826.7 L745.5 824.0 L748.2 824.0 L748.2 825.6 L750.9 825.6 L750.9 827.7 L753.6 827.7 L753.6 825.4 L756.3 825.4 L756.3 829.1 L759.0 829.1 L759.0 835.5 L761.7 835.5 L761.7 828.1 L764.4 828.1 L764.4 834.9 L767.1 834.9 L767.1 841.1 L769.8 841.1 L769.8 841.9 L772.5 841.9 L772.5 837.2 L775.2 837.2 L775.2 839.8 L777.9 839.8 L777.9 842.6 L780.6 842.6 L780.6 841.5 L783.3 841.5 L783.3 838.0 L786.0 838.0 L786.0 837.8 L788.7 837.8 L788.7 843.7 L791.4 843.7 L791.4 838.0 L794.1 838.0 L794.1 840.1 L796.8 840.1 L796.8 844.2 L799.5 844.2 L799.5 841.5 L802.2 841.5 L802.2 840.9 L804.9 840.9 L804.9 840.6 L807.6 840.6 L807.6 839.7 L810.3 839.7 L810.3 842.1 L813.0 842.1 L813.0 838.3 L815.7 838.3 L815.7 847.4 L818.4 847.4 L818.4 839.2 L821.1 839.2 L821.1 837.2 L823.8 837.2 L823.8 837.7 L826.5 837.7 L826.5 837.0 L829.2 837.0 L829.2 840.1 L831.9 840.1 L831.9 841.0 L834.6 841.0 L834.6 841.6 L837.3 841.6 L837.3 842.7 L840.0 842.7 L840.0 846.0 L842.7 846.0 L842.7 845.2 L845.4 845.2 L845.4 846.7 L848.1 846.7 L848.1 843.4 L850.8 843.4 L850.8 841.2 L853.5 841.2 L853.5 845.6 L856.2 845.6 L856.2 839.9 L858.9 839.9 L858.9 844.3 L861.6 844.3 L861.6 840.3 L864.3 840.3 L864.3 848.1 L867.0 848.1 L867.0 841.5 L869.7 841.5 L869.7 843.4 L872.4 843.4 L872.4 842.0 L875.1 842.0 L875.1 843.9 L877.8 843.9 L877.8 841.6 L880.5 841.6 L880.5 843.3 L883.2 843.3 L883.2 846.5 L885.9 846.5 L885.9 840.2 L888.6 840.2 L888.6 845.3 L891.3 845.3 L891.3 844.1 L894.0 844.1 L894.0 841.9 L896.7 841.9 L896.7 843.2 L899.4 843.2 L899.4 843.2 L902.1 843.2 L902.1 841.2 L904.8 841.2 L904.8 843.8 L907.5 843.8 L907.5 841.3 L910.2 841.3 L910.2 844.8 L912.9 844.8 L912.9 845.2 L915.6 845.2 L915.6 847.1 L918.3 847.1 L918.3 841.8 L921.0 841.8 L921.0 846.0 L923.7 846.0 L923.7 843.9 L926.4 843.9 L926.4 846.2 L929.1 846.2 L929.1 844.8 L931.8 844.8 L931.8 840.4 L934.5 840.4 L934.5 843.1 L937.2 843.1 L937.2 838.9 L939.9 838.9 L939.9 841.3 L942.6 841.3 L942.6 840.1 L945.3 840.1 L945.3 841.3 L948.0 841.3 L948.0 845.2 L950.7 845.2 L950.7 845.6 L953.4 845.6 L953.4 837.0 L956.1 837.0 L956.1 841.0 L958.8 841.0 L958.8 843.4 L961.5 843.4 L961.5 839.0 L964.2 839.0 L964.2 838.2 L966.9 838.2 L966.9 840.7 L969.6 840.7 L969.6 835.5 L972.3 835.5 L972.3 840.6 L975.0 840.6 L975.0 837.8 L977.7 837.8 L977.7 838.5 L980.4 838.5 L980.4 840.8 L983.1 840.8 L983.1 838.9 L985.8 838.9 L985.8 837.4 L988.5 837.4 L988.5 839.9 L991.2 839.9 L991.2 839.3 L993.9 839.3 L993.9 843.4 L996.6 843.4 L996.6 838.7 L999.3 838.7 L999.3 843.1 L1002.0 843.1 L1002.0 837.8 L1004.7 837.8 L1004.7 839.2 L1007.4 839.2 L1007.4 838.2 L1010.1 838.2 L1010.1 835.2 L1012.8 835.2 L1012.8 836.1 L1015.5 836.1 L1015.5 839.3 L1018.2 839.3 L1018.2 837.3 L1020.9 837.3 L1020.9 833.7 L1023.6 833.7 L1023.6 839.0 L1026.3 839.0 L1026.3 836.1 L1029.0 836.1 L1029.0 837.9 L1031.7 837.9 L1031.7 836.6 L1034.4 836.6 L1034.4 833.3 L1037.1 833.3 L1037.1 835.0 L1039.8 835.0 L1039.8 829.0 L1042.5 829.0 L1042.5 836.3 L1045.2 836.3 L1045.2 834.9 L1047.9 834.9 L1047.9 827.7 L1050.6 827.7 L1050.6 825.2 L1053.3 825.2 L1053.3 827.7 L1056.0 827.7 L1056.0 831.2 L1058.7 831.2 L1058.7 829.7 L1061.4 829.7 L1061.4 828.7 L1064.1 828.7 L1064.1 835.1 L1066.8 835.1 L1066.8 823.3 L1069.5 823.3 L1069.5 823.7 L1072.2 823.7 L1072.2 813.7 L1074.9 813.7 L1074.9 826.3 L1077.6 826.3 L1077.6 825.8 L1080.3 825.8 L1080.3 837.0 L1083.0 837.0 L1083.0 834.0 L1085.7 834.0 L1085.7 829.6 L1088.4 829.6 L1088.4 831.4 L1091.1 831.4 L1091.1 826.7 L1093.8 826.7 L1093.8 814.4 L1096.5 814.4 L1096.5 833.0 L1099.2 833.0 L1099.2 831.7 L1101.9 831.7 L1101.9 827.9 L1104.6 827.9 L1104.6 823.1 L1107.3 823.1 L1107.3 815.4 L1110.0 815.4 L1110.0 827.0 L1112.7 827.0 L1112.7 830.8 L1115.4 830.8 L1115.4 834.6 L1118.1 834.6 L1118.1 836.4 L1120.8 836.4 L1120.8 831.1 L1123.5 831.1 L1123.5 830.3 L1126.2 830.3 L1126.2 830.7 L1128.9 830.7 L1128.9 833.0 L1131.6 833.0 L1131.6 827.4 L1134.3 827.4 L1134.3 824.1 L1137.0 824.1 L1137.0 827.9 L1139.7 827.9 L1139.7 830.9 L1142.4 830.9 L1142.4 833.7 L1145.1 833.7 L1145.1 831.8 L1147.8 831.8 L1147.8 838.3 L1150.5 838.3 L1150.5 828.0 L1153.2 828.0 L1153.2 831.3 L1155.9 831.3 L1155.9 828.1 L1158.6 828.1 L1158.6 836.5 L1161.3 836.5 L1161.3 831.3 L1164.0 831.3 L1164.0 835.8 L1166.7 835.8 L1166.7 833.1 L1169.4 833.1 L1169.4 829.5 L1172.1 829.5 L1172.1 827.7 L1174.8 827.7 L1174.8 830.6 L1177.5 830.6 L1177.5 827.1 L1180.2 827.1 L1180.2 826.2 L1182.9 826.2 L1182.9 836.2 L1185.6 836.2 L1185.6 829.2 L1188.3 829.2 L1188.3 835.4 L1191.0 835.4 L1191.0 832.4 L1193.7 832.4 L1193.7 832.4 L1196.4 832.4 L1196.4 836.0 L1199.1 836.0 L1199.1 835.4 L1201.8 835.4 L1201.8 832.7 L1204.5 832.7 L1204.5 837.8 L1207.2 837.8 L1207.2 835.9 L1209.9 835.9 L1209.9 831.9 L1212.6 831.9 L1212.6 831.3 L1215.3 831.3 L1215.3 833.6 L1218.0 833.6 L1218.0 836.1 L1220.7 836.1 L1220.7 833.9 L1223.4 833.9 L1223.4 831.5 L1226.1 831.5 L1226.1 832.0 L1228.8 832.0 L1228.8 830.4 L1231.5 830.4 L1231.5 834.7 L1234.2 834.7 L1234.2 834.8 L1236.9 834.8 L1236.9 834.4 L1239.6 834.4 L1239.6 832.6 L1242.3 832.6 L1242.3 836.5 L1245.0 836.5 L1245.0 835.5 L1247.7 835.5 L1247.7 838.1 L1250.4 838.1 L1250.4 835.7 L1253.1 835.7 L1253.1 834.9 L1255.8 834.9 L1255.8 835.3 L1258.5 835.3 L1258.5 835.7 L1261.2 835.7 L1261.2 835.2 L1263.9 835.2 L1263.9 836.2 L1266.6 836.2 L1266.6 834.6 L1269.3 834.6 L1269.3 833.2 L1272.0 833.2 L1272.0 826.3 L1274.7 826.3 L1274.7 838.9 L1277.4 838.9 L1277.4 836.8 L1280.1 836.8 L1280.1 832.9 L1282.8 832.9 L1282.8 832.5 L1285.5 832.5 L1285.5 837.2 L1288.2 837.2 L1288.2 838.5 L1290.9 838.5 L1290.9 839.9 L1293.6 839.9 L1293.6 836.9 L1296.3 836.9 L1296.3 838.1 L1299.0 838.1 L1299.0 839.3 L1301.7 839.3 L1301.7 836.9 L1304.4 836.9 L1304.4 842.3 L1307.1 842.3 L1307.1 832.0 L1309.8 832.0 L1309.8 837.2 L1312.5 837.2 L1312.5 837.3 L1315.2 837.3 L1315.2 838.2 L1317.9 838.2 L1317.9 839.2 L1320.6 839.2 L1320.6 840.8 L1323.3 840.8 L1323.3 844.3 L1326.0 844.3 L1326.0 839.7 L1328.7 839.7 L1328.7 840.6 L1331.4 840.6 L1331.4 845.1 L1334.1 845.1 L1334.1 843.8 L1336.8 843.8 L1336.8 843.9 L1339.5 843.9 L1339.5 842.4 L1342.2 842.4 L1342.2 841.3 L1344.9 841.3 L1344.9 841.2 L1347.6 841.2 L1347.6 840.2 L1350.3 840.2 L1350.3 840.2 L1353.0 840.2 L1353.0 843.5 L1355.7 843.5 L1355.7 841.5 L1358.4 841.5 L1358.4 845.1 L1361.1 845.1 L1361.1 843.1 L1363.8 843.1 L1363.8 844.9 L1366.5 844.9 L1366.5 840.9 L1369.2 840.9 L1369.2 844.7 L1371.9 844.7 L1371.9 842.0 L1374.6 842.0 L1374.6 845.9 L1377.3 845.9 L1377.3 843.0 L1380.0 843.0 L1380.0 845.6 L1382.7 845.6 L1382.7 844.2 L1385.4 844.2 L1385.4 843.4 L1388.1 843.4 L1388.1 849.5 L1390.8 849.5 L1390.8 841.4 L1393.5 841.4 L1393.5 840.1 L1396.2 840.1 L1396.2 847.6 L1398.9 847.6 L1398.9 846.3 L1401.6 846.3 L1401.6 846.9 L1404.3 846.9 L1404.3 848.7 L1407.0 848.7 L1407.0 842.2 L1409.7 842.2 L1409.7 843.7 L1412.4 843.7 L1412.4 845.1 L1415.1 845.1 L1415.1 840.0 L1417.8 840.0 L1417.8 844.9 L1420.5 844.9 L1420.5 851.5 L1423.2 851.5 L1423.2 849.2 L1425.9 849.2 L1425.9 848.6 L1428.6 848.6 L1428.6 846.2 L1431.3 846.2 L1431.3 849.1 L1434.0 849.1 L1434.0 845.6 L1436.7 845.6 L1436.7 845.9 L1439.4 845.9 L1439.4 853.0 L1442.1 853.0 L1442.1 844.2 L1444.8 844.2 L1444.8 844.7 L1447.5 844.7 L1447.5 846.2 L1450.2 846.2 L1450.2 846.6 L1452.9 846.6 L1452.9 849.2 L1455.6 849.2 L1455.6 849.3 L1458.3 849.3 L1458.3 851.1 L1461.0 851.1 L1461.0 850.9 L1463.7 850.9 L1463.7 849.8 L1466.4 849.8 L1466.4 846.1 L1469.1 846.1 L1469.1 845.2 L1471.8 845.2 L1471.8 849.4 L1474.5 849.4 L1474.5 844.1 L1477.2 844.1 L1477.2 845.7 L1479.9 845.7 L1479.9 852.6 L1482.6 852.6 L1482.6 849.4 L1485.3 849.4 L1485.3 839.8 L1488.0 839.8 L1488.0 847.1 L1490.7 847.1 L1490.7 845.9 L1493.4 845.9 L1493.4 844.3 L1496.1 844.3 L1496.1 839.6 L1498.8 839.6 L1498.8 843.6 L1501.5 843.6 L1501.5 846.9 L1504.2 846.9 L1504.2 852.5 L1506.9 852.5 L1506.9 853.5 L1509.6 853.5 L1509.6 852.9 L1512.3 852.9 L1512.3 851.0 L1515.0 851.0 L1515.0 848.1 L1517.7 848.1 L1517.7 850.6 L1520.4 850.6 L1520.4 850.8 L1523.1 850.8 L1523.1 854.0 L1525.8 854.0 L1525.8 855.4 L1528.5 855.4 L1528.5 852.4 L1531.2 852.4 L1531.2 854.5 L1533.9 854.5 L1533.9 851.2 L1536.6 851.2 L1536.6 853.1 L1539.3 853.1 L1539.3 844.6 L1542.0 844.6 L1542.0 852.4 L1544.7 852.4 L1544.7 851.0 L1547.4 851.0 L1547.4 851.1 L1550.1 851.1 L1550.1 853.3 L1552.8 853.3 L1552.8 853.0 L1555.5 853.0 L1555.5 853.4 L1558.2 853.4 L1558.2 847.0 L1560.9 847.0 L1560.9 853.1 L1563.6 853.1 L1563.6 855.0 L1566.3 855.0 L1566.3 852.1 L1569.0 852.1 L1569.0 854.3 L1571.7 854.3 L1571.7 852.8 L1574.4 852.8 L1574.4 850.3 L1577.1 850.3 L1577.1 852.2 L1579.8 852.2 L1579.8 852.8 L1582.5 852.8 L1582.5 856.5 L1585.2 856.5 L1585.2 852.1 L1587.9 852.1 L1587.9 848.5 L1590.6 848.5 L1590.6 854.3 L1593.3 854.3 L1593.3 852.5 L1596.0 852.5 L1596.0 857.2 L1598.7 857.2 L1598.7 852.8 L1601.4 852.8 L1601.4 856.0 L1604.1 856.0 L1604.1 857.0 L1606.8 857.0 L1606.8 850.4 L1609.5 850.4 L1609.5 852.7 L1612.2 852.7 L1612.2 857.7 L1614.9 857.7 L1614.9 858.1 L1617.6 858.1 L1617.6 860.0 L1620.3 860.0 L1620.3 855.0 L1623.0 855.0 L1623.0 857.2 L1625.7 857.2 L1625.7 856.7 L1628.4 856.7 L1628.4 858.2 L1631.1 858.2 L1631.1 856.9 L1633.8 856.9 L1633.8 855.7 L1636.5 855.7 L1636.5 856.3 L1639.2 856.3 L1639.2 857.2 L1641.9 857.2 L1641.9 850.9 L1644.6 850.9 L1644.6 855.4 L1647.3 855.4 L1647.3 856.8 L1650.0 856.8 L1650.0 860.4 L1652.7 860.4 L1652.7 856.6 L1655.4 856.6 L1655.4 855.4 L1658.1 855.4 L1658.1 857.2 L1660.8 857.2 L1660.8 860.3 L1663.5 860.3 L1663.5 857.9 L1666.2 857.9 L1666.2 853.5 L1668.9 853.5 L1668.9 853.6 L1671.6 853.6 L1671.6 859.3 L1674.3 859.3 L1674.3 854.9 L1677.0 854.9 L1677.0 857.3 L1679.7 857.3 L1679.7 851.6 L1682.4 851.6 L1682.4 855.6 L1685.1 855.6 L1685.1 855.4 L1687.8 855.4 L1687.8 857.7 L1690.5 857.7 L1690.5 859.5 L1693.2 859.5 L1693.2 856.5 L1695.9 856.5 L1695.9 858.1 L1698.6 858.1 L1698.6 860.0 L1701.3 860.0 L1701.3 857.3 L1704.0 857.3 L1704.0 858.0 L1706.7 858.0 L1706.7 853.2 L1709.4 853.2 L1709.4 858.3 L1712.1 858.3 L1712.1 856.5 L1714.8 856.5 L1714.8 857.2 L1717.5 857.2 L1717.5 860.0 L1720.2 860.0 L1720.2 858.3 L1722.9 858.3 L1722.9 850.5 L1725.6 850.5 L1725.6 857.0 L1728.3 857.0 L1728.3 860.3 L1731.0 860.3 L1731.0 856.7 L1733.7 856.7 L1733.7 859.0 L1736.4 859.0 L1736.4 861.8 L1738.0 861.8 L1738.0 879.5 L1736.4 879.5 L1736.4 879.6 L1733.7 879.6 L1733.7 877.5 L1731.0 877.5 L1731.0 876.8 L1728.3 876.8 L1728.3 878.7 L1725.6 878.7 L1725.6 878.6 L1722.9 878.6 L1722.9 882.6 L1720.2 882.6 L1720.2 877.2 L1717.5 877.2 L1717.5 884.8 L1714.8 884.8 L1714.8 879.0 L1712.1 879.0 L1712.1 880.9 L1709.4 880.9 L1709.4 881.1 L1706.7 881.1 L1706.7 880.4 L1704.0 880.4 L1704.0 878.8 L1701.3 878.8 L1701.3 878.3 L1698.6 878.3 L1698.6 879.8 L1695.9 879.8 L1695.9 878.8 L1693.2 878.8 L1693.2 883.3 L1690.5 883.3 L1690.5 882.0 L1687.8 882.0 L1687.8 879.7 L1685.1 879.7 L1685.1 880.0 L1682.4 880.0 L1682.4 877.7 L1679.7 877.7 L1679.7 879.7 L1677.0 879.7 L1677.0 883.0 L1674.3 883.0 L1674.3 876.1 L1671.6 876.1 L1671.6 882.2 L1668.9 882.2 L1668.9 878.8 L1666.2 878.8 L1666.2 877.3 L1663.5 877.3 L1663.5 880.3 L1660.8 880.3 L1660.8 876.3 L1658.1 876.3 L1658.1 878.8 L1655.4 878.8 L1655.4 878.5 L1652.7 878.5 L1652.7 879.1 L1650.0 879.1 L1650.0 884.4 L1647.3 884.4 L1647.3 876.5 L1644.6 876.5 L1644.6 879.8 L1641.9 879.8 L1641.9 878.2 L1639.2 878.2 L1639.2 881.7 L1636.5 881.7 L1636.5 882.9 L1633.8 882.9 L1633.8 882.6 L1631.1 882.6 L1631.1 882.5 L1628.4 882.5 L1628.4 880.1 L1625.7 880.1 L1625.7 882.0 L1623.0 882.0 L1623.0 874.5 L1620.3 874.5 L1620.3 877.0 L1617.6 877.0 L1617.6 879.7 L1614.9 879.7 L1614.9 880.1 L1612.2 880.1 L1612.2 880.3 L1609.5 880.3 L1609.5 879.7 L1606.8 879.7 L1606.8 877.9 L1604.1 877.9 L1604.1 876.5 L1601.4 876.5 L1601.4 882.5 L1598.7 882.5 L1598.7 875.1 L1596.0 875.1 L1596.0 879.4 L1593.3 879.4 L1593.3 877.3 L1590.6 877.3 L1590.6 873.3 L1587.9 873.3 L1587.9 876.6 L1585.2 876.6 L1585.2 882.3 L1582.5 882.3 L1582.5 877.2 L1579.8 877.2 L1579.8 879.8 L1577.1 879.8 L1577.1 876.1 L1574.4 876.1 L1574.4 876.6 L1571.7 876.6 L1571.7 881.6 L1569.0 881.6 L1569.0 879.1 L1566.3 879.1 L1566.3 875.7 L1563.6 875.7 L1563.6 878.1 L1560.9 878.1 L1560.9 882.1 L1558.2 882.1 L1558.2 875.8 L1555.5 875.8 L1555.5 874.5 L1552.8 874.5 L1552.8 875.6 L1550.1 875.6 L1550.1 874.7 L1547.4 874.7 L1547.4 878.4 L1544.7 878.4 L1544.7 875.7 L1542.0 875.7 L1542.0 880.2 L1539.3 880.2 L1539.3 875.3 L1536.6 875.3 L1536.6 877.5 L1533.9 877.5 L1533.9 875.1 L1531.2 875.1 L1531.2 877.9 L1528.5 877.9 L1528.5 874.2 L1525.8 874.2 L1525.8 873.7 L1523.1 873.7 L1523.1 875.9 L1520.4 875.9 L1520.4 877.2 L1517.7 877.2 L1517.7 880.3 L1515.0 880.3 L1515.0 874.5 L1512.3 874.5 L1512.3 872.3 L1509.6 872.3 L1509.6 875.2 L1506.9 875.2 L1506.9 883.7 L1504.2 883.7 L1504.2 872.1 L1501.5 872.1 L1501.5 870.7 L1498.8 870.7 L1498.8 876.5 L1496.1 876.5 L1496.1 876.8 L1493.4 876.8 L1493.4 870.3 L1490.7 870.3 L1490.7 873.4 L1488.0 873.4 L1488.0 872.6 L1485.3 872.6 L1485.3 873.5 L1482.6 873.5 L1482.6 870.6 L1479.9 870.6 L1479.9 875.3 L1477.2 875.3 L1477.2 878.9 L1474.5 878.9 L1474.5 868.4 L1471.8 868.4 L1471.8 873.1 L1469.1 873.1 L1469.1 881.6 L1466.4 881.6 L1466.4 876.1 L1463.7 876.1 L1463.7 873.5 L1461.0 873.5 L1461.0 873.4 L1458.3 873.4 L1458.3 875.1 L1455.6 875.1 L1455.6 872.6 L1452.9 872.6 L1452.9 873.2 L1450.2 873.2 L1450.2 874.7 L1447.5 874.7 L1447.5 871.5 L1444.8 871.5 L1444.8 882.1 L1442.1 882.1 L1442.1 872.1 L1439.4 872.1 L1439.4 876.8 L1436.7 876.8 L1436.7 877.9 L1434.0 877.9 L1434.0 874.2 L1431.3 874.2 L1431.3 874.4 L1428.6 874.4 L1428.6 872.7 L1425.9 872.7 L1425.9 870.0 L1423.2 870.0 L1423.2 871.0 L1420.5 871.0 L1420.5 877.2 L1417.8 877.2 L1417.8 871.5 L1415.1 871.5 L1415.1 866.7 L1412.4 866.7 L1412.4 876.6 L1409.7 876.6 L1409.7 874.5 L1407.0 874.5 L1407.0 871.4 L1404.3 871.4 L1404.3 869.3 L1401.6 869.3 L1401.6 869.2 L1398.9 869.2 L1398.9 868.9 L1396.2 868.9 L1396.2 876.1 L1393.5 876.1 L1393.5 869.7 L1390.8 869.7 L1390.8 867.4 L1388.1 867.4 L1388.1 870.0 L1385.4 870.0 L1385.4 866.4 L1382.7 866.4 L1382.7 867.1 L1380.0 867.1 L1380.0 865.8 L1377.3 865.8 L1377.3 869.4 L1374.6 869.4 L1374.6 870.0 L1371.9 870.0 L1371.9 868.1 L1369.2 868.1 L1369.2 869.0 L1366.5 869.0 L1366.5 865.9 L1363.8 865.9 L1363.8 867.1 L1361.1 867.1 L1361.1 863.7 L1358.4 863.7 L1358.4 870.8 L1355.7 870.8 L1355.7 866.7 L1353.0 866.7 L1353.0 862.9 L1350.3 862.9 L1350.3 865.7 L1347.6 865.7 L1347.6 866.3 L1344.9 866.3 L1344.9 866.3 L1342.2 866.3 L1342.2 869.5 L1339.5 869.5 L1339.5 869.5 L1336.8 869.5 L1336.8 864.7 L1334.1 864.7 L1334.1 867.1 L1331.4 867.1 L1331.4 866.2 L1328.7 866.2 L1328.7 864.3 L1326.0 864.3 L1326.0 869.6 L1323.3 869.6 L1323.3 867.5 L1320.6 867.5 L1320.6 864.8 L1317.9 864.8 L1317.9 860.8 L1315.2 860.8 L1315.2 863.2 L1312.5 863.2 L1312.5 862.8 L1309.8 862.8 L1309.8 862.1 L1307.1 862.1 L1307.1 871.9 L1304.4 871.9 L1304.4 871.0 L1301.7 871.0 L1301.7 870.6 L1299.0 870.6 L1299.0 866.2 L1296.3 866.2 L1296.3 863.9 L1293.6 863.9 L1293.6 865.4 L1290.9 865.4 L1290.9 866.5 L1288.2 866.5 L1288.2 868.8 L1285.5 868.8 L1285.5 868.2 L1282.8 868.2 L1282.8 862.7 L1280.1 862.7 L1280.1 864.7 L1277.4 864.7 L1277.4 865.3 L1274.7 865.3 L1274.7 876.0 L1272.0 876.0 L1272.0 859.4 L1269.3 859.4 L1269.3 876.5 L1266.6 876.5 L1266.6 865.6 L1263.9 865.6 L1263.9 870.7 L1261.2 870.7 L1261.2 866.9 L1258.5 866.9 L1258.5 868.0 L1255.8 868.0 L1255.8 860.6 L1253.1 860.6 L1253.1 860.3 L1250.4 860.3 L1250.4 867.5 L1247.7 867.5 L1247.7 865.5 L1245.0 865.5 L1245.0 869.1 L1242.3 869.1 L1242.3 862.4 L1239.6 862.4 L1239.6 863.9 L1236.9 863.9 L1236.9 861.7 L1234.2 861.7 L1234.2 865.3 L1231.5 865.3 L1231.5 857.0 L1228.8 857.0 L1228.8 855.6 L1226.1 855.6 L1226.1 859.3 L1223.4 859.3 L1223.4 862.5 L1220.7 862.5 L1220.7 862.5 L1218.0 862.5 L1218.0 865.8 L1215.3 865.8 L1215.3 859.6 L1212.6 859.6 L1212.6 862.2 L1209.9 862.2 L1209.9 862.0 L1207.2 862.0 L1207.2 853.8 L1204.5 853.8 L1204.5 856.4 L1201.8 856.4 L1201.8 860.8 L1199.1 860.8 L1199.1 855.7 L1196.4 855.7 L1196.4 858.4 L1193.7 858.4 L1193.7 855.7 L1191.0 855.7 L1191.0 855.8 L1188.3 855.8 L1188.3 860.5 L1185.6 860.5 L1185.6 857.6 L1182.9 857.6 L1182.9 859.2 L1180.2 859.2 L1180.2 861.0 L1177.5 861.0 L1177.5 857.3 L1174.8 857.3 L1174.8 857.5 L1172.1 857.5 L1172.1 855.0 L1169.4 855.0 L1169.4 854.5 L1166.7 854.5 L1166.7 859.6 L1164.0 859.6 L1164.0 860.7 L1161.3 860.7 L1161.3 858.2 L1158.6 858.2 L1158.6 860.4 L1155.9 860.4 L1155.9 861.1 L1153.2 861.1 L1153.2 861.1 L1150.5 861.1 L1150.5 861.5 L1147.8 861.5 L1147.8 859.7 L1145.1 859.7 L1145.1 858.7 L1142.4 858.7 L1142.4 854.5 L1139.7 854.5 L1139.7 863.0 L1137.0 863.0 L1137.0 865.9 L1134.3 865.9 L1134.3 858.7 L1131.6 858.7 L1131.6 860.7 L1128.9 860.7 L1128.9 860.2 L1126.2 860.2 L1126.2 862.2 L1123.5 862.2 L1123.5 867.5 L1120.8 867.5 L1120.8 864.1 L1118.1 864.1 L1118.1 864.3 L1115.4 864.3 L1115.4 866.5 L1112.7 866.5 L1112.7 868.6 L1110.0 868.6 L1110.0 866.0 L1107.3 866.0 L1107.3 861.5 L1104.6 861.5 L1104.6 863.9 L1101.9 863.9 L1101.9 867.9 L1099.2 867.9 L1099.2 874.6 L1096.5 874.6 L1096.5 861.7 L1093.8 861.7 L1093.8 861.1 L1091.1 861.1 L1091.1 863.1 L1088.4 863.1 L1088.4 865.6 L1085.7 865.6 L1085.7 862.7 L1083.0 862.7 L1083.0 861.0 L1080.3 861.0 L1080.3 863.8 L1077.6 863.8 L1077.6 872.1 L1074.9 872.1 L1074.9 865.2 L1072.2 865.2 L1072.2 856.3 L1069.5 856.3 L1069.5 864.9 L1066.8 864.9 L1066.8 870.2 L1064.1 870.2 L1064.1 867.8 L1061.4 867.8 L1061.4 857.8 L1058.7 857.8 L1058.7 858.4 L1056.0 858.4 L1056.0 866.4 L1053.3 866.4 L1053.3 860.4 L1050.6 860.4 L1050.6 863.5 L1047.9 863.5 L1047.9 864.1 L1045.2 864.1 L1045.2 865.9 L1042.5 865.9 L1042.5 867.6 L1039.8 867.6 L1039.8 865.2 L1037.1 865.2 L1037.1 878.2 L1034.4 878.2 L1034.4 863.7 L1031.7 863.7 L1031.7 875.0 L1029.0 875.0 L1029.0 873.7 L1026.3 873.7 L1026.3 865.6 L1023.6 865.6 L1023.6 859.0 L1020.9 859.0 L1020.9 862.1 L1018.2 862.1 L1018.2 867.9 L1015.5 867.9 L1015.5 873.6 L1012.8 873.6 L1012.8 866.0 L1010.1 866.0 L1010.1 866.6 L1007.4 866.6 L1007.4 866.9 L1004.7 866.9 L1004.7 863.8 L1002.0 863.8 L1002.0 868.9 L999.3 868.9 L999.3 872.8 L996.6 872.8 L996.6 864.6 L993.9 864.6 L993.9 870.3 L991.2 870.3 L991.2 865.4 L988.5 865.4 L988.5 869.1 L985.8 869.1 L985.8 865.5 L983.1 865.5 L983.1 866.8 L980.4 866.8 L980.4 872.2 L977.7 872.2 L977.7 870.0 L975.0 870.0 L975.0 862.6 L972.3 862.6 L972.3 869.1 L969.6 869.1 L969.6 873.1 L966.9 873.1 L966.9 868.0 L964.2 868.0 L964.2 871.4 L961.5 871.4 L961.5 868.8 L958.8 868.8 L958.8 868.4 L956.1 868.4 L956.1 866.3 L953.4 866.3 L953.4 867.8 L950.7 867.8 L950.7 868.6 L948.0 868.6 L948.0 869.7 L945.3 869.7 L945.3 880.4 L942.6 880.4 L942.6 867.2 L939.9 867.2 L939.9 866.1 L937.2 866.1 L937.2 868.0 L934.5 868.0 L934.5 870.2 L931.8 870.2 L931.8 871.0 L929.1 871.0 L929.1 879.0 L926.4 879.0 L926.4 869.4 L923.7 869.4 L923.7 876.7 L921.0 876.7 L921.0 868.8 L918.3 868.8 L918.3 868.0 L915.6 868.0 L915.6 877.9 L912.9 877.9 L912.9 866.3 L910.2 866.3 L910.2 870.5 L907.5 870.5 L907.5 870.2 L904.8 870.2 L904.8 868.2 L902.1 868.2 L902.1 864.2 L899.4 864.2 L899.4 866.9 L896.7 866.9 L896.7 868.6 L894.0 868.6 L894.0 866.8 L891.3 866.8 L891.3 869.8 L888.6 869.8 L888.6 865.6 L885.9 865.6 L885.9 863.3 L883.2 863.3 L883.2 867.4 L880.5 867.4 L880.5 866.4 L877.8 866.4 L877.8 874.5 L875.1 874.5 L875.1 867.5 L872.4 867.5 L872.4 863.6 L869.7 863.6 L869.7 864.4 L867.0 864.4 L867.0 864.5 L864.3 864.5 L864.3 864.4 L861.6 864.4 L861.6 865.4 L858.9 865.4 L858.9 862.6 L856.2 862.6 L856.2 868.3 L853.5 868.3 L853.5 864.3 L850.8 864.3 L850.8 861.5 L848.1 861.5 L848.1 867.0 L845.4 867.0 L845.4 868.1 L842.7 868.1 L842.7 866.3 L840.0 866.3 L840.0 864.6 L837.3 864.6 L837.3 865.9 L834.6 865.9 L834.6 864.3 L831.9 864.3 L831.9 868.6 L829.2 868.6 L829.2 866.4 L826.5 866.4 L826.5 872.5 L823.8 872.5 L823.8 866.3 L821.1 866.3 L821.1 868.0 L818.4 868.0 L818.4 867.7 L815.7 867.7 L815.7 867.9 L813.0 867.9 L813.0 869.6 L810.3 869.6 L810.3 864.4 L807.6 864.4 L807.6 863.9 L804.9 863.9 L804.9 867.2 L802.2 867.2 L802.2 870.4 L799.5 870.4 L799.5 867.0 L796.8 867.0 L796.8 870.6 L794.1 870.6 L794.1 869.4 L791.4 869.4 L791.4 870.8 L788.7 870.8 L788.7 867.3 L786.0 867.3 L786.0 862.7 L783.3 862.7 L783.3 864.8 L780.6 864.8 L780.6 863.3 L777.9 863.3 L777.9 867.5 L775.2 867.5 L775.2 866.6 L772.5 866.6 L772.5 868.2 L769.8 868.2 L769.8 860.5 L767.1 860.5 L767.1 864.4 L764.4 864.4 L764.4 863.8 L761.7 863.8 L761.7 863.9 L759.0 863.9 L759.0 867.0 L756.3 867.0 L756.3 861.4 L753.6 861.4 L753.6 860.9 L750.9 860.9 L750.9 853.4 L748.2 853.4 L748.2 860.3 L745.5 860.3 L745.5 861.2 L742.8 861.2 L742.8 861.8 L740.1 861.8 L740.1 857.8 L737.4 857.8 L737.4 866.7 L734.7 866.7 L734.7 859.8 L732.0 859.8 L732.0 862.8 L729.3 862.8 L729.3 870.2 L726.6 870.2 L726.6 856.6 L723.9 856.6 L723.9 859.5 L721.2 859.5 L721.2 855.4 L718.5 855.4 L718.5 865.4 L715.8 865.4 L715.8 850.0 L713.1 850.0 L713.1 854.8 L710.4 854.8 L710.4 857.5 L707.7 857.5 L707.7 855.4 L705.0 855.4 L705.0 852.5 L702.3 852.5 L702.3 852.4 L699.6 852.4 L699.6 856.7 L696.9 856.7 L696.9 850.8 L694.2 850.8 L694.2 856.1 L691.5 856.1 L691.5 845.4 L688.8 845.4 L688.8 857.2 L686.1 857.2 L686.1 853.5 L683.4 853.5 L683.4 855.8 L680.7 855.8 L680.7 850.0 L678.0 850.0 L678.0 853.3 L675.3 853.3 L675.3 856.8 L672.6 856.8 L672.6 863.4 L669.9 863.4 L669.9 844.3 L667.2 844.3 L667.2 850.5 L664.5 850.5 L664.5 849.2 L661.8 849.2 L661.8 845.5 L659.1 845.5 L659.1 846.2 L656.4 846.2 L656.4 843.0 L653.7 843.0 L653.7 845.4 L651.0 845.4 L651.0 843.9 L648.3 843.9 L648.3 840.4 L645.6 840.4 L645.6 842.7 L642.9 842.7 L642.9 846.2 L640.2 846.2 L640.2 843.9 L637.5 843.9 L637.5 840.3 L634.8 840.3 L634.8 839.9 L632.1 839.9 L632.1 836.4 L629.4 836.4 L629.4 836.1 L626.7 836.1 L626.7 839.6 L624.0 839.6 L624.0 850.6 L621.3 850.6 L621.3 844.2 L618.6 844.2 L618.6 835.1 L615.9 835.1 L615.9 841.3 L613.2 841.3 L613.2 835.9 L610.5 835.9 L610.5 833.9 L607.8 833.9 L607.8 834.0 L605.1 834.0 L605.1 835.6 L602.4 835.6 L602.4 835.5 L599.7 835.5 L599.7 834.0 L597.0 834.0 L597.0 834.4 L594.3 834.4 L594.3 830.9 L591.6 830.9 L591.6 830.3 L588.9 830.3 L588.9 845.3 L586.2 845.3 L586.2 832.3 L583.5 832.3 L583.5 836.1 L580.8 836.1 L580.8 828.4 L578.1 828.4 L578.1 838.6 L575.4 838.6 L575.4 836.3 L572.7 836.3 L572.7 834.6 L570.0 834.6 L570.0 838.5 L567.3 838.5 L567.3 839.6 L564.6 839.6 L564.6 835.2 L561.9 835.2 L561.9 833.8 L559.2 833.8 L559.2 840.1 L556.5 840.1 L556.5 825.7 L553.8 825.7 L553.8 828.1 L551.1 828.1 L551.1 831.7 L548.4 831.7 L548.4 826.8 L545.7 826.8 L545.7 828.4 L543.0 828.4 L543.0 849.5 L540.3 849.5 L540.3 830.0 L537.6 830.0 L537.6 824.7 L534.9 824.7 L534.9 816.8 L532.2 816.8 L532.2 826.2 L529.5 826.2 L529.5 822.0 L526.8 822.0 L526.8 816.7 L524.1 816.7 L524.1 819.6 L521.4 819.6 L521.4 822.1 L518.7 822.1 L518.7 829.6 L516.0 829.6 L516.0 819.4 L513.3 819.4 L513.3 827.0 L510.6 827.0 L510.6 814.4 L507.9 814.4 L507.9 818.9 L505.2 818.9 L505.2 820.7 L502.5 820.7 L502.5 813.8 L499.8 813.8 L499.8 813.5 L497.1 813.5 L497.1 819.4 L494.4 819.4 L494.4 824.5 L491.7 824.5 L491.7 821.3 L489.0 821.3 L489.0 814.6 L486.3 814.6 L486.3 808.4 L483.6 808.4 L483.6 816.1 L480.9 816.1 L480.9 817.4 L478.2 817.4 L478.2 805.4 L475.5 805.4 L475.5 815.2 L472.8 815.2 L472.8 807.2 L470.1 807.2 L470.1 810.8 L467.4 810.8 L467.4 817.9 L464.7 817.9 L464.7 806.4 L462.0 806.4 L462.0 802.1 L459.3 802.1 L459.3 804.7 L456.6 804.7 L456.6 805.1 L453.9 805.1 L453.9 802.8 L451.2 802.8 L451.2 812.8 L448.5 812.8 L448.5 807.2 L445.8 807.2 L445.8 806.5 L443.1 806.5 L443.1 799.3 L440.4 799.3 L440.4 794.6 L437.7 794.6 L437.7 808.3 L435.0 808.3 L435.0 794.7 L432.3 794.7 L432.3 797.3 L429.6 797.3 L429.6 799.9 L426.9 799.9 L426.9 800.8 L424.2 800.8 L424.2 797.8 L421.5 797.8 L421.5 793.4 L418.8 793.4 L418.8 794.9 L416.1 794.9 L416.1 796.1 L413.4 796.1 L413.4 791.8 L410.7 791.8 L410.7 792.6 L408.0 792.6 L408.0 802.6 L405.3 802.6 L405.3 789.1 L402.6 789.1 L402.6 787.9 L399.9 787.9 L399.9 795.1 L397.2 795.1 L397.2 789.4 L394.5 789.4 L394.5 782.6 L391.8 782.6 L391.8 799.3 L389.1 799.3 L389.1 786.2 L386.4 786.2 L386.4 798.0 L383.7 798.0 L383.7 789.3 L381.0 789.3 L381.0 795.2 L378.3 795.2 L378.3 791.5 L375.6 791.5 L375.6 800.3 L372.9 800.3 L372.9 783.0 L370.2 783.0 L370.2 787.6 L367.5 787.6 L367.5 798.2 L364.8 798.2 L364.8 782.4 L362.1 782.4 L362.1 785.8 L359.4 785.8 L359.4 789.3 L356.7 789.3 L356.7 777.5 L354.0 777.5 L354.0 785.1 L351.3 785.1 L351.3 775.6 L348.6 775.6 L348.6 771.7 L345.9 771.7 L345.9 778.6 L343.2 778.6 L343.2 779.2 L340.5 779.2 L340.5 785.4 L337.8 785.4 L337.8 775.9 L335.1 775.9 L335.1 770.4 L332.4 770.4 L332.4 773.0 L329.7 773.0 L329.7 772.2 L327.0 772.2 L327.0 769.4 L324.3 769.4 L324.3 771.1 L321.6 771.1 L321.6 768.3 L318.9 768.3 L318.9 771.2 L316.2 771.2 L316.2 765.3 L313.5 765.3 L313.5 772.9 L310.8 772.9 L310.8 769.9 L308.1 769.9 L308.1 776.2 L305.4 776.2 L305.4 773.8 L302.7 773.8 L302.7 768.8 L300.0 768.8 L300.0 766.0 L297.3 766.0 L297.3 777.5 L294.6 777.5 L294.6 777.9 L291.9 777.9 L291.9 782.2 L289.2 782.2 L289.2 775.8 L286.5 775.8 L286.5 776.0 L283.8 776.0 L283.8 787.6 L281.1 787.6 L281.1 776.0 L278.4 776.0 L278.4 779.4 L275.7 779.4 L275.7 789.9 L273.0 789.9 L273.0 777.1 L270.3 777.1 L270.3 786.2 L267.6 786.2 L267.6 795.1 L264.9 795.1 L264.9 781.7 L262.2 781.7 L262.2 790.0 L259.5 790.0 L259.5 787.0 L256.8 787.0 L256.8 787.3 L254.1 787.3 L254.1 779.4 L251.4 779.4 L251.4 783.7 L248.7 783.7 L248.7 790.2 L246.0 790.2 L246.0 793.1 L243.3 793.1 L243.3 795.6 L240.6 795.6 L240.6 796.2 L237.9 796.2 L237.9 793.1 L235.2 793.1 L235.2 793.0 L232.5 793.0 L232.5 794.9 L229.8 794.9 L229.8 789.2 L227.1 789.2 L227.1 797.4 L224.4 797.4 L224.4 798.1 L221.7 798.1 L221.7 800.2 L219.0 800.2 L219.0 804.7 L216.3 804.7 L216.3 800.7 L213.6 800.7 L213.6 806.5 L210.9 806.5 L210.9 800.4 L208.2 800.4 L208.2 798.6 L205.5 798.6 L205.5 807.3 L202.8 807.3 L202.8 810.7 L200.1 810.7 L200.1 811.6 L197.4 811.6 L197.4 807.4 L194.7 807.4 L194.7 814.2 L192.0 814.2 L192.0 817.3 L189.3 817.3 L189.3 832.2 L186.6 832.2 L186.6 815.2 L183.9 815.2 L183.9 817.4 L181.2 817.4 L181.2 816.7 L178.5 816.7 L178.5 816.2 L175.8 816.2 L175.8 821.6 L173.1 821.6 L173.1 825.0 L170.4 825.0 L170.4 824.6 L167.7 824.6 L167.7 830.9 L165.0 830.9Z"/>
<path fill="#ff00ff" d="M165.0 926.5 L167.7 926.5 L167.7 924.1 L170.4 924.1 L170.4 920.3 L173.1 920.3 L173.1 914.4 L175.8 914.4 L175.8 918.0 L178.5 918.0 L178.5 922.3 L181.2 922.3 L181.2 922.8 L183.9 922.8 L183.9 921.7 L186.6 921.7 L186.6 920.5 L189.3 920.5 L189.3 924.7 L192.0 924.7 L192.0 920.4 L194.7 920.4 L194.7 924.0 L197.4 924.0 L197.4 921.0 L200.1 921.0 L200.1 916.4 L202.8 916.4 L202.8 918.7 L205.5 918.7 L205.5 918.6 L208.2 918.6 L208.2 921.9 L210.9 921.9 L210.9 920.6 L213.6 920.6 L213.6 915.0 L216.3 915.0 L216.3 924.2 L219.0 924.2 L219.0 920.3 L221.7 920.3 L221.7 919.3 L224.4 919.3 L224.4 921.8 L227.1 921.8 L227.1 909.7 L229.8 909.7 L229.8 917.1 L232.5 917.1 L232.5 924.5 L235.2 924.5 L235.2 916.6 L237.9 916.6 L237.9 920.5 L240.6 920.5 L240.6 910.1 L243.3 910.1 L243.3 915.3 L246.0 915.3 L246.0 917.1 L248.7 917.1 L248.7 917.6 L251.4 917.6 L251.4 913.9 L254.1 913.9 L254.1 917.3 L256.8 917.3 L256.8 914.5 L259.5 914.5 L259.5 906.4 L262.2 906.4 L262.2 914.8 L264.9 914.8 L264.9 913.3 L267.6 913.3 L267.6 904.5 L270.3 904.5 L270.3 906.6 L273.0 906.6 L273.0 910.4 L275.7 910.4 L275.7 911.2 L278.4 911.2 L278.4 907.5 L281.1 907.5 L281.1 918.1 L283.8 918.1 L283.8 907.8 L286.5 907.8 L286.5 917.0 L289.2 917.0 L289.2 910.8 L291.9 910.8 L291.9 919.4 L294.6 919.4 L294.6 910.4 L297.3 910.4 L297.3 914.5 L300.0 914.5 L300.0 907.3 L302.7 907.3 L302.7 910.8 L305.4 910.8 L305.4 908.2 L308.1 908.2 L308.1 896.2 L310.8 896.2 L310.8 908.9 L313.5 908.9 L313.5 912.4 L316.2 912.4 L316.2 913.6 L318.9 913.6 L318.9 906.1 L321.6 906.1 L321.6 907.3 L324.3 907.3 L324.3 909.4 L327.0 909.4 L327.0 913.0 L329.7 913.0 L329.7 906.2 L332.4 906.2 L332.4 913.0 L335.1 913.0 L335.1 894.2 L337.8 894.2 L337.8 907.4 L340.5 907.4 L340.5 911.8 L343.2 911.8 L343.2 913.5 L345.9 913.5 L345.9 909.8 L348.6 909.8 L348.6 909.0 L351.3 909.0 L351.3 906.1 L354.0 906.1 L354.0 912.8 L356.7 912.8 L356.7 902.3 L359.4 902.3 L359.4 909.3 L362.1 909.3 L362.1 902.2 L364.8 902.2 L364.8 904.4 L367.5 904.4 L367.5 893.0 L370.2 893.0 L370.2 906.3 L372.9 906.3 L372.9 907.0 L375.6 907.0 L375.6 914.4 L378.3 914.4 L378.3 909.1 L381.0 909.1 L381.0 907.7 L383.7 907.7 L383.7 909.3 L386.4 909.3 L386.4 907.5 L389.1 907.5 L389.1 910.9 L391.8 910.9 L391.8 911.9 L394.5 911.9 L394.5 910.9 L397.2 910.9 L397.2 908.6 L399.9 908.6 L399.9 914.1 L402.6 914.1 L402.6 917.5 L405.3 917.5 L405.3 912.3 L408.0 912.3 L408.0 913.0 L410.7 913.0 L410.7 912.4 L413.4 912.4 L413.4 912.8 L416.1 912.8 L416.1 909.7 L418.8 909.7 L418.8 908.8 L421.5 908.8 L421.5 915.5 L424.2 915.5 L424.2 918.2 L426.9 918.2 L426.9 916.7 L429.6 916.7 L429.6 922.5 L432.3 922.5 L432.3 919.2 L435.0 919.2 L435.0 923.9 L437.7 923.9 L437.7 914.5 L440.4 914.5 L440.4 919.6 L443.1 919.6 L443.1 914.4 L445.8 914.4 L445.8 914.3 L448.5 914.3 L448.5 913.9 L451.2 913.9 L451.2 910.8 L453.9 910.8 L453.9 917.9 L456.6 917.9 L456.6 914.0 L459.3 914.0 L459.3 922.3 L462.0 922.3 L462.0 916.0 L464.7 916.0 L464.7 916.6 L467.4 916.6 L467.4 925.4 L470.1 925.4 L470.1 917.9 L472.8 917.9 L472.8 919.6 L475.5 919.6 L475.5 924.8 L478.2 924.8 L478.2 916.2 L480.9 916.2 L480.9 920.2 L483.6 920.2 L483.6 925.0 L486.3 925.0 L486.3 924.1 L489.0 924.1 L489.0 929.1 L491.7 929.1 L491.7 923.3 L494.4 923.3 L494.4 931.9 L497.1 931.9 L497.1 927.3 L499.8 927.3 L499.8 924.2 L502.5 924.2 L502.5 938.1 L505.2 938.1 L505.2 924.8 L507.9 924.8 L507.9 932.6 L510.6 932.6 L510.6 927.6 L513.3 927.6 L513.3 925.4 L516.0 925.4 L516.0 929.7 L518.7 929.7 L518.7 923.1 L521.4 923.1 L521.4 931.6 L524.1 931.6 L524.1 934.6 L526.8 934.6 L526.8 933.5 L529.5 933.5 L529.5 941.8 L532.2 941.8 L532.2 937.6 L534.9 937.6 L534.9 935.5 L537.6 935.5 L537.6 941.1 L540.3 941.1 L540.3 936.6 L543.0 936.6 L543.0 940.5 L545.7 940.5 L545.7 938.4 L548.4 938.4 L548.4 940.8 L551.1 940.8 L551.1 940.8 L553.8 940.8 L553.8 940.5 L556.5 940.5 L556.5 935.3 L559.2 935.3 L559.2 933.7 L561.9 933.7 L561.9 940.2 L564.6 940.2 L564.6 932.9 L567.3 932.9 L567.3 944.1 L570.0 944.1 L570.0 942.8 L572.7 942.8 L572.7 939.5 L575.4 939.5 L575.4 943.7 L578.1 943.7 L578.1 942.7 L580.8 942.7 L580.8 942.8 L583.5 942.8 L583.5 944.6 L586.2 944.6 L586.2 939.0 L588.9 939.0 L588.9 939.5 L591.6 939.5 L591.6 942.9 L594.3 942.9 L594.3 942.9 L597.0 942.9 L597.0 944.2 L599.7 944.2 L599.7 948.5 L602.4 948.5 L602.4 942.6 L605.1 942.6 L605.1 945.0 L607.8 945.0 L607.8 949.6 L610.5 949.6 L610.5 948.3 L613.2 948.3 L613.2 950.0 L615.9 950.0 L615.9 946.8 L618.6 946.8 L618.6 939.4 L621.3 939.4 L621.3 944.5 L624.0 944.5 L624.0 948.2 L626.7 948.2 L626.7 951.7 L629.4 951.7 L629.4 945.3 L632.1 945.3 L632.1 950.0 L634.8 950.0 L634.8 948.9 L637.5 948.9 L637.5 950.2 L640.2 950.2 L640.2 953.8 L642.9 953.8 L642.9 950.1 L645.6 950.1 L645.6 955.3 L648.3 955.3 L648.3 954.5 L651.0 954.5 L651.0 951.8 L653.7 951.8 L653.7 952.3 L656.4 952.3 L656.4 951.0 L659.1 951.0 L659.1 952.5 L661.8 952.5 L661.8 956.3 L664.5 956.3 L664.5 951.7 L667.2 951.7 L667.2 959.0 L669.9 959.0 L669.9 953.5 L672.6 953.5 L672.6 955.1 L675.3 955.1 L675.3 954.8 L678.0 954.8 L678.0 952.2 L680.7 952.2 L680.7 957.9 L683.4 957.9 L683.4 958.1 L686.1 958.1 L686.1 955.8 L688.8 955.8 L688.8 955.3 L691.5 955.3 L691.5 960.9 L694.2 960.9 L694.2 958.7 L696.9 958.7 L696.9 955.1 L699.6 955.1 L699.6 957.3 L702.3 957.3 L702.3 961.4 L705.0 961.4 L705.0 955.1 L707.7 955.1 L707.7 957.7 L710.4 957.7 L710.4 959.2 L713.1 959.2 L713.1 958.3 L715.8 958.3 L715.8 955.0 L718.5 955.0 L718.5 960.9 L721.2 960.9 L721.2 959.3 L723.9 959.3 L723.9 960.7 L726.6 960.7 L726.6 962.0 L729.3 962.0 L729.3 960.2 L732.0 960.2 L732.0 960.7 L734.7 960.7 L734.7 959.3 L737.4 959.3 L737.4 959.8 L740.1 959.8 L740.1 959.6 L742.8 959.6 L742.8 961.0 L745.5 961.0 L745.5 963.3 L748.2 963.3 L748.2 962.4 L750.9 962.4 L750.9 962.1 L753.6 962.1 L753.6 962.6 L756.3 962.6 L756.3 965.4 L759.0 965.4 L759.0 964.4 L761.7 964.4 L761.7 963.4 L764.4 963.4 L764.4 959.9 L767.1 959.9 L767.1 966.1 L769.8 966.1 L769.8 956.0 L772.5 956.0 L772.5 965.9 L775.2 965.9 L775.2 966.0 L777.9 966.0 L777.9 963.4 L780.6 963.4 L780.6 962.1 L783.3 962.1 L783.3 964.2 L786.0 964.2 L786.0 963.6 L788.7 963.6 L788.7 962.6 L791.4 962.6 L791.4 966.0 L794.1 966.0 L794.1 963.7 L796.8 963.7 L796.8 965.6 L799.5 965.6 L799.5 962.9 L802.2 962.9 L802.2 961.2 L804.9 961.2 L804.9 964.6 L807.6 964.6 L807.6 960.1 L810.3 960.1 L810.3 964.5 L813.0 964.5 L813.0 962.0 L815.7 962.0 L815.7 966.3 L818.4 966.3 L818.4 965.1 L821.1 965.1 L821.1 964.4 L823.8 964.4 L823.8 964.7 L826.5 964.7 L826.5 958.1 L829.2 958.1 L829.2 964.2 L831.9 964.2 L831.9 963.6 L834.6 963.6 L834.6 963.9 L837.3 963.9 L837.3 962.6 L840.0 962.6 L840.0 961.0 L842.7 961.0 L842.7 960.6 L845.4 960.6 L845.4 961.7 L848.1 961.7 L848.1 965.8 L850.8 965.8 L850.8 965.2 L853.5 965.2 L853.5 961.1 L856.2 961.1 L856.2 965.8 L858.9 965.8 L858.9 967.1 L861.6 967.1 L861.6 964.2 L864.3 964.2 L864.3 962.7 L867.0 962.7 L867.0 956.8 L869.7 956.8 L869.7 966.9 L872.4 966.9 L872.4 965.8 L875.1 965.8 L875.1 968.8 L877.8 968.8 L877.8 964.9 L880.5 964.9 L880.5 960.7 L883.2 960.7 L883.2 965.7 L885.9 965.7 L885.9 963.7 L888.6 963.7 L888.6 964.6 L891.3 964.6 L891.3 962.7 L894.0 962.7 L894.0 966.5 L896.7 966.5 L896.7 963.2 L899.4 963.2 L899.4 964.3 L902.1 964.3 L902.1 963.7 L904.8 963.7 L904.8 964.5 L907.5 964.5 L907.5 964.7 L910.2 964.7 L910.2 966.1 L912.9 966.1 L912.9 968.9 L915.6 968.9 L915.6 967.1 L918.3 967.1 L918.3 964.4 L921.0 964.4 L921.0 963.2 L923.7 963.2 L923.7 961.4 L926.4 961.4 L926.4 963.7 L929.1 963.7 L929.1 968.1 L931.8 968.1 L931.8 966.1 L934.5 966.1 L934.5 968.8 L937.2 968.8 L937.2 964.7 L939.9 964.7 L939.9 963.1 L942.6 963.1 L942.6 965.1 L945.3 965.1 L945.3 963.9 L948.0 963.9 L948.0 966.2 L950.7 966.2 L950.7 964.4 L953.4 964.4 L953.4 960.8 L956.1 960.8 L956.1 963.8 L958.8 963.8 L958.8 962.4 L961.5 962.4 L961.5 965.0 L964.2 965.0 L964.2 964.5 L966.9 964.5 L966.9 963.8 L969.6 963.8 L969.6 966.5 L972.3 966.5 L972.3 966.9 L975.0 966.9 L975.0 965.2 L977.7 965.2 L977.7 960.8 L980.4 960.8 L980.4 965.9 L983.1 965.9 L983.1 965.4 L985.8 965.4 L985.8 962.7 L988.5 962.7 L988.5 964.1 L991.2 964.1 L991.2 966.0 L993.9 966.0 L993.9 964.2 L996.6 964.2 L996.6 966.7 L999.3 966.7 L999.3 967.1 L1002.0 967.1 L1002.0 966.3 L1004.7 966.3 L1004.7 966.7 L1007.4 966.7 L1007.4 966.8 L1010.1 966.8 L1010.1 965.2 L1012.8 965.2 L1012.8 964.8 L1015.5 964.8 L1015.5 963.2 L1018.2 963.2 L1018.2 965.1 L1020.9 965.1 L1020.9 962.6 L1023.6 962.6 L1023.6 963.4 L1026.3 963.4 L1026.3 963.7 L1029.0 963.7 L1029.0 964.5 L1031.7 964.5 L1031.7 966.2 L1034.4 966.2 L1034.4 965.2 L1037.1 965.2 L1037.1 964.9 L1039.8 964.9 L1039.8 965.1 L1042.5 965.1 L1042.5 966.5 L1045.2 966.5 L1045.2 966.0 L1047.9 966.0 L1047.9 965.6 L1050.6 965.6 L1050.6 962.3 L1053.3 962.3 L1053.3 963.0 L1056.0 963.0 L1056.0 965.5 L1058.7 965.5 L1058.7 964.2 L1061.4 964.2 L1061.4 964.8 L1064.1 964.8 L1064.1 965.7 L1066.8 965.7 L1066.8 967.5 L1069.5 967.5 L1069.5 962.2 L1072.2 962.2 L1072.2 963.1 L1074.9 963.1 L1074.9 961.0 L1077.6 961.0 L1077.6 963.9 L1080.3 963.9 L1080.3 964.4 L1083.0 964.4 L1083.0 965.8 L1085.7 965.8 L1085.7 960.6 L1088.4 960.6 L1088.4 963.0 L1091.1 963.0 L1091.1 959.8 L1093.8 959.8 L1093.8 961.8 L1096.5 961.8 L1096.5 962.4 L1099.2 962.4 L1099.2 963.4 L1101.9 963.4 L1101.9 958.7 L1104.6 958.7 L1104.6 960.4 L1107.3 960.4 L1107.3 962.3 L1110.0 962.3 L1110.0 964.8 L1112.7 964.8 L1112.7 964.2 L1115.4 964.2 L1115.4 963.5 L1118.1 963.5 L1118.1 962.4 L1120.8 962.4 L1120.8 962.7 L1123.5 962.7 L1123.5 961.8 L1126.2 961.8 L1126.2 960.0 L1128.9 960.0 L1128.9 961.5 L1131.6 961.5 L1131.6 961.7 L1134.3 961.7 L1134.3 960.2 L1137.0 960.2 L1137.0 960.1 L1139.7 960.1 L1139.7 958.6 L1142.4 958.6 L1142.4 964.1 L1145.1 964.1 L1145.1 964.1 L1147.8 964.1 L1147.8 960.5 L1150.5 960.5 L1150.5 964.4 L1153.2 964.4 L1153.2 962.4 L1155.9 962.4 L1155.9 963.5 L1158.6 963.5 L1158.6 960.1 L1161.3 960.1 L1161.3 962.6 L1164.0 962.6 L1164.0 964.6 L1166.7 964.6 L1166.7 965.1 L1169.4 965.1 L1169.4 964.1 L1172.1 964.1 L1172.1 964.6 L1174.8 964.6 L1174.8 965.2 L1177.5 965.2 L1177.5 965.0 L1180.2 965.0 L1180.2 964.2 L1182.9 964.2 L1182.9 966.1 L1185.6 966.1 L1185.6 962.3 L1188.3 962.3 L1188.3 965.1 L1191.0 965.1 L1191.0 966.4 L1193.7 966.4 L1193.7 966.4 L1196.4 966.4 L1196.4 964.7 L1199.1 964.7 L1199.1 966.5 L1201.8 966.5 L1201.8 966.0 L1204.5 966.0 L1204.5 962.9 L1207.2 962.9 L1207.2 961.5 L1209.9 961.5 L1209.9 966.2 L1212.6 966.2 L1212.6 964.7 L1215.3 964.7 L1215.3 966.7 L1218.0 966.7 L1218.0 966.4 L1220.7 966.4 L1220.7 962.9 L1223.4 962.9 L1223.4 963.6 L1226.1 963.6 L1226.1 967.8 L1228.8 967.8 L1228.8 965.8 L1231.5 965.8 L1231.5 962.8 L1234.2 962.8 L1234.2 964.0 L1236.9 964.0 L1236.9 963.9 L1239.6 963.9 L1239.6 965.3 L1242.3 965.3 L1242.3 960.0 L1245.0 960.0 L1245.0 964.2 L1247.7 964.2 L1247.7 963.1 L1250.4 963.1 L1250.4 967.7 L1253.1 967.7 L1253.1 963.6 L1255.8 963.6 L1255.8 965.9 L1258.5 965.9 L1258.5 963.0 L1261.2 963.0 L1261.2 960.9 L1263.9 960.9 L1263.9 967.8 L1266.6 967.8 L1266.6 965.0 L1269.3 965.0 L1269.3 963.4 L1272.0 963.4 L1272.0 968.5 L1274.7 968.5 L1274.7 966.8 L1277.4 966.8 L1277.4 964.6 L1280.1 964.6 L1280.1 966.5 L1282.8 966.5 L1282.8 967.7 L1285.5 967.7 L1285.5 966.9 L1288.2 966.9 L1288.2 962.8 L1290.9 962.8 L1290.9 968.1 L1293.6 968.1 L1293.6 967.2 L1296.3 967.2 L1296.3 967.3 L1299.0 967.3 L1299.0 968.9 L1301.7 968.9 L1301.7 967.6 L1304.4 967.6 L1304.4 967.9 L1307.1 967.9 L1307.1 964.4 L1309.8 964.4 L1309.8 965.0 L1312.5 965.0 L1312.5 969.2 L1315.2 969.2 L1315.2 968.6 L1317.9 968.6 L1317.9 964.1 L1320.6 964.1 L1320.6 969.8 L1323.3 969.8 L1323.3 966.4 L1326.0 966.4 L1326.0 963.5 L1328.7 963.5 L1328.7 964.1 L1331.4 964.1 L1331.4 966.8 L1334.1 966.8 L1334.1 968.1 L1336.8 968.1 L1336.8 967.4 L1339.5 967.4 L1339.5 966.1 L1342.2 966.1 L1342.2 964.0 L1344.9 964.0 L1344.9 964.9 L1347.6 964.9 L1347.6 966.8 L1350.3 966.8 L1350.3 965.7 L1353.0 965.7 L1353.0 970.0 L1355.7 970.0 L1355.7 969.5 L1358.4 969.5 L1358.4 967.2 L1361.1 967.2 L1361.1 969.0 L1363.8 969.0 L1363.8 966.9 L1366.5 966.9 L1366.5 966.0 L1369.2 966.0 L1369.2 965.1 L1371.9 965.1 L1371.9 969.0 L1374.6 969.0 L1374.6 969.4 L1377.3 969.4 L1377.3 967.5 L1380.0 967.5 L1380.0 967.8 L1382.7 967.8 L1382.7 964.1 L1385.4 964.1 L1385.4 968.0 L1388.1 968.0 L1388.1 969.0 L1390.8 969.0 L1390.8 967.5 L1393.5 967.5 L1393.5 971.4 L1396.2 971.4 L1396.2 965.7 L1398.9 965.7 L1398.9 968.7 L1401.6 968.7 L1401.6 967.7 L1404.3 967.7 L1404.3 966.5 L1407.0 966.5 L1407.0 968.5 L1409.7 968.5 L1409.7 964.5 L1412.4 964.5 L1412.4 968.5 L1415.1 968.5 L1415.1 968.0 L1417.8 968.0 L1417.8 967.6 L1420.5 967.6 L1420.5 969.1 L1423.2 969.1 L1423.2 970.6 L1425.9 970.6 L1425.9 968.3 L1428.6 968.3 L1428.6 970.9 L1431.3 970.9 L1431.3 965.8 L1434.0 965.8 L1434.0 970.1 L1436.7 970.1 L1436.7 967.9 L1439.4 967.9 L1439.4 968.5 L1442.1 968.5 L1442.1 969.6 L1444.8 969.6 L1444.8 966.5 L1447.5 966.5 L1447.5 968.0 L1450.2 968.0 L1450.2 969.1 L1452.9 969.1 L1452.9 968.9 L1455.6 968.9 L1455.6 964.2 L1458.3 964.2 L1458.3 969.5 L1461.0 969.5 L1461.0 969.0 L1463.7 969.0 L1463.7 968.4 L1466.4 968.4 L1466.4 969.2 L1469.1 969.2 L1469.1 967.0 L1471.8 967.0 L1471.8 970.5 L1474.5 970.5 L1474.5 971.0 L1477.2 971.0 L1477.2 965.3 L1479.9 965.3 L1479.9 967.3 L1482.6 967.3 L1482.6 965.8 L1485.3 965.8 L1485.3 970.8 L1488.0 970.8 L1488.0 970.9 L1490.7 970.9 L1490.7 968.1 L1493.4 968.1 L1493.4 969.7 L1496.1 969.7 L1496.1 968.4 L1498.8 968.4 L1498.8 969.2 L1501.5 969.2 L1501.5 968.6 L1504.2 968.6 L1504.2 967.2 L1506.9 967.2 L1506.9 969.4 L1509.6 969.4 L1509.6 969.0 L1512.3 969.0 L1512.3 968.0 L1515.0 968.0 L1515.0 967.9 L1517.7 967.9 L1517.7 967.1 L1520.4 967.1 L1520.4 968.1 L1523.1 968.1 L1523.1 969.6 L1525.8 969.6 L1525.8 971.4 L1528.5 971.4 L1528.5 971.2 L1531.2 971.2 L1531.2 969.2 L1533.9 969.2 L1533.9 972.5 L1536.6 972.5 L1536.6 970.3 L1539.3 970.3 L1539.3 971.0 L1542.0 971.0 L1542.0 971.4 L1544.7 971.4 L1544.7 971.4 L1547.4 971.4 L1547.4 973.2 L1550.1 973.2 L1550.1 972.1 L1552.8 972.1 L1552.8 967.8 L1555.5 967.8 L1555.5 969.9 L1558.2 969.9 L1558.2 972.5 L1560.9 972.5 L1560.9 968.0 L1563.6 968.0 L1563.6 969.2 L1566.3 969.2 L1566.3 969.1 L1569.0 969.1 L1569.0 970.5 L1571.7 970.5 L1571.7 971.3 L1574.4 971.3 L1574.4 969.6 L1577.1 969.6 L1577.1 970.1 L1579.8 970.1 L1579.8 969.6 L1582.5 969.6 L1582.5 968.9 L1585.2 968.9 L1585.2 966.4 L1587.9 966.4 L1587.9 970.4 L1590.6 970.4 L1590.6 971.1 L1593.3 971.1 L1593.3 968.1 L1596.0 968.1 L1596.0 972.6 L1598.7 972.6 L1598.7 968.9 L1601.4 968.9 L1601.4 970.9 L1604.1 970.9 L1604.1 970.0 L1606.8 970.0 L1606.8 972.2 L1609.5 972.2 L1609.5 974.1 L1612.2 974.1 L1612.2 968.8 L1614.9 968.8 L1614.9 971.2 L1617.6 971.2 L1617.6 964.3 L1620.3 964.3 L1620.3 969.3 L1623.0 969.3 L1623.0 970.8 L1625.7 970.8 L1625.7 969.2 L1628.4 969.2 L1628.4 971.6 L1631.1 971.6 L1631.1 970.3 L1633.8 970.3 L1633.8 972.2 L1636.5 972.2 L1636.5 969.9 L1639.2 969.9 L1639.2 969.2 L1641.9 969.2 L1641.9 971.4 L1644.6 971.4 L1644.6 969.9 L1647.3 969.9 L1647.3 974.5 L1650.0 974.5 L1650.0 970.5 L1652.7 970.5 L1652.7 972.1 L1655.4 972.1 L1655.4 965.3 L1658.1 965.3 L1658.1 967.5 L1660.8 967.5 L1660.8 970.3 L1663.5 970.3 L1663.5 972.6 L1666.2 972.6 L1666.2 971.6 L1668.9 971.6 L1668.9 972.4 L1671.6 972.4 L1671.6 972.2 L1674.3 972.2 L1674.3 971.4 L1677.0 971.4 L1677.0 969.3 L1679.7 969.3 L1679.7 971.1 L1682.4 971.1 L1682.4 972.0 L1685.1 972.0 L1685.1 969.4 L1687.8 969.4 L1687.8 970.1 L1690.5 970.1 L1690.5 970.3 L1693.2 970.3 L1693.2 970.2 L1695.9 970.2 L1695.9 970.9 L1698.6 970.9 L1698.6 973.4 L1701.3 973.4 L1701.3 972.5 L1704.0 972.5 L1704.0 971.7 L1706.7 971.7 L1706.7 970.3 L1709.4 970.3 L1709.4 965.6 L1712.1 965.6 L1712.1 972.6 L1714.8 972.6 L1714.8 971.2 L1717.5 971.2 L1717.5 972.5 L1720.2 972.5 L1720.2 966.6 L1722.9 966.6 L1722.9 970.5 L1725.6 970.5 L1725.6 970.9 L1728.3 970.9 L1728.3 969.5 L1731.0 969.5 L1731.0 970.7 L1733.7 970.7 L1733.7 971.6 L1736.4 971.6 L1736.4 972.4 L1738.0 972.4 L1738.0 987.4 L1736.4 987.4 L1736.4 986.3 L1733.7 986.3 L1733.7 985.8 L1731.0 985.8 L1731.0 984.9 L1728.3 984.9 L1728.3 983.8 L1725.6 983.8 L1725.6 987.0 L1722.9 987.0 L1722.9 989.4 L1720.2 989.4 L1720.2 987.3 L1717.5 987.3 L1717.5 986.9 L1714.8 986.9 L1714.8 987.4 L1712.1 987.4 L1712.1 985.1 L1709.4 985.1 L1709.4 987.2 L1706.7 987.2 L1706.7 988.5 L1704.0 988.5 L1704.0 986.3 L1701.3 986.3 L1701.3 988.0 L1698.6 988.0 L1698.6 984.1 L1695.9 984.1 L1695.9 985.2 L1693.2 985.2 L1693.2 985.9 L1690.5 985.9 L1690.5 986.7 L1687.8 986.7 L1687.8 985.7 L1685.1 985.7 L1685.1 987.2 L1682.4 987.2 L1682.4 987.2 L1679.7 987.2 L1679.7 986.7 L1677.0 986.7 L1677.0 987.2 L1674.3 987.2 L1674.3 986.7 L1671.6 986.7 L1671.6 987.5 L1668.9 987.5 L1668.9 988.2 L1666.2 988.2 L1666.2 988.1 L1663.5 988.1 L1663.5 982.8 L1660.8 982.8 L1660.8 986.8 L1658.1 986.8 L1658.1 989.5 L1655.4 989.5 L1655.4 985.0 L1652.7 985.0 L1652.7 987.4 L1650.0 987.4 L1650.0 987.4 L1647.3 987.4 L1647.3 989.3 L1644.6 989.3 L1644.6 984.9 L1641.9 984.9 L1641.9 988.8 L1639.2 988.8 L1639.2 991.0 L1636.5 991.0 L1636.5 985.9 L1633.8 985.9 L1633.8 988.3 L1631.1 988.3 L1631.1 984.7 L1628.4 984.7 L1628.4 988.5 L1625.7 988.5 L1625.7 985.1 L1623.0 985.1 L1623.0 984.7 L1620.3 984.7 L1620.3 986.6 L1617.6 986.6 L1617.6 989.5 L1614.9 989.5 L1614.9 986.4 L1612.2 986.4 L1612.2 987.4 L1609.5 987.4 L1609.5 985.7 L1606.8 985.7 L1606.8 986.9 L1604.1 986.9 L1604.1 988.8 L1601.4 988.8 L1601.4 985.1 L1598.7 985.1 L1598.7 985.2 L1596.0 985.2 L1596.0 983.7 L1593.3 983.7 L1593.3 990.5 L1590.6 990.5 L1590.6 986.2 L1587.9 986.2 L1587.9 988.2 L1585.2 988.2 L1585.2 988.7 L1582.5 988.7 L1582.5 985.2 L1579.8 985.2 L1579.8 984.6 L1577.1 984.6 L1577.1 988.2 L1574.4 988.2 L1574.4 986.6 L1571.7 986.6 L1571.7 985.7 L1569.0 985.7 L1569.0 986.5 L1566.3 986.5 L1566.3 987.9 L1563.6 987.9 L1563.6 983.2 L1560.9 983.2 L1560.9 982.8 L1558.2 982.8 L1558.2 986.6 L1555.5 986.6 L1555.5 986.4 L1552.8 986.4 L1552.8 984.0 L1550.1 984.0 L1550.1 986.3 L1547.4 986.3 L1547.4 986.7 L1544.7 986.7 L1544.7 985.0 L1542.0 985.0 L1542.0 986.3 L1539.3 986.3 L1539.3 986.9 L1536.6 986.9 L1536.6 987.0 L1533.9 987.0 L1533.9 986.3 L1531.2 986.3 L1531.2 987.7 L1528.5 987.7 L1528.5 985.1 L1525.8 985.1 L1525.8 992.0 L1523.1 992.0 L1523.1 986.1 L1520.4 986.1 L1520.4 986.7 L1517.7 986.7 L1517.7 985.5 L1515.0 985.5 L1515.0 985.8 L1512.3 985.8 L1512.3 986.7 L1509.6 986.7 L1509.6 984.2 L1506.9 984.2 L1506.9 987.6 L1504.2 987.6 L1504.2 984.8 L1501.5 984.8 L1501.5 986.0 L1498.8 986.0 L1498.8 986.4 L1496.1 986.4 L1496.1 985.6 L1493.4 985.6 L1493.4 985.2 L1490.7 985.2 L1490.7 984.6 L1488.0 984.6 L1488.0 985.7 L1485.3 985.7 L1485.3 988.9 L1482.6 988.9 L1482.6 988.5 L1479.9 988.5 L1479.9 985.6 L1477.2 985.6 L1477.2 985.4 L1474.5 985.4 L1474.5 986.6 L1471.8 986.6 L1471.8 987.1 L1469.1 987.1 L1469.1 992.4 L1466.4 992.4 L1466.4 989.0 L1463.7 989.0 L1463.7 988.5 L1461.0 988.5 L1461.0 986.7 L1458.3 986.7 L1458.3 983.8 L1455.6 983.8 L1455.6 984.7 L1452.9 984.7 L1452.9 986.7 L1450.2 986.7 L1450.2 986.8 L1447.5 986.8 L1447.5 986.5 L1444.8 986.5 L1444.8 983.2 L1442.1 983.2 L1442.1 987.1 L1439.4 987.1 L1439.4 983.4 L1436.7 983.4 L1436.7 987.2 L1434.0 987.2 L1434.0 986.9 L1431.3 986.9 L1431.3 985.9 L1428.6 985.9 L1428.6 986.7 L1425.9 986.7 L1425.9 987.2 L1423.2 987.2 L1423.2 986.5 L1420.5 986.5 L1420.5 986.1 L1417.8 986.1 L1417.8 984.1 L1415.1 984.1 L1415.1 985.7 L1412.4 985.7 L1412.4 985.5 L1409.7 985.5 L1409.7 992.4 L1407.0 992.4 L1407.0 986.1 L1404.3 986.1 L1404.3 983.8 L1401.6 983.8 L1401.6 986.8 L1398.9 986.8 L1398.9 988.1 L1396.2 988.1 L1396.2 986.7 L1393.5 986.7 L1393.5 987.1 L1390.8 987.1 L1390.8 987.2 L1388.1 987.2 L1388.1 985.1 L1385.4 985.1 L1385.4 984.0 L1382.7 984.0 L1382.7 989.4 L1380.0 989.4 L1380.0 987.1 L1377.3 987.1 L1377.3 985.2 L1374.6 985.2 L1374.6 987.0 L1371.9 987.0 L1371.9 984.6 L1369.2 984.6 L1369.2 984.6 L1366.5 984.6 L1366.5 983.7 L1363.8 983.7 L1363.8 984.6 L1361.1 984.6 L1361.1 984.6 L1358.4 984.6 L1358.4 985.3 L1355.7 985.3 L1355.7 987.7 L1353.0 987.7 L1353.0 990.5 L1350.3 990.5 L1350.3 984.4 L1347.6 984.4 L1347.6 985.4 L1344.9 985.4 L1344.9 986.0 L1342.2 986.0 L1342.2 986.5 L1339.5 986.5 L1339.5 981.3 L1336.8 981.3 L1336.8 981.1 L1334.1 981.1 L1334.1 981.2 L1331.4 981.2 L1331.4 984.6 L1328.7 984.6 L1328.7 987.1 L1326.0 987.1 L1326.0 983.5 L1323.3 983.5 L1323.3 983.3 L1320.6 983.3 L1320.6 986.5 L1317.9 986.5 L1317.9 988.4 L1315.2 988.4 L1315.2 985.5 L1312.5 985.5 L1312.5 984.1 L1309.8 984.1 L1309.8 984.4 L1307.1 984.4 L1307.1 984.1 L1304.4 984.1 L1304.4 984.4 L1301.7 984.4 L1301.7 982.7 L1299.0 982.7 L1299.0 982.2 L1296.3 982.2 L1296.3 987.7 L1293.6 987.7 L1293.6 986.8 L1290.9 986.8 L1290.9 985.7 L1288.2 985.7 L1288.2 983.9 L1285.5 983.9 L1285.5 983.5 L1282.8 983.5 L1282.8 987.1 L1280.1 987.1 L1280.1 983.2 L1277.4 983.2 L1277.4 986.9 L1274.7 986.9 L1274.7 985.5 L1272.0 985.5 L1272.0 986.8 L1269.3 986.8 L1269.3 984.2 L1266.6 984.2 L1266.6 981.9 L1263.9 981.9 L1263.9 985.0 L1261.2 985.0 L1261.2 986.4 L1258.5 986.4 L1258.5 982.9 L1255.8 982.9 L1255.8 983.9 L1253.1 983.9 L1253.1 987.2 L1250.4 987.2 L1250.4 984.6 L1247.7 984.6 L1247.7 986.6 L1245.0 986.6 L1245.0 987.8 L1242.3 987.8 L1242.3 984.2 L1239.6 984.2 L1239.6 987.0 L1236.9 987.0 L1236.9 987.0 L1234.2 987.0 L1234.2 987.4 L1231.5 987.4 L1231.5 988.1 L1228.8 988.1 L1228.8 985.4 L1226.1 985.4 L1226.1 983.5 L1223.4 983.5 L1223.4 983.1 L1220.7 983.1 L1220.7 981.0 L1218.0 981.0 L1218.0 986.7 L1215.3 986.7 L1215.3 982.2 L1212.6 982.2 L1212.6 982.3 L1209.9 982.3 L1209.9 982.9 L1207.2 982.9 L1207.2 982.7 L1204.5 982.7 L1204.5 984.3 L1201.8 984.3 L1201.8 985.3 L1199.1 985.3 L1199.1 982.9 L1196.4 982.9 L1196.4 983.9 L1193.7 983.9 L1193.7 981.9 L1191.0 981.9 L1191.0 984.1 L1188.3 984.1 L1188.3 987.3 L1185.6 987.3 L1185.6 985.5 L1182.9 985.5 L1182.9 985.9 L1180.2 985.9 L1180.2 981.5 L1177.5 981.5 L1177.5 983.9 L1174.8 983.9 L1174.8 985.1 L1172.1 985.1 L1172.1 983.9 L1169.4 983.9 L1169.4 986.2 L1166.7 986.2 L1166.7 984.8 L1164.0 984.8 L1164.0 984.3 L1161.3 984.3 L1161.3 986.8 L1158.6 986.8 L1158.6 980.1 L1155.9 980.1 L1155.9 980.5 L1153.2 980.5 L1153.2 983.6 L1150.5 983.6 L1150.5 983.5 L1147.8 983.5 L1147.8 980.7 L1145.1 980.7 L1145.1 982.8 L1142.4 982.8 L1142.4 983.2 L1139.7 983.2 L1139.7 979.7 L1137.0 979.7 L1137.0 982.0 L1134.3 982.0 L1134.3 982.0 L1131.6 982.0 L1131.6 982.5 L1128.9 982.5 L1128.9 983.8 L1126.2 983.8 L1126.2 982.4 L1123.5 982.4 L1123.5 982.8 L1120.8 982.8 L1120.8 978.4 L1118.1 978.4 L1118.1 979.7 L1115.4 979.7 L1115.4 983.2 L1112.7 983.2 L1112.7 982.9 L1110.0 982.9 L1110.0 982.7 L1107.3 982.7 L1107.3 983.6 L1104.6 983.6 L1104.6 978.6 L1101.9 978.6 L1101.9 981.4 L1099.2 981.4 L1099.2 982.6 L1096.5 982.6 L1096.5 983.7 L1093.8 983.7 L1093.8 983.9 L1091.1 983.9 L1091.1 982.2 L1088.4 982.2 L1088.4 984.3 L1085.7 984.3 L1085.7 982.6 L1083.0 982.6 L1083.0 981.1 L1080.3 981.1 L1080.3 981.9 L1077.6 981.9 L1077.6 982.8 L1074.9 982.8 L1074.9 978.8 L1072.2 978.8 L1072.2 981.0 L1069.5 981.0 L1069.5 990.0 L1066.8 990.0 L1066.8 984.1 L1064.1 984.1 L1064.1 984.9 L1061.4 984.9 L1061.4 981.5 L1058.7 981.5 L1058.7 983.2 L1056.0 983.2 L1056.0 984.2 L1053.3 984.2 L1053.3 983.1 L1050.6 983.1 L1050.6 983.7 L1047.9 983.7 L1047.9 989.0 L1045.2 989.0 L1045.2 985.5 L1042.5 985.5 L1042.5 984.6 L1039.8 984.6 L1039.8 985.1 L1037.1 985.1 L1037.1 984.4 L1034.4 984.4 L1034.4 986.5 L1031.7 986.5 L1031.7 983.0 L1029.0 983.0 L1029.0 983.0 L1026.3 983.0 L1026.3 981.5 L1023.6 981.5 L1023.6 986.1 L1020.9 986.1 L1020.9 983.8 L1018.2 983.8 L1018.2 987.8 L1015.5 987.8 L1015.5 980.3 L1012.8 980.3 L1012.8 982.6 L1010.1 982.6 L1010.1 985.3 L1007.4 985.3 L1007.4 984.9 L1004.7 984.9 L1004.7 984.2 L1002.0 984.2 L1002.0 985.8 L999.3 985.8 L999.3 986.2 L996.6 986.2 L996.6 989.7 L993.9 989.7 L993.9 984.5 L991.2 984.5 L991.2 980.4 L988.5 980.4 L988.5 985.3 L985.8 985.3 L985.8 982.8 L983.1 982.8 L983.1 986.9 L980.4 986.9 L980.4 986.5 L977.7 986.5 L977.7 987.2 L975.0 987.2 L975.0 988.7 L972.3 988.7 L972.3 984.8 L969.6 984.8 L969.6 984.2 L966.9 984.2 L966.9 984.1 L964.2 984.1 L964.2 984.4 L961.5 984.4 L961.5 985.2 L958.8 985.2 L958.8 982.3 L956.1 982.3 L956.1 983.1 L953.4 983.1 L953.4 983.1 L950.7 983.1 L950.7 985.0 L948.0 985.0 L948.0 986.2 L945.3 986.2 L945.3 982.2 L942.6 982.2 L942.6 984.9 L939.9 984.9 L939.9 984.0 L937.2 984.0 L937.2 984.5 L934.5 984.5 L934.5 987.6 L931.8 987.6 L931.8 983.7 L929.1 983.7 L929.1 985.3 L926.4 985.3 L926.4 983.5 L923.7 983.5 L923.7 982.5 L921.0 982.5 L921.0 987.4 L918.3 987.4 L918.3 984.4 L915.6 984.4 L915.6 983.3 L912.9 983.3 L912.9 984.1 L910.2 984.1 L910.2 987.8 L907.5 987.8 L907.5 989.4 L904.8 989.4 L904.8 988.1 L902.1 988.1 L902.1 983.7 L899.4 983.7 L899.4 983.1 L896.7 983.1 L896.7 982.5 L894.0 982.5 L894.0 986.6 L891.3 986.6 L891.3 984.8 L888.6 984.8 L888.6 984.1 L885.9 984.1 L885.9 985.2 L883.2 985.2 L883.2 984.8 L880.5 984.8 L880.5 985.2 L877.8 985.2 L877.8 982.4 L875.1 982.4 L875.1 985.7 L872.4 985.7 L872.4 983.2 L869.7 983.2 L869.7 984.4 L867.0 984.4 L867.0 986.8 L864.3 986.8 L864.3 980.5 L861.6 980.5 L861.6 980.8 L858.9 980.8 L858.9 980.7 L856.2 980.7 L856.2 984.5 L853.5 984.5 L853.5 983.7 L850.8 983.7 L850.8 982.2 L848.1 982.2 L848.1 980.9 L845.4 980.9 L845.4 983.7 L842.7 983.7 L842.7 987.7 L840.0 987.7 L840.0 983.9 L837.3 983.9 L837.3 985.5 L834.6 985.5 L834.6 985.6 L831.9 985.6 L831.9 983.2 L829.2 983.2 L829.2 987.0 L826.5 987.0 L826.5 989.1 L823.8 989.1 L823.8 985.3 L821.1 985.3 L821.1 986.0 L818.4 986.0 L818.4 986.8 L815.7 986.8 L815.7 980.0 L813.0 980.0 L813.0 981.3 L810.3 981.3 L810.3 980.9 L807.6 980.9 L807.6 982.6 L804.9 982.6 L804.9 983.0 L802.2 983.0 L802.2 987.4 L799.5 987.4 L799.5 983.0 L796.8 983.0 L796.8 983.0 L794.1 983.0 L794.1 982.5 L791.4 982.5 L791.4 982.0 L788.7 982.0 L788.7 985.5 L786.0 985.5 L786.0 979.4 L783.3 979.4 L783.3 982.0 L780.6 982.0 L780.6 978.1 L777.9 978.1 L777.9 980.9 L775.2 980.9 L775.2 977.3 L772.5 977.3 L772.5 980.9 L769.8 980.9 L769.8 980.2 L767.1 980.2 L767.1 980.1 L764.4 980.1 L764.4 982.8 L761.7 982.8 L761.7 979.3 L759.0 979.3 L759.0 977.5 L756.3 977.5 L756.3 978.3 L753.6 978.3 L753.6 979.3 L750.9 979.3 L750.9 979.0 L748.2 979.0 L748.2 978.9 L745.5 978.9 L745.5 976.0 L742.8 976.0 L742.8 978.9 L740.1 978.9 L740.1 978.8 L737.4 978.8 L737.4 977.1 L734.7 977.1 L734.7 981.8 L732.0 981.8 L732.0 976.5 L729.3 976.5 L729.3 977.3 L726.6 977.3 L726.6 976.4 L723.9 976.4 L723.9 979.2 L721.2 979.2 L721.2 980.2 L718.5 980.2 L718.5 979.3 L715.8 979.3 L715.8 975.5 L713.1 975.5 L713.1 978.9 L710.4 978.9 L710.4 978.3 L707.7 978.3 L707.7 981.0 L705.0 981.0 L705.0 974.6 L702.3 974.6 L702.3 980.1 L699.6 980.1 L699.6 974.8 L696.9 974.8 L696.9 974.6 L694.2 974.6 L694.2 977.6 L691.5 977.6 L691.5 976.5 L688.8 976.5 L688.8 977.2 L686.1 977.2 L686.1 975.9 L683.4 975.9 L683.4 975.2 L680.7 975.2 L680.7 973.5 L678.0 973.5 L678.0 974.1 L675.3 974.1 L675.3 974.9 L672.6 974.9 L672.6 971.9 L669.9 971.9 L669.9 976.0 L667.2 976.0 L667.2 974.0 L664.5 974.0 L664.5 974.6 L661.8 974.6 L661.8 974.5 L659.1 974.5 L659.1 971.7 L656.4 971.7 L656.4 977.4 L653.7 977.4 L653.7 974.1 L651.0 974.1 L651.0 971.1 L648.3 971.1 L648.3 973.0 L645.6 973.0 L645.6 971.8 L642.9 971.8 L642.9 972.0 L640.2 972.0 L640.2 973.4 L637.5 973.4 L637.5 972.8 L634.8 972.8 L634.8 977.9 L632.1 977.9 L632.1 970.2 L629.4 970.2 L629.4 973.2 L626.7 973.2 L626.7 971.4 L624.0 971.4 L624.0 972.6 L621.3 972.6 L621.3 971.3 L618.6 971.3 L618.6 968.6 L615.9 968.6 L615.9 974.4 L613.2 974.4 L613.2 978.8 L610.5 978.8 L610.5 967.2 L607.8 967.2 L607.8 969.4 L605.1 969.4 L605.1 971.1 L602.4 971.1 L602.4 973.1 L599.7 973.1 L599.7 971.5 L597.0 971.5 L597.0 972.0 L594.3 972.0 L594.3 970.6 L591.6 970.6 L591.6 972.0 L588.9 972.0 L588.9 968.8 L586.2 968.8 L586.2 970.8 L583.5 970.8 L583.5 963.7 L580.8 963.7 L580.8 967.9 L578.1 967.9 L578.1 968.3 L575.4 968.3 L575.4 969.0 L572.7 969.0 L572.7 970.9 L570.0 970.9 L570.0 968.8 L567.3 968.8 L567.3 964.9 L564.6 964.9 L564.6 966.8 L561.9 966.8 L561.9 970.8 L559.2 970.8 L559.2 965.3 L556.5 965.3 L556.5 969.4 L553.8 969.4 L553.8 968.1 L551.1 968.1 L551.1 966.5 L548.4 966.5 L548.4 969.8 L545.7 969.8 L545.7 965.3 L543.0 965.3 L543.0 977.2 L540.3 977.2 L540.3 970.9 L537.6 970.9 L537.6 963.6 L534.9 963.6 L534.9 965.4 L532.2 965.4 L532.2 961.2 L529.5 961.2 L529.5 964.8 L526.8 964.8 L526.8 964.8 L524.1 964.8 L524.1 963.0 L521.4 963.0 L521.4 965.6 L518.7 965.6 L518.7 966.1 L516.0 966.1 L516.0 962.9 L513.3 962.9 L513.3 965.3 L510.6 965.3 L510.6 964.7 L507.9 964.7 L507.9 961.4 L505.2 961.4 L505.2 962.6 L502.5 962.6 L502.5 958.3 L499.8 958.3 L499.8 966.2 L497.1 966.2 L497.1 964.0 L494.4 964.0 L494.4 958.2 L491.7 958.2 L491.7 957.3 L489.0 957.3 L489.0 963.8 L486.3 963.8 L486.3 960.2 L483.6 960.2 L483.6 955.6 L480.9 955.6 L480.9 960.8 L478.2 960.8 L478.2 959.7 L475.5 959.7 L475.5 965.0 L472.8 965.0 L472.8 958.4 L470.1 958.4 L470.1 961.9 L467.4 961.9 L467.4 959.3 L464.7 959.3 L464.7 955.2 L462.0 955.2 L462.0 958.3 L459.3 958.3 L459.3 954.9 L456.6 954.9 L456.6 959.8 L453.9 959.8 L453.9 962.1 L451.2 962.1 L451.2 952.4 L448.5 952.4 L448.5 957.8 L445.8 957.8 L445.8 952.1 L443.1 952.1 L443.1 956.8 L440.4 956.8 L440.4 960.9 L437.7 960.9 L437.7 954.7 L435.0 954.7 L435.0 945.7 L432.3 945.7 L432.3 951.7 L429.6 951.7 L429.6 947.7 L426.9 947.7 L426.9 952.8 L424.2 952.8 L424.2 959.2 L421.5 959.2 L421.5 954.2 L418.8 954.2 L418.8 949.8 L416.1 949.8 L416.1 948.7 L413.4 948.7 L413.4 955.7 L410.7 955.7 L410.7 946.0 L408.0 946.0 L408.0 947.4 L405.3 947.4 L405.3 956.5 L402.6 956.5 L402.6 947.8 L399.9 947.8 L399.9 949.2 L397.2 949.2 L397.2 951.2 L394.5 951.2 L394.5 948.6 L391.8 948.6 L391.8 946.2 L389.1 946.2 L389.1 949.6 L386.4 949.6 L386.4 958.5 L383.7 958.5 L383.7 950.2 L381.0 950.2 L381.0 952.4 L378.3 952.4 L378.3 952.3 L375.6 952.3 L375.6 946.0 L372.9 946.0 L372.9 943.6 L370.2 943.6 L370.2 947.7 L367.5 947.7 L367.5 952.7 L364.8 952.7 L364.8 945.1 L362.1 945.1 L362.1 958.9 L359.4 958.9 L359.4 947.0 L356.7 947.0 L356.7 961.8 L354.0 961.8 L354.0 938.5 L351.3 938.5 L351.3 944.1 L348.6 944.1 L348.6 944.1 L345.9 944.1 L345.9 943.9 L343.2 943.9 L343.2 945.9 L340.5 945.9 L340.5 942.0 L337.8 942.0 L337.8 943.6 L335.1 943.6 L335.1 941.3 L332.4 941.3 L332.4 943.9 L329.7 943.9 L329.7 945.0 L327.0 945.0 L327.0 949.2 L324.3 949.2 L324.3 938.4 L321.6 938.4 L321.6 946.6 L318.9 946.6 L318.9 941.3 L316.2 941.3 L316.2 942.6 L313.5 942.6 L313.5 947.6 L310.8 947.6 L310.8 943.2 L308.1 943.2 L308.1 943.8 L305.4 943.8 L305.4 940.4 L302.7 940.4 L302.7 945.7 L300.0 945.7 L300.0 942.9 L297.3 942.9 L297.3 945.3 L294.6 945.3 L294.6 944.8 L291.9 944.8 L291.9 942.9 L289.2 942.9 L289.2 939.6 L286.5 939.6 L286.5 950.2 L283.8 950.2 L283.8 949.7 L281.1 949.7 L281.1 941.2 L278.4 941.2 L278.4 942.9 L275.7 942.9 L275.7 943.2 L273.0 943.2 L273.0 945.7 L270.3 945.7 L270.3 946.6 L267.6 946.6 L267.6 946.5 L264.9 946.5 L264.9 948.5 L262.2 948.5 L262.2 941.1 L259.5 941.1 L259.5 945.7 L256.8 945.7 L256.8 943.9 L254.1 943.9 L254.1 942.3 L251.4 942.3 L251.4 944.0 L248.7 944.0 L248.7 951.4 L246.0 951.4 L246.0 941.9 L243.3 941.9 L243.3 946.0 L240.6 946.0 L240.6 944.8 L237.9 944.8 L237.9 943.3 L235.2 943.3 L235.2 951.2 L232.5 951.2 L232.5 947.5 L229.8 947.5 L229.8 947.7 L227.1 947.7 L227.1 948.5 L224.4 948.5 L224.4 949.5 L221.7 949.5 L221.7 947.0 L219.0 947.0 L219.0 944.2 L216.3 944.2 L216.3 944.4 L213.6 944.4 L213.6 948.4 L210.9 948.4 L210.9 950.1 L208.2 950.1 L208.2 945.6 L205.5 945.6 L205.5 946.6 L202.8 946.6 L202.8 946.0 L200.1 946.0 L200.1 956.5 L197.4 956.5 L197.4 949.0 L194.7 949.0 L194.7 953.2 L192.0 953.2 L192.0 953.9 L189.3 953.9 L189.3 955.1 L186.6 955.1 L186.6 959.9 L183.9 959.9 L183.9 948.0 L181.2 948.0 L181.2 947.9 L178.5 947.9 L178.5 951.4 L175.8 951.4 L175.8 957.4 L173.1 957.4 L173.1 954.6 L170.4 954.6 L170.4 958.0 L167.7 958.0 L167.7 951.4 L165.0 951.4Z"/>
<rect fill="#000000" x="325.5" y="63.3" width="8.0" height="36.6"/>
<rect fill="#000000" x="251.2" y="78.0" width="7.0" height="34.0"/>
<rect fill="#000000" x="272.5" y="76.6" width="7.0" height="32.3"/>
<rect fill="#000000" x="345.5" y="71.6" width="8.0" height="32.2"/>
<rect fill="#000000" x="378.0" y="78.0" width="6.0" height="33.5"/>
<rect fill="#ff0000" x="325.5" y="218.3" width="8.0" height="35.6"/>
<rect fill="#ff0000" x="251.2" y="232.0" width="7.0" height="34.0"/>
<rect fill="#ff0000" x="272.5" y="230.6" width="7.0" height="32.3"/>
<rect fill="#ff0000" x="345.5" y="226.0" width="8.0" height="31.8"/>
<rect fill="#ff0000" x="378.0" y="232.0" width="6.0" height="33.5"/>
<rect fill="#00ff00" x="284.6" y="373.0" width="3.5" height="41.2"/>
<rect fill="#00ff00" x="210.0" y="398.0" width="3.0" height="35.0"/>
<rect fill="#00ff00" x="334.0" y="383.0" width="4.0" height="29.3"/>
<rect fill="#00ff00" x="374.5" y="386.0" width="3.0" height="35.5"/>
<rect fill="#00ff00" x="399.5" y="396.0" width="3.0" height="33.8"/>
<rect fill="#00ff00" x="544.1" y="436.0" width="3.0" height="29.2"/>
<rect fill="#00ff00" x="672.1" y="448.0" width="3.0" height="29.7"/>
<rect fill="#00ff00" x="1116.0" y="463.0" width="4.0" height="24.1"/>
<rect fill="#00ff00" x="1130.0" y="464.0" width="4.0" height="22.4"/>
<rect fill="#0000ff" x="269.4" y="528.0" width="4.0" height="50.5"/>
<rect fill="#0000ff" x="313.1" y="538.0" width="3.0" height="31.8"/>
<rect fill="#0000ff" x="354.5" y="543.0" width="3.0" height="31.8"/>
<rect fill="#0000ff" x="406.2" y="563.0" width="3.0" height="28.2"/>
<rect fill="#0000ff" x="434.5" y="571.5" width="3.0" height="29.1"/>
<rect fill="#0000ff" x="714.5" y="624.5" width="3.0" height="19.4"/>
<rect fill="#00ffff" x="357.5" y="688.0" width="4.0" height="73.5"/>
<rect fill="#00ffff" x="255.6" y="710.6" width="3.5" height="54.7"/>
<rect fill="#00ffff" x="297.6" y="703.0" width="4.0" height="48.8"/>
<rect fill="#00ffff" x="392.0" y="718.0" width="4.0" height="44.7"/>
<rect fill="#00ffff" x="542.0" y="760.0" width="4.0" height="49.2"/>
<rect fill="#00ffff" x="625.0" y="783.7" width="4.0" height="38.8"/>
<rect fill="#00ffff" x="224.8" y="731.5" width="3.5" height="40.0"/>
<rect fill="#00ffff" x="343.0" y="713.0" width="6.0" height="42.4"/>
<rect fill="#00ffff" x="1064.0" y="820.0" width="4.0" height="24.8"/>
<rect fill="#00ffff" x="1103.2" y="818.0" width="3.5" height="29.7"/>
<rect fill="#00ffff" x="1116.2" y="820.0" width="3.5" height="27.1"/>
<rect fill="#00ffff" x="346.0" y="756.3" width="4.0" height="44.7"/>
<rect fill="#00ffff" x="543.6" y="809.6" width="4.0" height="35.0"/>
<rect fill="#00ff00" x="303.5" y="412.8" width="3.0" height="33.2"/>
</svg>
</body></html>
